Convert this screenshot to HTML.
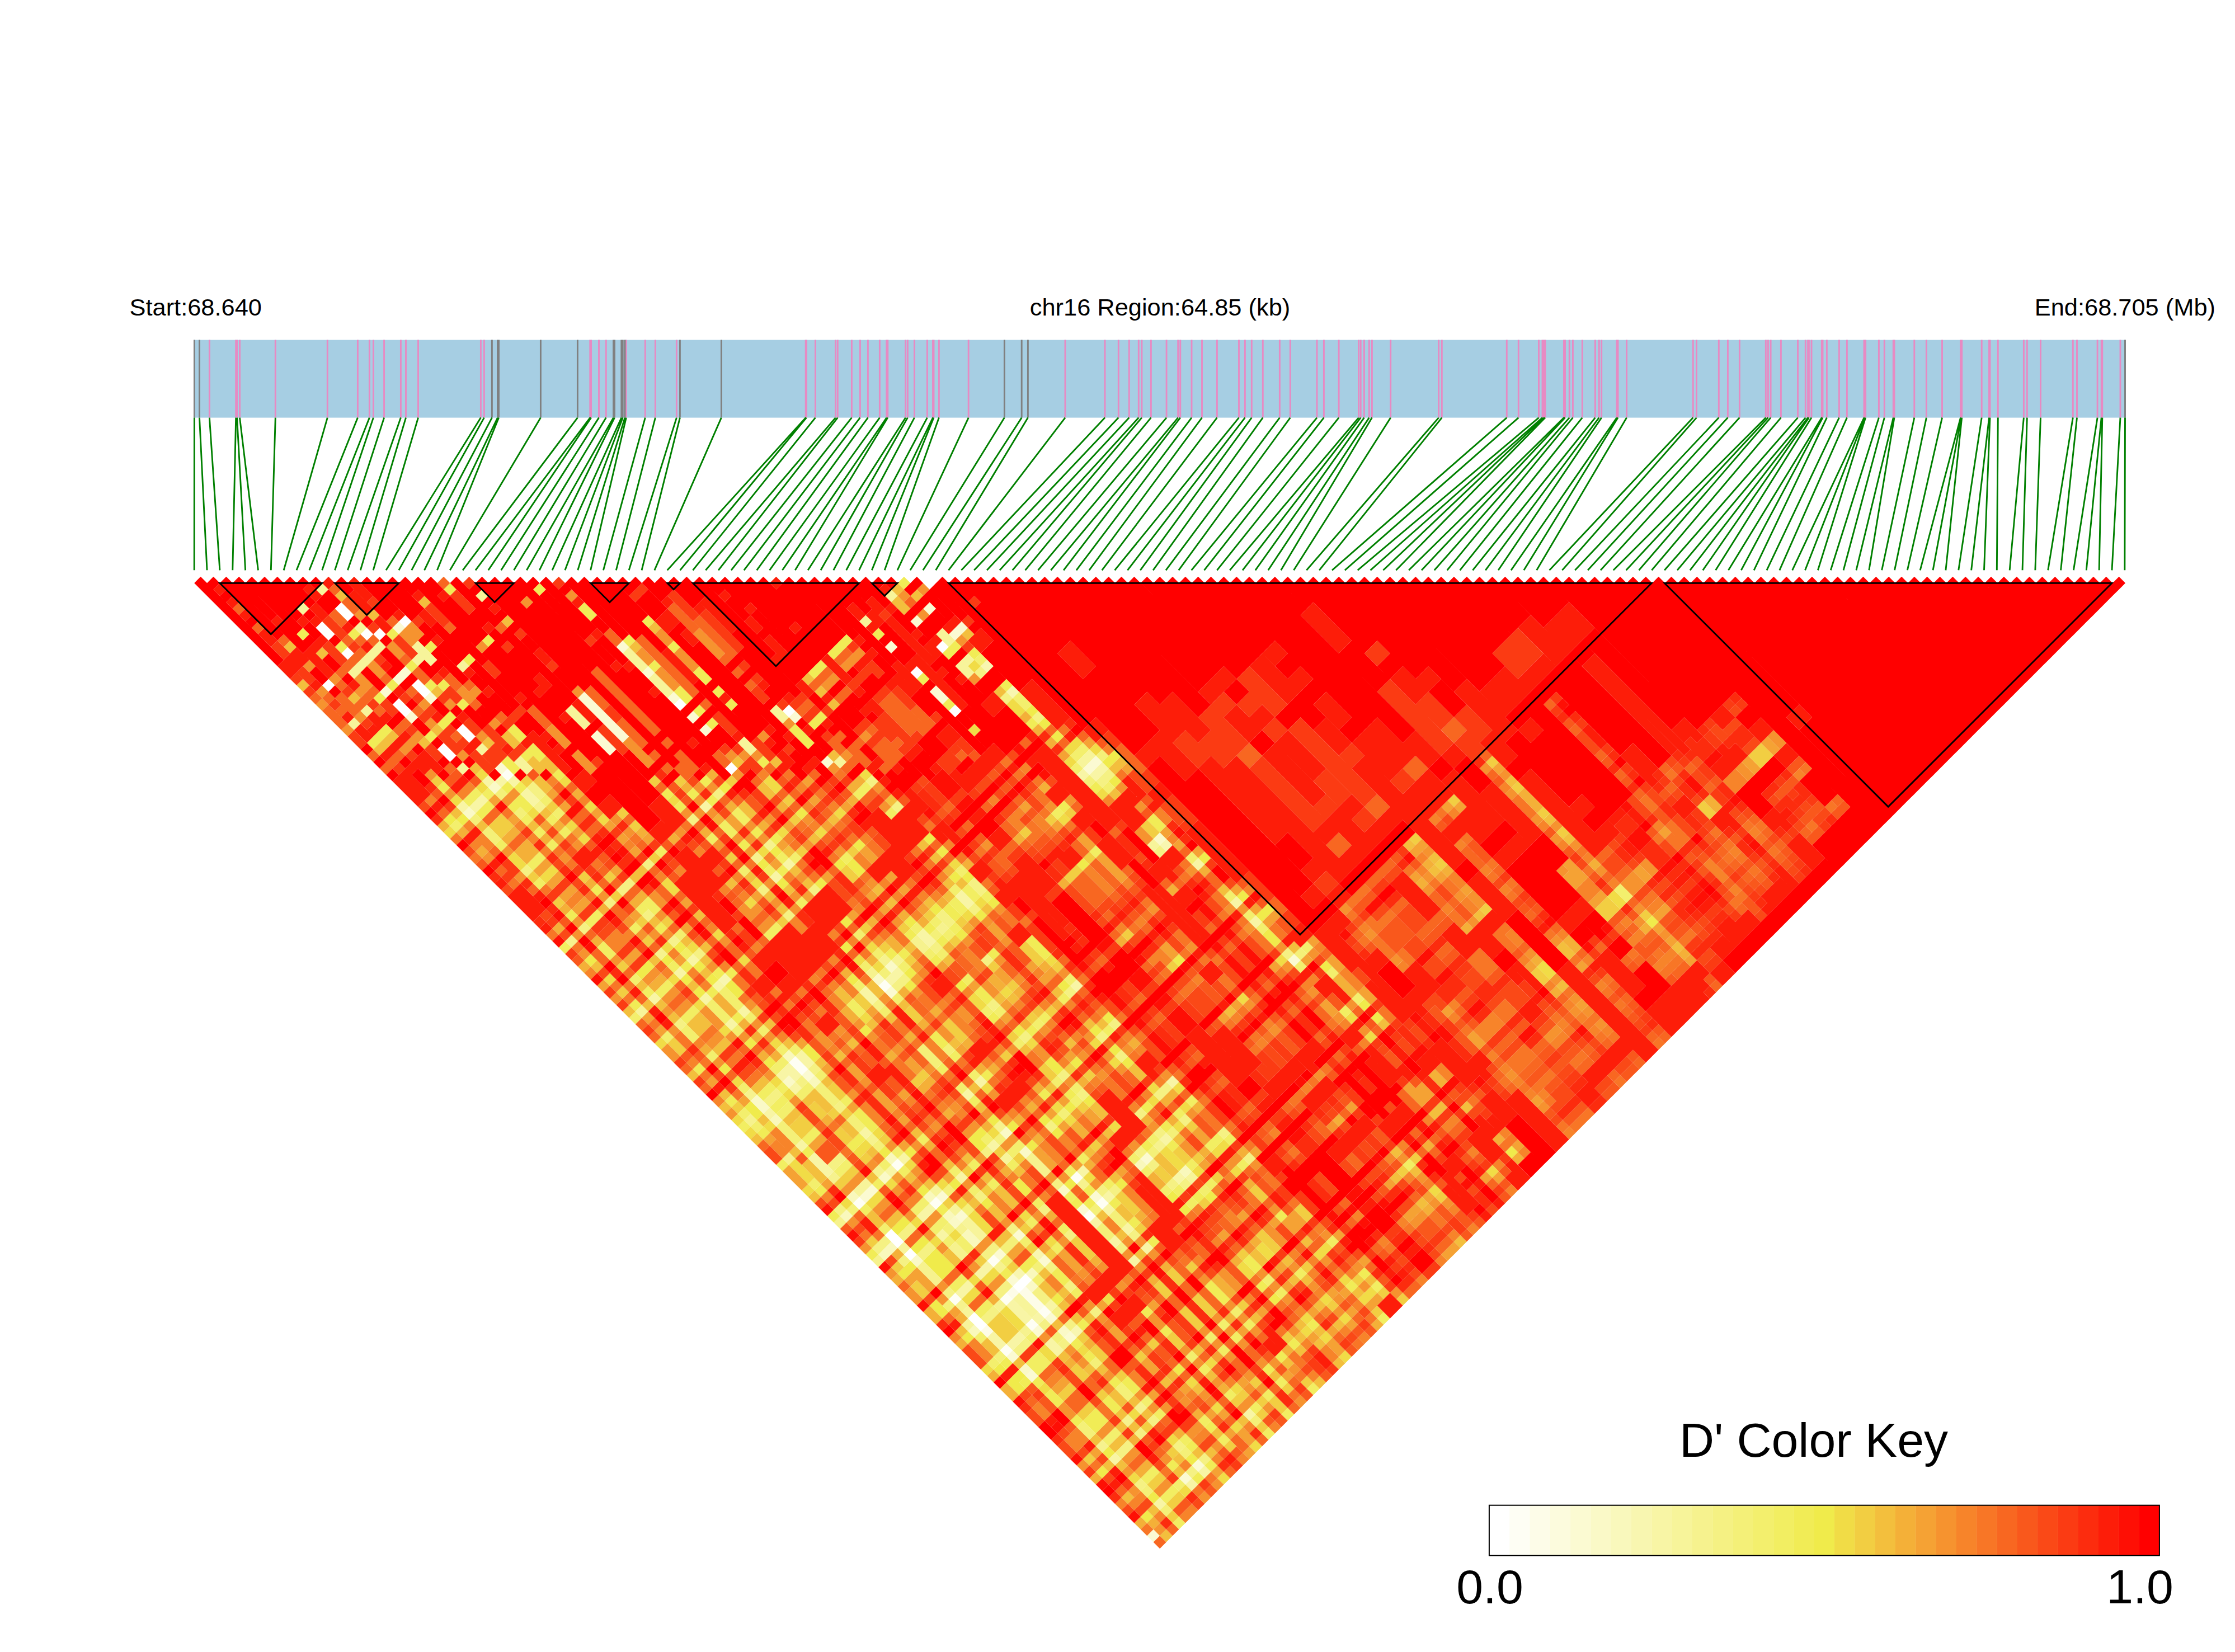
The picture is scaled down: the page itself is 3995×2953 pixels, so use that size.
<!DOCTYPE html><html><head><meta charset="utf-8"><title>LD Block</title>
<style>html,body{margin:0;padding:0;background:#fff}svg{display:block}text{font-family:"Liberation Sans",Arial,sans-serif;fill:#000}</style></head><body>
<svg width="3995" height="2953" viewBox="0 0 3995 2953">
<rect width="3995" height="2953" fill="#fff"/>
<text x="231.5" y="563.8" font-size="43.4">Start:68.640</text>
<text x="2073.5" y="563.8" font-size="43.4" text-anchor="middle">chr16 Region:64.85 (kb)</text>
<text x="3960" y="563.8" font-size="43.4" text-anchor="end">End:68.705 (Mb)</text>
<rect x="346" y="607.6" width="3453.9" height="139" fill="#a6cee3"/>
<path d="M374.4 607.6V746.6M421.7 607.6V746.6M423.6 607.6V746.6M428.5 607.6V746.6M492.3 607.6V746.6M585.3 607.6V746.6M639.4 607.6V746.6M660.4 607.6V746.6M667.4 607.6V746.6M686.6 607.6V746.6M716.4 607.6V746.6M725.5 607.6V746.6M747.5 607.6V746.6M859.4 607.6V746.6M865.4 607.6V746.6M1054.8 607.6V746.6M1056.6 607.6V746.6M1070.5 607.6V746.6M1083.3 607.6V746.6M1119.3 607.6V746.6M1153.3 607.6V746.6M1171.4 607.6V746.6M1209.4 607.6V746.6M1440.2 607.6V746.6M1441.5 607.6V746.6M1457.5 607.6V746.6M1493.5 607.6V746.6M1497.3 607.6V746.6M1522.4 607.6V746.6M1537.4 607.6V746.6M1551.4 607.6V746.6M1572.4 607.6V746.6M1584.8 607.6V746.6M1586.8 607.6V746.6M1618.7 607.6V746.6M1622.4 607.6V746.6M1634.5 607.6V746.6M1657.4 607.6V746.6M1667.5 607.6V746.6M1669 607.6V746.6M1678.4 607.6V746.6M1731.2 607.6V746.6M1904 607.6V746.6M1975 607.6V746.6M1999.3 607.6V746.6M2018.3 607.6V746.6M2035.3 607.6V746.6M2040.9 607.6V746.6M2057.4 607.6V746.6M2085.1 607.6V746.6M2105.7 607.6V746.6M2109.8 607.6V746.6M2130 607.6V746.6M2148.5 607.6V746.6M2175.4 607.6V746.6M2214.5 607.6V746.6M2225.4 607.6V746.6M2237.3 607.6V746.6M2257.3 607.6V746.6M2287.4 607.6V746.6M2306.3 607.6V746.6M2354 607.6V746.6M2366.4 607.6V746.6M2393.1 607.6V746.6M2428.5 607.6V746.6M2432.2 607.6V746.6M2438.4 607.6V746.6M2447.3 607.6V746.6M2452.4 607.6V746.6M2485.7 607.6V746.6M2571.6 607.6V746.6M2577.3 607.6V746.6M2693.3 607.6V746.6M2714.3 607.6V746.6M2750.5 607.6V746.6M2757 607.6V746.6M2759.5 607.6V746.6M2762 607.6V746.6M2795.5 607.6V746.6M2797.5 607.6V746.6M2805.3 607.6V746.6M2811.4 607.6V746.6M2828.3 607.6V746.6M2851.4 607.6V746.6M2858.2 607.6V746.6M2862.7 607.6V746.6M2890 607.6V746.6M2892 607.6V746.6M2907.6 607.6V746.6M3026.3 607.6V746.6M3032.5 607.6V746.6M3072.3 607.6V746.6M3088.4 607.6V746.6M3109.4 607.6V746.6M3156.3 607.6V746.6M3160.4 607.6V746.6M3165.1 607.6V746.6M3183.4 607.6V746.6M3213.5 607.6V746.6M3227.3 607.6V746.6M3231.6 607.6V746.6M3233.4 607.6V746.6M3238 607.6V746.6M3256.3 607.6V746.6M3258 607.6V746.6M3265.4 607.6V746.6M3287.4 607.6V746.6M3301.4 607.6V746.6M3332 607.6V746.6M3333.3 607.6V746.6M3334.6 607.6V746.6M3358.4 607.6V746.6M3368.3 607.6V746.6M3384.3 607.6V746.6M3386 607.6V746.6M3421.8 607.6V746.6M3443.4 607.6V746.6M3471.5 607.6V746.6M3504.5 607.6V746.6M3505.6 607.6V746.6M3506.7 607.6V746.6M3542.2 607.6V746.6M3555.5 607.6V746.6M3557 607.6V746.6M3571.3 607.6V746.6M3617.4 607.6V746.6M3623.3 607.6V746.6M3647.5 607.6V746.6M3705.3 607.6V746.6M3712.5 607.6V746.6M3749.1 607.6V746.6M3756.2 607.6V746.6M3757.8 607.6V746.6M3790 607.6V746.6" stroke="#e78ac3" stroke-width="2.9" fill="none"/>
<path d="M347.4 607.6V746.6M356.5 607.6V746.6M879.4 607.6V746.6M889.5 607.6V746.6M891.5 607.6V746.6M966.4 607.6V746.6M1032.4 607.6V746.6M1096.5 607.6V746.6M1098.5 607.6V746.6M1110.8 607.6V746.6M1113.2 607.6V746.6M1117 607.6V746.6M1215.4 607.6V746.6M1289.4 607.6V746.6M1795.4 607.6V746.6M1826.2 607.6V746.6M1837.4 607.6V746.6M3798.5 607.6V746.6" stroke="#808080" stroke-width="2.9" fill="none"/>
<path d="M347.4 746.6L347.2 1019.3M356.5 746.6L370.05 1019.3M374.4 746.6L392.9 1019.3M421.7 746.6L415.76 1019.3M423.6 746.6L438.61 1019.3M428.5 746.6L461.46 1019.3M492.3 746.6L484.31 1019.3M585.3 746.6L507.16 1019.3M639.4 746.6L530.02 1019.3M660.4 746.6L552.87 1019.3M667.4 746.6L575.72 1019.3M686.6 746.6L598.57 1019.3M716.4 746.6L621.42 1019.3M725.5 746.6L644.28 1019.3M747.5 746.6L667.13 1019.3M859.4 746.6L689.98 1019.3M865.4 746.6L712.83 1019.3M879.4 746.6L735.68 1019.3M889.5 746.6L758.54 1019.3M891.5 746.6L781.39 1019.3M966.4 746.6L804.24 1019.3M1032.4 746.6L827.09 1019.3M1054.8 746.6L849.94 1019.3M1056.6 746.6L872.8 1019.3M1070.5 746.6L895.65 1019.3M1083.3 746.6L918.5 1019.3M1096.5 746.6L941.35 1019.3M1098.5 746.6L964.2 1019.3M1110.8 746.6L987.06 1019.3M1113.2 746.6L1009.91 1019.3M1117 746.6L1032.76 1019.3M1119.3 746.6L1055.61 1019.3M1153.3 746.6L1078.46 1019.3M1171.4 746.6L1101.32 1019.3M1209.4 746.6L1124.17 1019.3M1215.4 746.6L1147.02 1019.3M1289.4 746.6L1169.87 1019.3M1440.2 746.6L1192.72 1019.3M1441.5 746.6L1215.58 1019.3M1457.5 746.6L1238.43 1019.3M1493.5 746.6L1261.28 1019.3M1497.3 746.6L1284.13 1019.3M1522.4 746.6L1306.98 1019.3M1537.4 746.6L1329.84 1019.3M1551.4 746.6L1352.69 1019.3M1572.4 746.6L1375.54 1019.3M1584.8 746.6L1398.39 1019.3M1586.8 746.6L1421.24 1019.3M1618.7 746.6L1444.1 1019.3M1622.4 746.6L1466.95 1019.3M1634.5 746.6L1489.8 1019.3M1657.4 746.6L1512.65 1019.3M1667.5 746.6L1535.5 1019.3M1669 746.6L1558.36 1019.3M1678.4 746.6L1581.21 1019.3M1731.2 746.6L1604.06 1019.3M1795.4 746.6L1626.91 1019.3M1826.2 746.6L1649.76 1019.3M1837.4 746.6L1672.62 1019.3M1904 746.6L1695.47 1019.3M1975 746.6L1718.32 1019.3M1999.3 746.6L1741.17 1019.3M2018.3 746.6L1764.02 1019.3M2035.3 746.6L1786.88 1019.3M2040.9 746.6L1809.73 1019.3M2057.4 746.6L1832.58 1019.3M2085.1 746.6L1855.43 1019.3M2105.7 746.6L1878.28 1019.3M2109.8 746.6L1901.14 1019.3M2130 746.6L1923.99 1019.3M2148.5 746.6L1946.84 1019.3M2175.4 746.6L1969.69 1019.3M2214.5 746.6L1992.54 1019.3M2225.4 746.6L2015.4 1019.3M2237.3 746.6L2038.25 1019.3M2257.3 746.6L2061.1 1019.3M2287.4 746.6L2083.95 1019.3M2306.3 746.6L2106.8 1019.3M2354 746.6L2129.66 1019.3M2366.4 746.6L2152.51 1019.3M2393.1 746.6L2175.36 1019.3M2428.5 746.6L2198.21 1019.3M2432.2 746.6L2221.06 1019.3M2438.4 746.6L2243.92 1019.3M2447.3 746.6L2266.77 1019.3M2452.4 746.6L2289.62 1019.3M2485.7 746.6L2312.47 1019.3M2571.6 746.6L2335.32 1019.3M2577.3 746.6L2358.18 1019.3M2693.3 746.6L2381.03 1019.3M2714.3 746.6L2403.88 1019.3M2750.5 746.6L2426.73 1019.3M2757 746.6L2449.58 1019.3M2759.5 746.6L2472.44 1019.3M2762 746.6L2495.29 1019.3M2795.5 746.6L2518.14 1019.3M2797.5 746.6L2540.99 1019.3M2805.3 746.6L2563.84 1019.3M2811.4 746.6L2586.7 1019.3M2828.3 746.6L2609.55 1019.3M2851.4 746.6L2632.4 1019.3M2858.2 746.6L2655.25 1019.3M2862.7 746.6L2678.1 1019.3M2890 746.6L2700.96 1019.3M2892 746.6L2723.81 1019.3M2907.6 746.6L2746.66 1019.3M3026.3 746.6L2769.51 1019.3M3032.5 746.6L2792.36 1019.3M3072.3 746.6L2815.22 1019.3M3088.4 746.6L2838.07 1019.3M3109.4 746.6L2860.92 1019.3M3156.3 746.6L2883.77 1019.3M3160.4 746.6L2906.62 1019.3M3165.1 746.6L2929.48 1019.3M3183.4 746.6L2952.33 1019.3M3213.5 746.6L2975.18 1019.3M3227.3 746.6L2998.03 1019.3M3231.6 746.6L3020.88 1019.3M3233.4 746.6L3043.74 1019.3M3238 746.6L3066.59 1019.3M3256.3 746.6L3089.44 1019.3M3258 746.6L3112.29 1019.3M3265.4 746.6L3135.14 1019.3M3287.4 746.6L3158 1019.3M3301.4 746.6L3180.85 1019.3M3332 746.6L3203.7 1019.3M3333.3 746.6L3226.55 1019.3M3334.6 746.6L3249.4 1019.3M3358.4 746.6L3272.26 1019.3M3368.3 746.6L3295.11 1019.3M3384.3 746.6L3317.96 1019.3M3386 746.6L3340.81 1019.3M3421.8 746.6L3363.66 1019.3M3443.4 746.6L3386.52 1019.3M3471.5 746.6L3409.37 1019.3M3504.5 746.6L3432.22 1019.3M3505.6 746.6L3455.07 1019.3M3506.7 746.6L3477.92 1019.3M3542.2 746.6L3500.78 1019.3M3555.5 746.6L3523.63 1019.3M3557 746.6L3546.48 1019.3M3571.3 746.6L3569.33 1019.3M3617.4 746.6L3592.18 1019.3M3623.3 746.6L3615.04 1019.3M3647.5 746.6L3637.89 1019.3M3705.3 746.6L3660.74 1019.3M3712.5 746.6L3683.59 1019.3M3749.1 746.6L3706.44 1019.3M3756.2 746.6L3729.3 1019.3M3757.8 746.6L3752.15 1019.3M3790 746.6L3775 1019.3M3798.5 746.6L3797.85 1019.3" stroke="#008000" stroke-width="2.9" fill="none"/>
<g transform="matrix(11.43 -11.43 11.43 11.43 335.774 1030.800)">
<path fill="#ffffff" d="M2 19v1h1v-1zM3 106v2h1v-2zM3 109v1h1v-1zM3 119v2h1v-2zM6 14v2h1v-2zM6 18v1h1v-1zM6 26v2h1v-2zM6 33v2h1v-2zM9 14v2h1v-2zM9 18v1h1v-1zM9 26v2h1v-2zM9 33v2h1v-2zM9 120v1h1v-1zM10 19v1h1v-1zM10 120v1h1v-1zM13 20v1h1v-1zM27 57v1h1v-1zM28 48v1h1v-1zM36 57v1h1v-1zM49 64v1h1v-1zM49 70v1h1v-1zM53 64v1h1v-1zM57 58v1h1v-1z"/>
<path fill="#fefef4" d="M3 101v1h1v-1zM3 116v1h1v-1zM3 124v1h1v-1zM7 120v1h1v-1zM7 124v1h1v-1zM9 40v1h1v-1zM9 85v2h1v-2zM9 101v1h1v-1zM9 107v1h1v-1zM9 116v1h1v-1zM9 124v1h1v-1zM20 120v1h1v-1zM22 86v1h1v-1zM22 116v1h1v-1zM22 120v1h1v-1z"/>
<path fill="#fdfce8" d="M3 121v1h1v-1zM8 120v1h1v-1zM9 121v3h1v-3z"/>
<path fill="#fbfad2" d="M0 150v1h1v-1zM3 125v1h1v-1zM3 128v1h1v-1zM4 101v1h1v-1zM5 101v1h1v-1zM6 24v1h1v-1zM6 28v1h1v-1zM7 125v1h1v-1zM7 148v1h1v-1zM8 24v1h1v-1zM9 24v1h1v-1zM9 28v1h1v-1zM9 39v1h1v-1zM9 87v1h1v-1zM9 119v1h1v-1zM9 125v1h1v-1zM9 128v1h1v-1zM9 148v1h1v-1zM10 107v1h1v-1zM10 110v1h1v-1zM10 116v1h1v-1zM12 20v1h1v-1zM13 116v1h1v-1zM13 120v1h1v-1zM19 44v3h1v-3zM20 119v1h1v-1zM21 40v7h1v-7zM22 87v1h1v-1zM22 119v1h1v-1zM28 39v1h1v-1zM28 43v1h1v-1zM28 47v1h1v-1zM28 50v1h1v-1zM28 52v1h1v-1zM29 120v1h1v-1zM35 64v1h1v-1zM36 58v1h1v-1zM49 60v1h1v-1zM49 67v2h1v-2zM53 60v1h1v-1zM55 60v1h1v-1zM55 64v1h1v-1zM55 85v1h1v-1zM56 64v1h1v-1zM56 85v1h1v-1zM56 116v1h1v-1z"/>
<path fill="#faf9c7" d="M3 40v1h1v-1zM3 85v2h1v-2zM3 110v1h1v-1zM3 127v1h1v-1zM7 40v1h1v-1zM7 86v1h1v-1zM7 101v1h1v-1zM9 110v1h1v-1zM9 127v1h1v-1zM10 121v1h1v-1zM20 107v1h1v-1zM20 110v1h1v-1zM20 116v1h1v-1zM22 85v1h1v-1zM24 85v1h1v-1zM55 96v1h1v-1z"/>
<path fill="#f9f8bc" d="M1 101v1h1v-1zM1 107v1h1v-1zM2 107v1h1v-1zM2 120v1h1v-1zM3 88v1h1v-1zM3 100v1h1v-1zM9 84v1h1v-1zM9 88v1h1v-1zM9 100v1h1v-1zM9 106v1h1v-1zM9 109v1h1v-1zM9 112v2h1v-2zM11 120v1h1v-1zM28 120v1h1v-1zM31 124v1h1v-1z"/>
<path fill="#f8f6b0" d="M10 73v1h1v-1zM10 119v1h1v-1zM10 128v1h1v-1zM13 119v1h1v-1zM55 69v1h1v-1zM55 73v1h1v-1zM55 97v1h1v-1z"/>
<path fill="#f8f5a5" d="M3 39v1h1v-1zM3 69v1h1v-1zM3 87v1h1v-1zM3 92v1h1v-1zM3 94v3h1v-3zM3 122v2h1v-2zM3 141v1h1v-1zM3 148v1h1v-1zM4 40v1h1v-1zM4 116v1h1v-1zM4 124v1h1v-1zM5 40v1h1v-1zM5 116v1h1v-1zM5 124v1h1v-1zM7 39v1h1v-1zM7 69v1h1v-1zM7 73v1h1v-1zM7 77v1h1v-1zM7 85v1h1v-1zM7 87v1h1v-1zM7 107v1h1v-1zM7 110v1h1v-1zM7 116v1h1v-1zM7 121v3h1v-3zM7 127v2h1v-2zM7 149v1h1v-1zM8 40v1h1v-1zM8 85v2h1v-2zM8 101v1h1v-1zM8 107v1h1v-1zM8 116v1h1v-1zM8 124v1h1v-1zM9 41v1h1v-1zM9 43v2h1v-2zM9 69v1h1v-1zM9 73v1h1v-1zM9 77v1h1v-1zM9 96v1h1v-1zM9 149v1h1v-1zM10 85v2h1v-2zM10 101v1h1v-1zM10 124v1h1v-1zM13 107v1h1v-1zM17 148v1h1v-1zM18 107v1h1v-1zM20 85v2h1v-2zM20 101v1h1v-1zM20 121v1h1v-1zM20 124v1h1v-1zM20 127v1h1v-1zM22 58v1h1v-1zM22 69v1h1v-1zM22 101v1h1v-1zM22 121v1h1v-1zM22 124v1h1v-1zM22 127v1h1v-1zM23 86v1h1v-1zM23 116v1h1v-1zM23 120v1h1v-1zM24 69v1h1v-1zM24 86v1h1v-1zM29 85v2h1v-2zM30 124v1h1v-1zM32 120v1h1v-1zM35 85v2h1v-2zM37 101v1h1v-1zM37 116v1h1v-1zM54 85v1h1v-1zM55 86v1h1v-1zM56 86v1h1v-1zM56 101v1h1v-1zM56 107v1h1v-1zM56 110v1h1v-1z"/>
<path fill="#f7f49a" d="M1 24v1h1v-1zM1 69v1h1v-1zM2 119v1h1v-1zM3 24v1h1v-1zM3 108v1h1v-1zM3 118v1h1v-1zM4 100v1h1v-1zM5 20v1h1v-1zM5 100v1h1v-1zM6 11v1h1v-1zM6 20v1h1v-1zM6 36v1h1v-1zM7 20v1h1v-1zM8 20v1h1v-1zM8 121v3h1v-3zM9 11v1h1v-1zM9 17v1h1v-1zM9 20v1h1v-1zM9 36v1h1v-1zM10 106v1h1v-1zM10 109v1h1v-1zM10 111v3h1v-3zM11 24v1h1v-1zM11 40v2h1v-2zM12 23v3h1v-3zM14 28v1h1v-1zM18 109v1h1v-1zM19 40v3h1v-3zM21 24v1h1v-1zM28 40v3h1v-3zM28 44v3h1v-3zM30 56v2h1v-2zM31 125v1h1v-1zM35 56v2h1v-2zM36 65v1h1v-1zM49 56v1h1v-1zM53 56v1h1v-1zM53 67v2h1v-2zM54 63v2h1v-2zM54 67v1h1v-1zM54 96v1h1v-1zM55 84v1h1v-1zM56 84v1h1v-1z"/>
<path fill="#f6f28e" d="M0 101v1h1v-1zM0 107v1h1v-1zM1 58v1h1v-1zM1 86v1h1v-1zM1 92v1h1v-1zM3 84v1h1v-1zM3 97v1h1v-1zM3 111v3h1v-3zM3 117v1h1v-1zM3 139v1h1v-1zM6 120v1h1v-1zM6 124v1h1v-1zM7 66v1h1v-1zM7 100v1h1v-1zM7 112v2h1v-2zM7 139v1h1v-1zM9 45v1h1v-1zM9 66v1h1v-1zM9 97v1h1v-1zM9 111v1h1v-1zM9 117v1h1v-1zM9 139v1h1v-1zM20 106v1h1v-1zM20 111v3h1v-3zM22 66v1h1v-1zM22 84v1h1v-1zM22 117v1h1v-1zM24 66v1h1v-1zM24 84v1h1v-1zM25 85v1h1v-1zM28 85v2h1v-2zM31 86v1h1v-1zM31 120v1h1v-1z"/>
<path fill="#f5f183" d="M1 100v1h1v-1zM1 106v1h1v-1zM2 106v1h1v-1zM2 109v1h1v-1zM3 49v1h1v-1zM3 58v1h1v-1zM3 73v1h1v-1zM3 115v1h1v-1zM3 145v1h1v-1zM4 86v1h1v-1zM4 96v1h1v-1zM4 107v1h1v-1zM4 110v1h1v-1zM4 120v1h1v-1zM4 125v1h1v-1zM4 141v1h1v-1zM5 86v1h1v-1zM5 96v1h1v-1zM5 107v1h1v-1zM5 110v1h1v-1zM5 120v1h1v-1zM5 125v1h1v-1zM5 141v1h1v-1zM7 58v1h1v-1zM7 119v1h1v-1zM7 141v1h1v-1zM8 87v1h1v-1zM8 119v1h1v-1zM8 125v1h1v-1zM8 128v1h1v-1zM8 148v1h1v-1zM9 58v1h1v-1zM9 62v1h1v-1zM9 92v1h1v-1zM9 115v1h1v-1zM9 141v1h1v-1zM9 145v1h1v-1zM10 43v2h1v-2zM10 58v1h1v-1zM10 69v1h1v-1zM10 87v1h1v-1zM10 115v1h1v-1zM10 122v2h1v-2zM10 125v1h1v-1zM10 127v1h1v-1zM10 148v1h1v-1zM13 58v1h1v-1zM13 110v1h1v-1zM13 115v1h1v-1zM13 121v1h1v-1zM13 124v1h1v-1zM13 128v1h1v-1zM17 107v1h1v-1zM17 116v1h1v-1zM17 120v1h1v-1zM20 58v1h1v-1zM20 69v1h1v-1zM20 73v1h1v-1zM20 87v1h1v-1zM20 115v1h1v-1zM20 125v1h1v-1zM22 125v1h1v-1zM23 87v1h1v-1zM23 119v1h1v-1zM24 58v1h1v-1zM24 73v1h1v-1zM24 87v1h1v-1zM24 110v1h1v-1zM24 120v1h1v-1zM29 87v1h1v-1zM29 96v1h1v-1zM29 101v1h1v-1zM29 107v1h1v-1zM29 110v1h1v-1zM29 119v1h1v-1zM29 121v1h1v-1zM29 124v1h1v-1zM30 125v1h1v-1zM32 85v2h1v-2zM32 92v1h1v-1zM32 116v1h1v-1zM32 119v1h1v-1zM35 87v1h1v-1zM35 107v1h1v-1zM35 110v1h1v-1zM35 116v1h1v-1zM35 120v1h1v-1zM36 101v1h1v-1zM36 116v1h1v-1zM37 69v1h1v-1zM37 73v1h1v-1zM37 85v2h1v-2zM37 107v1h1v-1zM37 124v1h1v-1zM37 128v1h1v-1zM54 69v1h1v-1zM54 73v1h1v-1zM54 97v1h1v-1zM55 77v1h1v-1zM55 87v1h1v-1zM56 87v1h1v-1zM56 115v1h1v-1z"/>
<path fill="#f4f078" d="M2 101v1h1v-1zM2 116v1h1v-1zM2 124v1h1v-1zM3 41v1h1v-1zM3 43v2h1v-2zM3 89v3h1v-3zM3 136v2h1v-2zM3 146v1h1v-1zM3 149v1h1v-1zM7 41v1h1v-1zM7 44v1h1v-1zM8 110v1h1v-1zM8 127v1h1v-1zM9 89v3h1v-3zM9 94v2h1v-2zM9 98v1h1v-1zM9 132v1h1v-1zM9 136v2h1v-2zM9 146v1h1v-1zM11 107v1h1v-1zM11 110v1h1v-1zM11 116v1h1v-1zM12 116v1h1v-1zM12 120v1h1v-1zM17 149v1h1v-1zM19 107v1h1v-1zM20 94v3h1v-3zM20 122v2h1v-2zM21 120v1h1v-1zM22 96v1h1v-1zM22 122v2h1v-2zM23 85v1h1v-1zM26 110v1h1v-1zM30 86v1h1v-1zM30 120v1h1v-1zM33 120v1h1v-1zM54 86v1h1v-1zM57 85v1h1v-1zM57 116v1h1v-1z"/>
<path fill="#f3ef6d" d="M0 69v1h1v-1zM1 40v1h1v-1zM1 73v1h1v-1zM1 85v1h1v-1zM1 87v1h1v-1zM1 96v1h1v-1zM1 124v1h1v-1zM2 121v1h1v-1zM3 66v1h1v-1zM3 74v2h1v-2zM3 78v1h1v-1zM3 83v1h1v-1zM3 105v1h1v-1zM4 88v1h1v-1zM4 97v1h1v-1zM4 139v1h1v-1zM5 88v1h1v-1zM5 97v1h1v-1zM5 139v1h1v-1zM6 125v1h1v-1zM6 148v1h1v-1zM7 74v3h1v-3zM7 78v1h1v-1zM7 84v1h1v-1zM7 88v1h1v-1zM7 106v1h1v-1zM7 109v1h1v-1zM7 111v1h1v-1zM8 84v1h1v-1zM8 88v1h1v-1zM8 100v1h1v-1zM8 106v1h1v-1zM8 109v1h1v-1zM8 112v2h1v-2zM9 74v3h1v-3zM9 78v1h1v-1zM9 80v1h1v-1zM9 83v1h1v-1zM10 45v1h1v-1zM10 47v1h1v-1zM10 66v1h1v-1zM10 84v1h1v-1zM10 88v1h1v-1zM10 100v1h1v-1zM10 117v1h1v-1zM10 139v1h1v-1zM11 121v1h1v-1zM13 106v1h1v-1zM13 109v1h1v-1zM13 117v1h1v-1zM17 139v1h1v-1zM18 106v1h1v-1zM19 109v1h1v-1zM20 66v1h1v-1zM20 84v1h1v-1zM20 88v1h1v-1zM20 100v1h1v-1zM20 109v1h1v-1zM20 139v1h1v-1zM22 83v1h1v-1zM22 88v1h1v-1zM22 100v1h1v-1zM22 139v1h1v-1zM24 80v1h1v-1zM24 83v1h1v-1zM24 139v1h1v-1zM25 69v1h1v-1zM25 86v1h1v-1zM28 87v1h1v-1zM28 96v1h1v-1zM28 101v1h1v-1zM28 107v1h1v-1zM28 110v1h1v-1zM28 119v1h1v-1zM28 121v1h1v-1zM28 124v1h1v-1zM29 84v1h1v-1zM29 88v1h1v-1zM29 97v1h1v-1zM29 109v1h1v-1zM29 139v1h1v-1zM31 85v1h1v-1zM31 87v1h1v-1zM31 101v1h1v-1zM31 119v1h1v-1zM31 127v1h1v-1zM35 84v1h1v-1zM37 83v1h1v-1zM37 100v1h1v-1zM54 84v1h1v-1zM55 68v1h1v-1zM55 74v2h1v-2zM55 83v1h1v-1zM55 88v1h1v-1zM56 83v1h1v-1zM56 100v1h1v-1zM56 106v1h1v-1zM56 109v1h1v-1zM56 111v1h1v-1zM56 117v1h1v-1zM58 116v1h1v-1zM58 120v1h1v-1zM58 124v1h1v-1zM87 136v2h1v-2z"/>
<path fill="#f2ee62" d="M0 58v1h1v-1zM0 86v1h1v-1zM0 92v1h1v-1zM3 45v1h1v-1zM3 51v1h1v-1zM3 61v2h1v-2zM3 68v1h1v-1zM3 102v1h1v-1zM3 151v1h1v-1zM4 39v1h1v-1zM4 49v1h1v-1zM4 58v1h1v-1zM4 69v1h1v-1zM4 73v1h1v-1zM4 85v1h1v-1zM4 87v1h1v-1zM4 92v1h1v-1zM4 115v1h1v-1zM4 119v1h1v-1zM4 127v2h1v-2zM4 145v1h1v-1zM4 148v1h1v-1zM5 39v1h1v-1zM5 49v1h1v-1zM5 58v1h1v-1zM5 69v1h1v-1zM5 73v1h1v-1zM5 85v1h1v-1zM5 87v1h1v-1zM5 92v1h1v-1zM5 115v1h1v-1zM5 119v1h1v-1zM5 127v2h1v-2zM5 145v1h1v-1zM5 148v1h1v-1zM6 40v1h1v-1zM6 86v1h1v-1zM6 101v1h1v-1zM7 45v1h1v-1zM7 47v1h1v-1zM7 49v1h1v-1zM7 62v1h1v-1zM7 68v1h1v-1zM9 47v1h1v-1zM9 49v1h1v-1zM9 61v1h1v-1zM9 68v1h1v-1zM9 102v1h1v-1zM10 61v2h1v-2zM10 92v1h1v-1zM10 141v1h1v-1zM10 145v1h1v-1zM13 101v1h1v-1zM13 125v1h1v-1zM13 145v1h1v-1zM13 148v1h1v-1zM15 58v1h1v-1zM15 107v1h1v-1zM15 110v1h1v-1zM15 116v1h1v-1zM15 120v1h1v-1zM17 73v1h1v-1zM17 115v1h1v-1zM17 119v1h1v-1zM17 141v1h1v-1zM17 145v1h1v-1zM17 151v1h1v-1zM18 73v1h1v-1zM18 85v2h1v-2zM18 110v1h1v-1zM18 148v1h1v-1zM20 61v1h1v-1zM20 97v1h1v-1zM20 102v1h1v-1zM20 117v1h1v-1zM20 141v1h1v-1zM20 148v1h1v-1zM20 151v1h1v-1zM22 61v2h1v-2zM22 68v1h1v-1zM22 73v1h1v-1zM22 97v1h1v-1zM22 115v1h1v-1zM22 141v1h1v-1zM22 148v1h1v-1zM24 61v2h1v-2zM24 68v1h1v-1zM24 115v1h1v-1zM24 119v1h1v-1zM24 141v1h1v-1zM24 151v1h1v-1zM29 73v1h1v-1zM29 92v1h1v-1zM29 125v1h1v-1zM29 127v1h1v-1zM29 141v1h1v-1zM32 87v1h1v-1zM32 101v1h1v-1zM32 124v1h1v-1zM32 127v1h1v-1zM32 141v1h1v-1zM34 85v2h1v-2zM35 69v1h1v-1zM35 101v1h1v-1zM35 119v1h1v-1zM35 124v1h1v-1zM35 151v1h1v-1zM36 69v1h1v-1zM36 73v1h1v-1zM36 85v2h1v-2zM36 107v1h1v-1zM36 124v1h1v-1zM36 128v1h1v-1zM37 87v1h1v-1zM37 119v1h1v-1zM37 125v1h1v-1zM37 141v1h1v-1zM37 148v1h1v-1zM49 86v1h1v-1zM49 92v1h1v-1zM49 141v1h1v-1zM56 124v1h1v-1z"/>
<path fill="#f1ec56" d="M0 100v1h1v-1zM0 106v1h1v-1zM1 27v1h1v-1zM1 68v1h1v-1zM1 78v1h1v-1zM1 83v1h1v-1zM1 88v1h1v-1zM1 97v1h1v-1zM2 27v1h1v-1zM2 125v1h1v-1zM2 128v1h1v-1zM3 27v1h1v-1zM3 36v1h1v-1zM3 56v1h1v-1zM3 93v1h1v-1zM3 129v1h1v-1zM3 131v2h1v-2zM3 135v1h1v-1zM4 13v1h1v-1zM4 41v1h1v-1zM4 136v2h1v-2zM5 24v1h1v-1zM5 41v1h1v-1zM5 136v2h1v-2zM6 17v1h1v-1zM6 31v1h1v-1zM7 24v1h1v-1zM7 43v1h1v-1zM7 56v1h1v-1zM7 96v1h1v-1zM7 136v2h1v-2zM7 146v1h1v-1zM8 17v1h1v-1zM8 31v1h1v-1zM8 41v1h1v-1zM8 43v2h1v-2zM8 69v1h1v-1zM8 73v1h1v-1zM8 77v1h1v-1zM8 96v1h1v-1zM8 149v1h1v-1zM9 31v1h1v-1zM9 42v1h1v-1zM9 64v1h1v-1zM9 108v1h1v-1zM9 118v1h1v-1zM9 129v1h1v-1zM9 131v1h1v-1zM9 135v1h1v-1zM10 24v1h1v-1zM10 27v1h1v-1zM10 39v2h1v-2zM10 72v1h1v-1zM10 94v3h1v-3zM10 136v2h1v-2zM10 146v1h1v-1zM10 149v1h1v-1zM11 20v1h1v-1zM11 28v1h1v-1zM11 31v1h1v-1zM11 73v1h1v-1zM11 119v1h1v-1zM11 128v1h1v-1zM12 40v1h1v-1zM12 119v1h1v-1zM13 24v1h1v-1zM13 37v2h1v-2zM13 40v2h1v-2zM13 44v1h1v-1zM13 122v2h1v-2zM13 146v1h1v-1zM15 28v1h1v-1zM17 132v1h1v-1zM17 135v1h1v-1zM18 28v1h1v-1zM19 21v1h1v-1zM20 54v1h1v-1zM20 56v1h1v-1zM20 118v1h1v-1zM21 119v1h1v-1zM22 56v1h1v-1zM22 64v1h1v-1zM22 94v2h1v-2zM22 118v1h1v-1zM22 146v1h1v-1zM23 58v1h1v-1zM23 69v1h1v-1zM23 101v1h1v-1zM23 121v1h1v-1zM23 124v1h1v-1zM23 127v1h1v-1zM24 56v1h1v-1zM24 64v1h1v-1zM24 135v3h1v-3zM24 146v1h1v-1zM25 66v1h1v-1zM25 84v1h1v-1zM26 28v1h1v-1zM26 85v1h1v-1zM26 107v1h1v-1zM26 146v1h1v-1zM28 33v2h1v-2zM28 84v1h1v-1zM28 88v1h1v-1zM28 97v1h1v-1zM28 109v1h1v-1zM28 139v1h1v-1zM29 39v1h1v-1zM29 43v1h1v-1zM29 47v2h1v-2zM29 50v1h1v-1zM29 52v1h1v-1zM29 94v2h1v-2zM29 136v2h1v-2zM29 146v1h1v-1zM30 59v1h1v-1zM30 85v1h1v-1zM30 87v1h1v-1zM30 101v1h1v-1zM30 119v1h1v-1zM30 127v1h1v-1zM32 39v1h1v-1zM32 43v1h1v-1zM32 47v2h1v-2zM32 50v1h1v-1zM32 52v1h1v-1zM32 121v1h1v-1zM33 85v2h1v-2zM33 92v1h1v-1zM33 116v1h1v-1zM33 119v1h1v-1zM35 59v3h1v-3zM35 135v1h1v-1zM35 146v1h1v-1zM37 60v1h1v-1zM37 94v3h1v-3zM37 146v1h1v-1zM38 60v1h1v-1zM41 56v1h1v-1zM42 56v1h1v-1zM44 56v1h1v-1zM45 56v1h1v-1zM46 56v1h1v-1zM49 58v1h1v-1zM49 65v1h1v-1zM49 69v1h1v-1zM50 86v1h1v-1zM53 65v1h1v-1zM54 65v1h1v-1zM54 77v1h1v-1zM54 87v1h1v-1zM55 56v1h1v-1zM55 67v1h1v-1zM55 72v1h1v-1zM56 94v2h1v-2z"/>
<path fill="#f0eb4b" d="M1 39v1h1v-1zM1 61v1h1v-1zM1 110v1h1v-1zM1 115v2h1v-2zM1 120v1h1v-1zM1 125v1h1v-1zM1 127v2h1v-2zM1 141v1h1v-1zM1 148v1h1v-1zM2 40v1h1v-1zM2 85v2h1v-2zM2 110v1h1v-1zM2 127v1h1v-1zM3 80v1h1v-1zM3 140v1h1v-1zM3 147v1h1v-1zM4 66v1h1v-1zM4 106v1h1v-1zM4 109v1h1v-1zM4 111v3h1v-3zM5 66v1h1v-1zM5 106v1h1v-1zM5 109v1h1v-1zM5 111v3h1v-3zM7 67v1h1v-1zM7 70v1h1v-1zM7 72v1h1v-1zM7 80v1h1v-1zM7 83v1h1v-1zM9 67v1h1v-1zM9 70v1h1v-1zM9 72v1h1v-1zM9 99v1h1v-1zM9 105v1h1v-1zM9 147v1h1v-1zM10 74v2h1v-2zM11 85v2h1v-2zM11 101v1h1v-1zM11 124v1h1v-1zM12 107v1h1v-1zM13 111v1h1v-1zM15 139v1h1v-1zM17 88v1h1v-1zM17 105v2h1v-2zM17 112v2h1v-2zM18 105v1h1v-1zM20 83v1h1v-1zM20 105v1h1v-1zM21 107v1h1v-1zM21 110v1h1v-1zM21 116v1h1v-1zM22 67v1h1v-1zM22 70v1h1v-1zM22 80v1h1v-1zM24 67v1h1v-1zM24 78v1h1v-1zM24 88v1h1v-1zM24 109v1h1v-1zM24 111v1h1v-1zM25 58v1h1v-1zM25 73v1h1v-1zM25 87v1h1v-1zM25 110v1h1v-1zM25 120v1h1v-1zM27 110v1h1v-1zM28 73v1h1v-1zM28 92v1h1v-1zM28 125v1h1v-1zM28 127v1h1v-1zM28 141v1h1v-1zM29 66v1h1v-1zM29 74v2h1v-2zM29 83v1h1v-1zM29 100v1h1v-1zM29 105v2h1v-2zM29 111v1h1v-1zM31 73v1h1v-1zM31 107v1h1v-1zM31 128v1h1v-1zM32 84v1h1v-1zM32 88v1h1v-1zM35 88v1h1v-1zM35 106v1h1v-1zM35 109v1h1v-1zM35 111v1h1v-1zM36 83v1h1v-1zM36 100v1h1v-1zM37 78v1h1v-1zM37 80v1h1v-1zM37 84v1h1v-1zM37 88v1h1v-1zM37 106v1h1v-1zM47 92v1h1v-1zM47 107v1h1v-1zM55 76v1h1v-1zM55 78v1h1v-1zM55 80v1h1v-1zM56 88v1h1v-1zM56 112v2h1v-2zM57 86v1h1v-1zM57 101v1h1v-1zM57 107v1h1v-1zM57 110v1h1v-1zM58 86v1h1v-1zM58 110v1h1v-1zM58 119v1h1v-1zM58 125v1h1v-1zM58 127v1h1v-1zM58 148v1h1v-1zM87 141v1h1v-1z"/>
<path fill="#f1dc46" d="M0 40v1h1v-1zM0 73v1h1v-1zM0 85v1h1v-1zM0 87v1h1v-1zM0 96v1h1v-1zM0 124v1h1v-1zM1 64v1h1v-1zM1 93v3h1v-3zM2 88v1h1v-1zM2 100v1h1v-1zM3 38v1h1v-1zM3 47v2h1v-2zM3 82v1h1v-1zM3 130v1h1v-1zM3 144v1h1v-1zM4 51v1h1v-1zM4 102v1h1v-1zM4 117v1h1v-1zM5 51v1h1v-1zM5 102v1h1v-1zM5 117v1h1v-1zM6 39v1h1v-1zM6 69v1h1v-1zM6 73v1h1v-1zM6 77v1h1v-1zM6 85v1h1v-1zM6 87v1h1v-1zM6 107v1h1v-1zM6 110v1h1v-1zM6 116v1h1v-1zM6 121v3h1v-3zM6 127v2h1v-2zM6 149v1h1v-1zM7 38v1h1v-1zM7 97v1h1v-1zM7 102v1h1v-1zM7 117v1h1v-1zM8 45v1h1v-1zM8 66v1h1v-1zM8 97v1h1v-1zM8 111v1h1v-1zM8 117v1h1v-1zM8 139v1h1v-1zM9 82v1h1v-1zM9 130v1h1v-1zM9 144v1h1v-1zM10 49v1h1v-1zM10 51v1h1v-1zM10 68v1h1v-1zM10 97v1h1v-1zM10 102v1h1v-1zM10 151v1h1v-1zM11 106v1h1v-1zM11 109v1h1v-1zM11 111v3h1v-3zM13 45v1h1v-1zM13 49v1h1v-1zM13 51v1h1v-1zM13 61v2h1v-2zM13 69v1h1v-1zM13 73v1h1v-1zM15 115v1h1v-1zM15 119v1h1v-1zM15 128v1h1v-1zM15 141v1h1v-1zM15 145v1h1v-1zM15 148v1h1v-1zM15 151v1h1v-1zM18 69v1h1v-1zM18 87v1h1v-1zM18 141v1h1v-1zM18 145v1h1v-1zM19 106v1h1v-1zM20 55v1h1v-1zM20 68v1h1v-1zM22 82v1h1v-1zM22 102v1h1v-1zM23 66v1h1v-1zM23 84v1h1v-1zM23 117v1h1v-1zM24 82v1h1v-1zM26 66v1h1v-1zM26 109v1h1v-1zM26 111v1h1v-1zM28 94v2h1v-2zM28 136v2h1v-2zM28 146v1h1v-1zM29 61v2h1v-2zM29 69v1h1v-1zM29 102v1h1v-1zM29 115v1h1v-1zM29 145v1h1v-1zM29 148v1h1v-1zM29 151v1h1v-1zM31 96v1h1v-1zM31 121v3h1v-3zM31 136v2h1v-2zM32 69v1h1v-1zM32 125v1h1v-1zM32 145v1h1v-1zM32 148v1h1v-1zM34 87v1h1v-1zM34 107v1h1v-1zM34 110v1h1v-1zM34 116v1h1v-1zM34 120v1h1v-1zM35 115v1h1v-1zM35 125v1h1v-1zM35 128v1h1v-1zM35 141v1h1v-1zM35 145v1h1v-1zM35 148v1h1v-1zM36 87v1h1v-1zM36 119v1h1v-1zM36 125v1h1v-1zM36 141v1h1v-1zM36 148v1h1v-1zM37 68v1h1v-1zM37 82v1h1v-1zM37 97v1h1v-1zM37 117v1h1v-1zM49 73v1h1v-1zM49 87v1h1v-1zM49 115v1h1v-1zM49 145v1h1v-1zM54 68v1h1v-1zM54 74v2h1v-2zM54 83v1h1v-1zM54 88v1h1v-1zM55 82v1h1v-1zM55 115v1h1v-1zM55 148v1h1v-1zM56 82v1h1v-1zM56 125v1h1v-1zM56 128v1h1v-1zM57 84v1h1v-1zM75 136v2h1v-2zM86 136v2h1v-2z"/>
<path fill="#f2ce42" d="M1 66v1h1v-1zM1 74v2h1v-2zM1 84v1h1v-1zM1 105v1h1v-1zM1 109v1h1v-1zM1 112v2h1v-2zM1 139v1h1v-1zM3 35v1h1v-1zM3 50v1h1v-1zM3 54v1h1v-1zM3 64v1h1v-1zM3 98v1h1v-1zM3 150v1h1v-1zM4 43v2h1v-2zM4 90v2h1v-2zM4 98v1h1v-1zM4 121v3h1v-3zM4 132v1h1v-1zM4 135v1h1v-1zM4 146v1h1v-1zM4 149v1h1v-1zM5 43v2h1v-2zM5 90v2h1v-2zM5 98v1h1v-1zM5 121v3h1v-3zM5 132v1h1v-1zM5 135v1h1v-1zM5 146v1h1v-1zM5 149v1h1v-1zM7 54v1h1v-1zM7 64v1h1v-1zM7 90v2h1v-2zM7 94v2h1v-2zM7 98v1h1v-1zM7 131v2h1v-2zM7 135v1h1v-1zM8 58v1h1v-1zM8 62v1h1v-1zM8 92v1h1v-1zM8 115v1h1v-1zM8 141v1h1v-1zM8 145v1h1v-1zM9 56v1h1v-1zM9 93v1h1v-1zM10 42v1h1v-1zM10 46v1h1v-1zM10 64v1h1v-1zM10 90v2h1v-2zM10 98v1h1v-1zM10 108v1h1v-1zM10 118v1h1v-1zM10 129v1h1v-1zM10 131v2h1v-2zM10 135v1h1v-1zM13 118v1h1v-1zM13 135v1h1v-1zM13 149v1h1v-1zM14 58v1h1v-1zM14 107v1h1v-1zM14 110v1h1v-1zM14 116v1h1v-1zM14 120v1h1v-1zM15 52v1h1v-1zM15 54v1h1v-1zM15 135v1h1v-1zM17 96v1h1v-1zM17 121v3h1v-3zM17 136v2h1v-2zM17 146v1h1v-1zM17 150v1h1v-1zM18 96v1h1v-1zM18 108v1h1v-1zM18 146v1h1v-1zM18 149v1h1v-1zM19 73v1h1v-1zM19 85v2h1v-2zM19 110v1h1v-1zM19 148v1h1v-1zM20 52v1h1v-1zM20 64v1h1v-1zM20 131v2h1v-2zM20 135v3h1v-3zM20 146v1h1v-1zM20 149v2h1v-2zM22 54v1h1v-1zM22 90v2h1v-2zM22 131v2h1v-2zM22 135v3h1v-3zM22 149v1h1v-1zM23 125v1h1v-1zM24 94v3h1v-3zM24 121v3h1v-3zM24 132v1h1v-1zM24 150v1h1v-1zM25 80v1h1v-1zM25 83v1h1v-1zM25 139v1h1v-1zM26 58v1h1v-1zM26 69v1h1v-1zM26 86v1h1v-1zM26 101v1h1v-1zM26 115v1h1v-1zM26 145v1h1v-1zM28 66v1h1v-1zM28 74v2h1v-2zM28 83v1h1v-1zM28 100v1h1v-1zM28 105v2h1v-2zM28 111v1h1v-1zM29 64v1h1v-1zM29 122v2h1v-2zM29 135v1h1v-1zM30 73v1h1v-1zM30 107v1h1v-1zM30 128v1h1v-1zM31 84v1h1v-1zM31 88v1h1v-1zM31 100v1h1v-1zM31 109v1h1v-1zM32 93v1h1v-1zM32 96v1h1v-1zM32 122v2h1v-2zM32 135v3h1v-3zM32 146v1h1v-1zM33 87v1h1v-1zM33 101v1h1v-1zM33 124v1h1v-1zM33 127v1h1v-1zM33 141v1h1v-1zM35 121v1h1v-1zM35 131v2h1v-2zM35 150v1h1v-1zM36 94v3h1v-3zM36 146v1h1v-1zM37 98v1h1v-1zM37 136v2h1v-2zM37 149v1h1v-1zM38 151v1h1v-1zM45 85v1h1v-1zM45 92v1h1v-1zM45 101v1h1v-1zM46 92v1h1v-1zM46 107v1h1v-1zM48 86v1h1v-1zM48 92v1h1v-1zM48 141v1h1v-1zM49 146v1h1v-1zM50 87v1h1v-1zM50 141v1h1v-1zM55 94v2h1v-2zM74 136v2h1v-2zM75 116v1h1v-1zM75 120v1h1v-1zM75 127v1h1v-1zM81 116v1h1v-1zM84 136v2h1v-2zM85 136v2h1v-2zM87 116v1h1v-1zM87 120v1h1v-1zM87 124v1h1v-1zM87 127v1h1v-1zM87 140v1h1v-1zM100 136v2h1v-2zM108 136v2h1v-2zM109 136v2h1v-2z"/>
<path fill="#f3bf3d" d="M0 17v1h1v-1zM0 68v1h1v-1zM0 78v1h1v-1zM0 83v1h1v-1zM0 88v1h1v-1zM0 97v1h1v-1zM1 28v1h1v-1zM1 62v1h1v-1zM1 82v1h1v-1zM1 119v1h1v-1zM1 145v1h1v-1zM1 151v1h1v-1zM2 13v1h1v-1zM2 28v1h1v-1zM2 39v1h1v-1zM2 69v1h1v-1zM2 87v1h1v-1zM2 92v1h1v-1zM2 94v3h1v-3zM2 122v2h1v-2zM2 141v1h1v-1zM2 148v1h1v-1zM3 22v1h1v-1zM3 28v1h1v-1zM3 42v1h1v-1zM3 67v1h1v-1zM3 70v1h1v-1zM3 72v1h1v-1zM3 103v2h1v-2zM3 126v1h1v-1zM3 138v1h1v-1zM3 142v1h1v-1zM4 16v1h1v-1zM4 74v2h1v-2zM4 78v1h1v-1zM4 84v1h1v-1zM4 89v1h1v-1zM4 105v1h1v-1zM4 140v1h1v-1zM5 31v1h1v-1zM5 74v2h1v-2zM5 78v1h1v-1zM5 84v1h1v-1zM5 89v1h1v-1zM5 105v1h1v-1zM5 140v1h1v-1zM6 66v1h1v-1zM6 100v1h1v-1zM6 112v2h1v-2zM6 139v1h1v-1zM7 31v1h1v-1zM7 37v1h1v-1zM7 46v1h1v-1zM7 71v1h1v-1zM7 89v1h1v-1zM7 129v1h1v-1zM7 138v1h1v-1zM7 140v1h1v-1zM7 147v1h1v-1zM8 89v3h1v-3zM8 94v2h1v-2zM8 98v1h1v-1zM8 132v1h1v-1zM8 136v2h1v-2zM8 146v1h1v-1zM9 46v1h1v-1zM9 63v1h1v-1zM9 71v1h1v-1zM9 103v1h1v-1zM9 126v1h1v-1zM9 133v1h1v-1zM9 138v1h1v-1zM9 140v1h1v-1zM10 13v1h1v-1zM10 28v1h1v-1zM10 36v1h1v-1zM10 67v1h1v-1zM10 70v1h1v-1zM10 78v1h1v-1zM10 80v1h1v-1zM10 83v1h1v-1zM10 89v1h1v-1zM10 105v1h1v-1zM10 147v1h1v-1zM11 17v1h1v-1zM11 43v2h1v-2zM11 58v1h1v-1zM11 69v1h1v-1zM11 87v1h1v-1zM11 115v1h1v-1zM11 122v2h1v-2zM11 125v1h1v-1zM11 127v1h1v-1zM11 148v1h1v-1zM12 37v2h1v-2zM12 41v2h1v-2zM12 58v1h1v-1zM12 110v1h1v-1zM12 115v1h1v-1zM12 121v1h1v-1zM12 124v1h1v-1zM12 128v1h1v-1zM13 42v2h1v-2zM13 66v1h1v-1zM13 88v1h1v-1zM13 100v1h1v-1zM13 105v1h1v-1zM13 112v2h1v-2zM13 139v1h1v-1zM13 147v1h1v-1zM15 88v1h1v-1zM15 106v1h1v-1zM15 109v1h1v-1zM15 111v3h1v-3zM15 142v1h1v-1zM16 20v1h1v-1zM16 148v1h1v-1zM17 142v1h1v-1zM18 66v1h1v-1zM18 83v2h1v-2zM18 88v1h1v-1zM18 111v1h1v-1zM18 139v1h1v-1zM20 67v1h1v-1zM20 70v1h1v-1zM20 72v1h1v-1zM20 89v1h1v-1zM20 103v1h1v-1zM21 28v1h1v-1zM21 85v2h1v-2zM21 101v1h1v-1zM21 121v1h1v-1zM21 124v1h1v-1zM21 127v1h1v-1zM22 71v1h1v-1zM22 89v1h1v-1zM22 147v1h1v-1zM23 96v1h1v-1zM23 122v2h1v-2zM24 70v1h1v-1zM24 72v1h1v-1zM24 147v1h1v-1zM25 61v2h1v-2zM25 68v1h1v-1zM25 115v1h1v-1zM25 119v1h1v-1zM25 141v1h1v-1zM25 151v1h1v-1zM26 147v1h1v-1zM27 85v1h1v-1zM27 107v1h1v-1zM27 146v1h1v-1zM28 57v1h1v-1zM28 61v2h1v-2zM28 69v1h1v-1zM28 102v1h1v-1zM28 115v1h1v-1zM28 145v1h1v-1zM28 148v1h1v-1zM28 151v1h1v-1zM29 40v1h1v-1zM29 78v1h1v-1zM29 80v1h1v-1zM29 89v1h1v-1zM29 112v2h1v-2zM29 147v1h1v-1zM30 96v1h1v-1zM30 121v3h1v-3zM30 136v2h1v-2zM31 60v1h1v-1zM31 69v1h1v-1zM31 97v1h1v-1zM31 141v1h1v-1zM31 145v1h1v-1zM31 148v1h1v-1zM32 40v1h1v-1zM32 83v1h1v-1zM32 100v1h1v-1zM32 105v1h1v-1zM32 139v1h1v-1zM32 142v1h1v-1zM33 121v1h1v-1zM34 84v1h1v-1zM35 83v1h1v-1zM35 100v1h1v-1zM35 105v1h1v-1zM35 112v2h1v-2zM35 139v1h1v-1zM35 147v1h1v-1zM36 64v1h1v-1zM36 78v1h1v-1zM36 80v1h1v-1zM36 84v1h1v-1zM36 88v1h1v-1zM36 106v1h1v-1zM37 72v1h1v-1zM37 147v1h1v-1zM40 56v1h1v-1zM40 58v1h1v-1zM40 60v1h1v-1zM47 115v1h1v-1zM47 141v1h1v-1zM47 145v1h1v-1zM47 151v1h1v-1zM49 139v1h1v-1zM49 142v1h1v-1zM53 57v2h1v-2zM54 56v1h1v-1zM54 72v1h1v-1zM55 58v1h1v-1zM55 89v1h1v-1zM55 139v1h1v-1zM56 65v1h1v-1zM56 105v1h1v-1zM56 139v1h1v-1zM57 87v1h1v-1zM57 115v1h1v-1zM58 87v1h1v-1zM58 128v1h1v-1zM58 141v1h1v-1zM74 116v1h1v-1zM74 120v1h1v-1zM74 127v1h1v-1zM75 119v1h1v-1zM75 139v1h1v-1zM78 136v2h1v-2zM87 119v1h1v-1zM87 125v1h1v-1zM87 128v1h1v-1zM87 145v1h1v-1z"/>
<path fill="#f4b038" d="M0 39v1h1v-1zM0 61v1h1v-1zM0 110v1h1v-1zM0 115v2h1v-2zM0 120v1h1v-1zM0 125v1h1v-1zM0 127v2h1v-2zM0 141v1h1v-1zM0 148v1h1v-1zM1 41v1h1v-1zM1 44v1h1v-1zM1 56v1h1v-1zM1 149v1h1v-1zM2 108v1h1v-1zM2 118v1h1v-1zM3 55v1h1v-1zM3 60v1h1v-1zM3 77v1h1v-1zM4 45v1h1v-1zM4 47v2h1v-2zM4 68v1h1v-1zM4 144v1h1v-1zM5 45v1h1v-1zM5 47v2h1v-2zM5 68v1h1v-1zM5 144v1h1v-1zM6 58v1h1v-1zM6 119v1h1v-1zM6 141v1h1v-1zM7 48v1h1v-1zM7 55v1h1v-1zM7 82v1h1v-1zM7 92v1h1v-1zM7 130v1h1v-1zM8 74v3h1v-3zM8 78v1h1v-1zM8 80v1h1v-1zM8 83v1h1v-1zM9 48v1h1v-1zM9 60v1h1v-1zM10 60v1h1v-1zM10 130v1h1v-1zM10 144v1h1v-1zM13 47v1h1v-1zM13 102v1h1v-1zM13 144v1h1v-1zM14 139v1h1v-1zM15 55v1h1v-1zM17 58v1h1v-1zM17 85v2h1v-2zM17 92v1h1v-1zM17 97v1h1v-1zM17 101v1h1v-1zM17 110v1h1v-1zM17 117v1h1v-1zM17 124v1h1v-1zM17 144v1h1v-1zM18 97v1h1v-1zM19 105v1h1v-1zM20 60v1h1v-1zM20 82v1h1v-1zM20 92v1h1v-1zM20 130v1h1v-1zM22 55v1h1v-1zM22 60v1h1v-1zM22 92v1h1v-1zM22 107v1h1v-1zM22 110v1h1v-1zM22 130v1h1v-1zM23 83v1h1v-1zM23 88v1h1v-1zM23 100v1h1v-1zM23 139v1h1v-1zM24 60v1h1v-1zM24 92v1h1v-1zM24 97v1h1v-1zM24 101v1h1v-1zM24 107v1h1v-1zM24 116v1h1v-1zM24 124v1h1v-1zM25 56v1h1v-1zM25 64v1h1v-1zM25 135v3h1v-3zM25 146v1h1v-1zM26 80v1h1v-1zM26 83v2h1v-2zM26 106v1h1v-1zM26 112v2h1v-2zM28 64v1h1v-1zM28 122v2h1v-2zM28 135v1h1v-1zM29 82v1h1v-1zM30 84v1h1v-1zM30 88v1h1v-1zM30 100v1h1v-1zM30 109v1h1v-1zM31 94v2h1v-2zM31 135v1h1v-1zM32 97v1h1v-1zM32 117v1h1v-1zM33 84v1h1v-1zM33 88v1h1v-1zM34 69v1h1v-1zM34 101v1h1v-1zM34 119v1h1v-1zM34 124v1h1v-1zM34 151v1h1v-1zM35 68v1h1v-1zM35 117v1h1v-1zM35 130v1h1v-1zM36 68v1h1v-1zM36 82v1h1v-1zM36 97v1h1v-1zM36 117v1h1v-1zM37 110v1h1v-1zM37 120v1h1v-1zM37 127v1h1v-1zM38 83v1h1v-1zM44 85v1h1v-1zM44 92v1h1v-1zM44 101v1h1v-1zM47 132v1h1v-1zM47 146v1h1v-1zM50 83v1h1v-1zM52 101v1h1v-1zM52 141v1h1v-1zM54 76v1h1v-1zM54 78v1h1v-1zM54 80v1h1v-1zM56 102v1h1v-1zM58 121v3h1v-3zM58 136v2h1v-2zM58 146v1h1v-1zM58 149v1h1v-1zM72 120v1h1v-1zM72 127v1h1v-1zM74 119v1h1v-1zM74 139v1h1v-1zM75 121v1h1v-1zM75 135v1h1v-1zM79 136v2h1v-2zM86 141v1h1v-1zM87 121v3h1v-3zM87 132v1h1v-1zM87 146v1h1v-1zM101 136v2h1v-2z"/>
<path fill="#f5a234" d="M0 64v1h1v-1zM0 93v3h1v-3zM1 70v1h1v-1zM1 72v1h1v-1zM1 80v1h1v-1zM1 89v1h1v-1zM1 111v1h1v-1zM2 84v1h1v-1zM2 97v1h1v-1zM2 111v3h1v-3zM2 117v1h1v-1zM2 139v1h1v-1zM4 50v1h1v-1zM4 52v1h1v-1zM4 54v1h1v-1zM4 56v1h1v-1zM4 64v1h1v-1zM4 93v1h1v-1zM4 131v1h1v-1zM5 50v1h1v-1zM5 52v1h1v-1zM5 54v1h1v-1zM5 56v1h1v-1zM5 64v1h1v-1zM5 93v1h1v-1zM5 131v1h1v-1zM6 41v1h1v-1zM6 44v1h1v-1zM8 47v1h1v-1zM8 49v1h1v-1zM8 61v1h1v-1zM8 68v1h1v-1zM8 102v1h1v-1zM10 50v1h1v-1zM10 56v1h1v-1zM10 93v1h1v-1zM10 150v1h1v-1zM11 45v1h1v-1zM11 47v1h1v-1zM11 66v1h1v-1zM11 84v1h1v-1zM11 88v1h1v-1zM11 100v1h1v-1zM11 117v1h1v-1zM11 139v1h1v-1zM12 106v1h1v-1zM12 109v1h1v-1zM12 117v1h1v-1zM13 50v1h1v-1zM13 52v1h1v-1zM13 54v1h1v-1zM13 56v1h1v-1zM13 64v1h1v-1zM13 90v2h1v-2zM13 94v3h1v-3zM13 98v1h1v-1zM13 131v2h1v-2zM13 136v2h1v-2zM14 115v1h1v-1zM14 119v1h1v-1zM14 128v1h1v-1zM14 141v1h1v-1zM14 145v1h1v-1zM14 148v1h1v-1zM14 151v1h1v-1zM15 56v1h1v-1zM15 96v1h1v-1zM15 121v3h1v-3zM15 146v1h1v-1zM15 149v2h1v-2zM18 94v2h1v-2zM18 132v1h1v-1zM19 69v1h1v-1zM19 87v1h1v-1zM19 141v1h1v-1zM19 145v1h1v-1zM21 106v1h1v-1zM21 111v3h1v-3zM23 61v2h1v-2zM23 68v1h1v-1zM23 73v1h1v-1zM23 97v1h1v-1zM23 115v1h1v-1zM23 141v1h1v-1zM23 148v1h1v-1zM25 67v1h1v-1zM25 78v1h1v-1zM25 88v1h1v-1zM25 109v1h1v-1zM25 111v1h1v-1zM26 73v1h1v-1zM26 87v1h1v-1zM26 119v1h1v-1zM26 141v1h1v-1zM27 66v1h1v-1zM27 109v1h1v-1zM27 111v1h1v-1zM28 78v1h1v-1zM28 80v1h1v-1zM28 89v1h1v-1zM28 112v2h1v-2zM28 147v1h1v-1zM29 93v1h1v-1zM29 98v1h1v-1zM29 132v1h1v-1zM29 149v2h1v-2zM30 69v1h1v-1zM30 97v1h1v-1zM30 141v1h1v-1zM30 145v1h1v-1zM30 148v1h1v-1zM31 66v1h1v-1zM31 74v2h1v-2zM31 78v1h1v-1zM31 80v1h1v-1zM31 83v1h1v-1zM31 106v1h1v-1zM31 139v1h1v-1zM32 64v1h1v-1zM32 94v2h1v-2zM32 132v1h1v-1zM32 149v1h1v-1zM33 69v1h1v-1zM33 125v1h1v-1zM33 145v1h1v-1zM33 148v1h1v-1zM34 135v1h1v-1zM34 146v1h1v-1zM35 90v2h1v-2zM35 96v1h1v-1zM35 98v1h1v-1zM35 122v2h1v-2zM35 136v2h1v-2zM35 149v1h1v-1zM36 98v1h1v-1zM36 136v2h1v-2zM36 149v1h1v-1zM38 128v1h1v-1zM38 141v1h1v-1zM38 145v1h1v-1zM45 145v1h1v-1zM45 151v1h1v-1zM46 115v1h1v-1zM46 141v1h1v-1zM46 145v1h1v-1zM46 151v1h1v-1zM47 83v1h1v-1zM47 105v2h1v-2zM48 87v1h1v-1zM48 115v1h1v-1zM48 145v1h1v-1zM49 90v2h1v-2zM49 93v4h1v-4zM49 132v1h1v-1zM54 82v1h1v-1zM54 115v1h1v-1zM54 148v1h1v-1zM55 122v2h1v-2zM55 135v3h1v-3zM55 149v1h1v-1zM56 96v1h1v-1zM56 98v1h1v-1zM56 136v2h1v-2zM57 83v1h1v-1zM57 100v1h1v-1zM57 106v1h1v-1zM57 109v1h1v-1zM57 111v1h1v-1zM57 117v1h1v-1zM58 88v1h1v-1zM58 111v1h1v-1zM59 116v1h1v-1zM59 119v2h1v-2zM59 124v2h1v-2zM59 148v1h1v-1zM64 132v1h1v-1zM64 136v2h1v-2zM64 146v1h1v-1zM72 119v1h1v-1zM74 117v1h1v-1zM74 121v1h1v-1zM74 135v1h1v-1zM75 117v1h1v-1zM75 124v1h1v-1zM75 142v1h1v-1zM78 139v1h1v-1zM80 116v1h1v-1zM81 117v1h1v-1zM84 131v2h1v-2zM84 135v1h1v-1zM85 130v3h1v-3zM85 135v1h1v-1zM87 117v1h1v-1zM87 142v1h1v-1zM87 144v1h1v-1zM87 147v1h1v-1zM88 141v1h1v-1zM89 141v1h1v-1zM90 136v2h1v-2zM95 135v1h1v-1zM107 136v2h1v-2zM110 136v2h1v-2z"/>
<path fill="#f6932f" d="M0 20v1h1v-1zM0 24v1h1v-1zM0 66v1h1v-1zM0 74v2h1v-2zM0 84v1h1v-1zM0 105v1h1v-1zM0 109v1h1v-1zM0 112v2h1v-2zM0 139v1h1v-1zM1 19v1h1v-1zM1 45v1h1v-1zM1 60v1h1v-1zM1 102v1h1v-1zM1 150v1h1v-1zM2 16v1h1v-1zM2 24v1h1v-1zM2 49v1h1v-1zM2 58v1h1v-1zM2 73v1h1v-1zM2 115v1h1v-1zM2 145v1h1v-1zM3 19v1h1v-1zM3 30v1h1v-1zM3 34v1h1v-1zM3 37v1h1v-1zM3 46v1h1v-1zM3 57v1h1v-1zM3 63v1h1v-1zM3 71v1h1v-1zM3 79v1h1v-1zM3 99v1h1v-1zM3 114v1h1v-1zM3 133v2h1v-2zM3 143v1h1v-1zM4 22v1h1v-1zM4 30v1h1v-1zM4 67v1h1v-1zM4 70v1h1v-1zM4 72v1h1v-1zM4 77v1h1v-1zM4 99v1h1v-1zM4 103v1h1v-1zM4 138v1h1v-1zM4 142v1h1v-1zM4 147v1h1v-1zM5 21v2h1v-2zM5 30v1h1v-1zM5 67v1h1v-1zM5 70v1h1v-1zM5 72v1h1v-1zM5 77v1h1v-1zM5 99v1h1v-1zM5 103v1h1v-1zM5 138v1h1v-1zM5 142v1h1v-1zM5 147v1h1v-1zM6 74v3h1v-3zM6 78v1h1v-1zM6 84v1h1v-1zM6 88v1h1v-1zM6 106v1h1v-1zM6 109v1h1v-1zM6 111v1h1v-1zM7 21v2h1v-2zM7 30v1h1v-1zM7 35v1h1v-1zM7 42v1h1v-1zM7 51v1h1v-1zM7 57v1h1v-1zM7 61v1h1v-1zM7 63v1h1v-1zM7 79v1h1v-1zM7 99v1h1v-1zM7 103v1h1v-1zM7 108v1h1v-1zM7 115v1h1v-1zM7 118v1h1v-1zM7 126v1h1v-1zM7 145v1h1v-1zM7 151v1h1v-1zM8 28v1h1v-1zM8 42v1h1v-1zM8 64v1h1v-1zM8 108v1h1v-1zM8 118v1h1v-1zM8 129v1h1v-1zM8 131v1h1v-1zM8 135v1h1v-1zM9 51v1h1v-1zM9 65v1h1v-1zM9 79v1h1v-1zM9 81v1h1v-1zM9 104v1h1v-1zM9 114v1h1v-1zM9 134v1h1v-1zM9 151v1h1v-1zM10 16v1h1v-1zM10 21v2h1v-2zM10 30v1h1v-1zM10 35v1h1v-1zM10 63v1h1v-1zM10 71v1h1v-1zM10 77v1h1v-1zM10 99v1h1v-1zM10 103v1h1v-1zM10 114v1h1v-1zM10 138v1h1v-1zM10 140v1h1v-1zM11 61v2h1v-2zM11 92v1h1v-1zM11 141v1h1v-1zM11 145v1h1v-1zM12 21v2h1v-2zM12 30v2h1v-2zM12 35v1h1v-1zM12 101v1h1v-1zM12 125v1h1v-1zM12 145v1h1v-1zM12 148v1h1v-1zM13 21v2h1v-2zM13 31v1h1v-1zM13 70v1h1v-1zM13 85v2h1v-2zM13 92v1h1v-1zM13 108v1h1v-1zM13 114v1h1v-1zM13 127v1h1v-1zM13 129v1h1v-1zM13 142v1h1v-1zM14 52v1h1v-1zM14 54v1h1v-1zM14 135v1h1v-1zM15 86v1h1v-1zM15 101v1h1v-1zM15 124v1h1v-1zM15 143v1h1v-1zM16 40v3h1v-3zM16 44v3h1v-3zM16 107v1h1v-1zM16 116v1h1v-1zM16 120v1h1v-1zM17 28v1h1v-1zM17 69v2h1v-2zM17 72v1h1v-1zM17 87v1h1v-1zM17 89v1h1v-1zM17 104v1h1v-1zM17 125v1h1v-1zM17 128v1h1v-1zM17 133v2h1v-2zM17 138v1h1v-1zM17 140v1h1v-1zM17 143v1h1v-1zM17 147v1h1v-1zM18 58v1h1v-1zM18 70v1h1v-1zM18 72v1h1v-1zM18 92v1h1v-1zM18 101v1h1v-1zM18 104v1h1v-1zM18 147v1h1v-1zM19 96v1h1v-1zM19 108v1h1v-1zM19 146v1h1v-1zM19 149v1h1v-1zM20 57v1h1v-1zM20 62v1h1v-1zM20 71v1h1v-1zM20 104v1h1v-1zM20 108v1h1v-1zM20 114v1h1v-1zM20 126v1h1v-1zM20 128v1h1v-1zM20 138v1h1v-1zM20 140v1h1v-1zM20 142v1h1v-1zM20 145v1h1v-1zM20 147v1h1v-1zM21 39v1h1v-1zM21 47v4h1v-4zM21 58v1h1v-1zM21 69v1h1v-1zM21 73v1h1v-1zM21 87v1h1v-1zM21 115v1h1v-1zM21 125v1h1v-1zM22 57v1h1v-1zM22 59v1h1v-1zM22 63v1h1v-1zM22 65v1h1v-1zM22 72v1h1v-1zM22 103v1h1v-1zM22 126v1h1v-1zM22 128v1h1v-1zM22 138v1h1v-1zM22 140v1h1v-1zM22 142v1h1v-1zM22 145v1h1v-1zM22 151v1h1v-1zM23 56v1h1v-1zM23 64v1h1v-1zM23 94v2h1v-2zM23 118v1h1v-1zM23 146v1h1v-1zM24 28v1h1v-1zM24 57v1h1v-1zM24 63v1h1v-1zM24 65v1h1v-1zM24 71v1h1v-1zM24 81v1h1v-1zM24 89v1h1v-1zM24 125v1h1v-1zM24 134v1h1v-1zM24 138v1h1v-1zM24 140v1h1v-1zM24 142v1h1v-1zM24 148v1h1v-1zM25 82v1h1v-1zM26 64v1h1v-1zM26 94v2h1v-2zM26 135v3h1v-3zM27 58v1h1v-1zM27 69v1h1v-1zM27 86v1h1v-1zM27 101v1h1v-1zM27 115v1h1v-1zM27 145v1h1v-1zM28 31v1h1v-1zM28 56v1h1v-1zM28 82v1h1v-1zM29 41v2h1v-2zM29 44v3h1v-3zM29 57v1h1v-1zM29 67v1h1v-1zM29 72v1h1v-1zM29 77v1h1v-1zM29 103v2h1v-2zM29 108v1h1v-1zM29 118v1h1v-1zM29 138v1h1v-1zM29 140v1h1v-1zM29 142v1h1v-1zM30 58v1h1v-1zM30 94v2h1v-2zM30 135v1h1v-1zM31 102v1h1v-1zM32 41v2h1v-2zM32 44v3h1v-3zM32 57v1h1v-1zM32 89v1h1v-1zM32 107v1h1v-1zM32 110v1h1v-1zM32 118v1h1v-1zM32 140v1h1v-1zM32 143v1h1v-1zM32 147v1h1v-1zM33 93v1h1v-1zM33 96v1h1v-1zM33 122v2h1v-2zM33 135v3h1v-3zM33 146v1h1v-1zM34 88v1h1v-1zM34 106v1h1v-1zM34 109v1h1v-1zM34 111v1h1v-1zM35 44v4h1v-4zM35 58v1h1v-1zM35 65v1h1v-1zM35 89v1h1v-1zM35 92v1h1v-1zM35 127v1h1v-1zM35 134v1h1v-1zM35 142v1h1v-1zM36 72v1h1v-1zM36 110v1h1v-1zM36 120v1h1v-1zM36 127v1h1v-1zM36 147v1h1v-1zM37 65v1h1v-1zM37 70v1h1v-1zM37 89v1h1v-1zM37 99v1h1v-1zM37 115v1h1v-1zM37 129v1h1v-1zM37 140v1h1v-1zM37 145v1h1v-1zM38 150v1h1v-1zM40 65v1h1v-1zM41 58v1h1v-1zM41 83v1h1v-1zM42 58v1h1v-1zM44 58v1h1v-1zM45 58v1h1v-1zM45 146v1h1v-1zM46 58v1h1v-1zM46 132v1h1v-1zM46 146v1h1v-1zM48 146v1h1v-1zM49 85v1h1v-1zM49 101v1h1v-1zM49 107v1h1v-1zM49 116v1h1v-1zM49 120v1h1v-1zM49 127v1h1v-1zM49 140v1h1v-1zM49 143v1h1v-1zM49 147v1h1v-1zM51 86v1h1v-1zM53 69v1h1v-1zM54 57v1h1v-1zM54 60v1h1v-1zM54 94v2h1v-2zM55 65v1h1v-1zM55 101v1h1v-1zM55 107v1h1v-1zM55 110v1h1v-1zM55 116v1h1v-1zM55 120v1h1v-1zM55 124v1h1v-1zM56 58v1h1v-1zM56 89v1h1v-1zM56 92v1h1v-1zM56 108v1h1v-1zM56 114v1h1v-1zM56 127v1h1v-1zM57 124v1h1v-1zM58 117v1h1v-1zM64 116v1h1v-1zM64 120v1h1v-1zM64 124v1h1v-1zM64 142v1h1v-1zM64 147v1h1v-1zM70 142v1h1v-1zM71 142v1h1v-1zM72 121v1h1v-1zM73 120v1h1v-1zM73 127v1h1v-1zM74 124v1h1v-1zM74 142v1h1v-1zM75 118v1h1v-1zM75 125v2h1v-2zM75 134v1h1v-1zM75 138v1h1v-1zM75 141v1h1v-1zM75 143v1h1v-1zM75 145v1h1v-1zM78 135v1h1v-1zM84 130v1h1v-1zM86 116v1h1v-1zM86 120v1h1v-1zM86 124v1h1v-1zM86 127v1h1v-1zM86 140v1h1v-1zM87 118v1h1v-1zM87 126v1h1v-1zM87 129v1h1v-1zM87 133v1h1v-1zM87 139v1h1v-1zM87 143v1h1v-1zM88 136v2h1v-2zM89 136v2h1v-2zM91 136v2h1v-2zM106 136v2h1v-2zM111 136v2h1v-2z"/>
<path fill="#f7842a" d="M0 62v1h1v-1zM0 82v1h1v-1zM0 119v1h1v-1zM0 145v1h1v-1zM1 36v1h1v-1zM1 43v1h1v-1zM1 77v1h1v-1zM1 90v2h1v-2zM1 98v1h1v-1zM1 121v3h1v-3zM1 131v2h1v-2zM1 136v2h1v-2zM1 146v1h1v-1zM2 41v1h1v-1zM2 43v2h1v-2zM2 89v3h1v-3zM2 136v2h1v-2zM2 146v1h1v-1zM2 149v1h1v-1zM3 76v1h1v-1zM4 38v1h1v-1zM4 55v1h1v-1zM4 61v2h1v-2zM4 130v1h1v-1zM4 151v1h1v-1zM5 38v1h1v-1zM5 55v1h1v-1zM5 61v2h1v-2zM5 130v1h1v-1zM5 151v1h1v-1zM6 45v1h1v-1zM6 47v1h1v-1zM6 49v1h1v-1zM6 62v1h1v-1zM6 68v1h1v-1zM7 105v1h1v-1zM8 67v1h1v-1zM8 70v1h1v-1zM8 72v1h1v-1zM8 99v1h1v-1zM8 105v1h1v-1zM8 147v1h1v-1zM10 48v1h1v-1zM10 82v1h1v-1zM11 72v1h1v-1zM11 94v3h1v-3zM11 136v2h1v-2zM11 146v1h1v-1zM11 149v1h1v-1zM12 44v1h1v-1zM12 122v2h1v-2zM12 146v1h1v-1zM13 48v1h1v-1zM13 55v1h1v-1zM13 60v1h1v-1zM13 68v1h1v-1zM13 87v1h1v-1zM13 97v1h1v-1zM13 130v1h1v-1zM13 141v1h1v-1zM13 151v1h1v-1zM14 88v1h1v-1zM14 106v1h1v-1zM14 109v1h1v-1zM14 111v3h1v-3zM14 142v1h1v-1zM15 61v1h1v-1zM15 73v1h1v-1zM15 87v1h1v-1zM15 97v1h1v-1zM15 117v1h1v-1zM15 125v1h1v-1zM15 144v1h1v-1zM16 149v1h1v-1zM17 66v1h1v-1zM17 80v1h1v-1zM17 83v2h1v-2zM17 100v1h1v-1zM17 109v1h1v-1zM17 111v1h1v-1zM18 61v1h1v-1zM18 68v1h1v-1zM18 82v1h1v-1zM18 102v1h1v-1zM18 115v1h1v-1zM18 128v1h1v-1zM18 144v1h1v-1zM18 151v1h1v-1zM19 66v1h1v-1zM19 83v2h1v-2zM19 88v1h1v-1zM19 111v1h1v-1zM19 139v1h1v-1zM20 74v2h1v-2zM20 80v1h1v-1zM21 94v3h1v-3zM21 122v2h1v-2zM22 78v1h1v-1zM22 106v1h1v-1zM22 109v1h1v-1zM22 111v3h1v-3zM23 67v1h1v-1zM23 70v1h1v-1zM23 80v1h1v-1zM24 100v1h1v-1zM24 106v1h1v-1zM24 112v2h1v-2zM25 92v1h1v-1zM25 94v3h1v-3zM25 101v1h1v-1zM25 107v1h1v-1zM25 116v1h1v-1zM25 121v4h1v-4zM25 132v1h1v-1zM25 150v1h1v-1zM26 67v1h1v-1zM26 78v1h1v-1zM26 88v1h1v-1zM26 100v1h1v-1zM26 139v1h1v-1zM27 147v1h1v-1zM28 77v1h1v-1zM28 93v1h1v-1zM28 98v1h1v-1zM28 132v1h1v-1zM28 149v2h1v-2zM29 60v1h1v-1zM29 68v1h1v-1zM29 128v1h1v-1zM29 144v1h1v-1zM30 66v1h1v-1zM30 74v2h1v-2zM30 78v1h1v-1zM30 80v1h1v-1zM30 83v1h1v-1zM30 106v1h1v-1zM30 139v1h1v-1zM31 64v1h1v-1zM31 90v3h1v-3zM31 98v1h1v-1zM31 110v1h1v-1zM31 131v2h1v-2zM31 146v1h1v-1zM31 149v1h1v-1zM32 68v1h1v-1zM32 73v1h1v-1zM32 82v1h1v-1zM32 102v1h1v-1zM32 115v1h1v-1zM32 128v1h1v-1zM32 144v1h1v-1zM32 151v1h1v-1zM33 83v1h1v-1zM33 100v1h1v-1zM33 105v1h1v-1zM33 139v1h1v-1zM33 142v1h1v-1zM34 115v1h1v-1zM34 125v1h1v-1zM34 128v1h1v-1zM34 141v1h1v-1zM34 145v1h1v-1zM34 148v1h1v-1zM35 82v1h1v-1zM35 97v1h1v-1zM35 102v1h1v-1zM35 144v1h1v-1zM36 115v1h1v-1zM36 145v1h1v-1zM37 105v1h1v-1zM37 109v1h1v-1zM37 111v1h1v-1zM37 139v1h1v-1zM38 80v1h1v-1zM41 128v1h1v-1zM41 141v1h1v-1zM41 145v1h1v-1zM41 151v1h1v-1zM44 145v1h1v-1zM44 151v1h1v-1zM45 80v1h1v-1zM45 83v2h1v-2zM45 100v1h1v-1zM45 105v1h1v-1zM46 83v1h1v-1zM46 105v2h1v-2zM47 85v2h1v-2zM47 93v4h1v-4zM47 101v1h1v-1zM47 110v1h1v-1zM47 116v1h1v-1zM47 120v1h1v-1zM47 127v1h1v-1zM47 150v1h1v-1zM48 139v1h1v-1zM48 142v1h1v-1zM49 97v1h1v-1zM49 119v1h1v-1zM49 144v1h1v-1zM49 148v1h1v-1zM49 151v1h1v-1zM50 80v1h1v-1zM50 139v1h1v-1zM54 89v1h1v-1zM54 139v1h1v-1zM55 119v1h1v-1zM55 125v1h1v-1zM55 128v1h1v-1zM55 141v1h1v-1zM55 145v1h1v-1zM55 151v1h1v-1zM56 97v1h1v-1zM56 119v1h1v-1zM56 141v1h1v-1zM56 148v1h1v-1zM57 94v2h1v-2zM58 85v1h1v-1zM58 107v1h1v-1zM59 117v1h1v-1zM59 121v3h1v-3zM59 136v2h1v-2zM59 146v1h1v-1zM59 149v1h1v-1zM64 119v1h1v-1zM64 125v1h1v-1zM64 133v1h1v-1zM64 139v1h1v-1zM64 141v1h1v-1zM64 143v1h1v-1zM64 145v1h1v-1zM64 151v1h1v-1zM65 132v1h1v-1zM65 136v2h1v-2zM65 146v1h1v-1zM66 136v2h1v-2zM67 136v2h1v-2zM70 143v1h1v-1zM71 143v1h1v-1zM72 124v1h1v-1zM72 142v1h1v-1zM73 119v1h1v-1zM74 118v1h1v-1zM74 125v2h1v-2zM74 134v1h1v-1zM74 138v1h1v-1zM74 141v1h1v-1zM74 143v1h1v-1zM74 145v1h1v-1zM75 122v2h1v-2zM75 131v2h1v-2zM75 146v1h1v-1zM78 116v1h1v-1zM78 120v1h1v-1zM78 124v1h1v-1zM78 127v1h1v-1zM78 142v1h1v-1zM79 135v1h1v-1zM79 139v1h1v-1zM80 117v1h1v-1zM84 133v2h1v-2zM84 141v1h1v-1zM84 145v1h1v-1zM85 133v2h1v-2zM85 139v1h1v-1zM85 141v1h1v-1zM85 145v1h1v-1zM86 119v1h1v-1zM86 125v1h1v-1zM86 128v1h1v-1zM86 145v1h1v-1zM87 131v1h1v-1zM87 135v1h1v-1zM88 140v1h1v-1zM89 140v1h1v-1zM95 134v1h1v-1zM96 141v3h1v-3zM96 145v1h1v-1zM99 142v1h1v-1zM102 142v1h1v-1zM104 136v2h1v-2zM105 136v2h1v-2zM110 141v1h1v-1z"/>
<path fill="#f87626" d="M0 41v1h1v-1zM0 44v1h1v-1zM0 56v1h1v-1zM0 149v1h1v-1zM1 49v1h1v-1zM1 59v1h1v-1zM1 65v1h1v-1zM1 67v1h1v-1zM1 71v1h1v-1zM1 79v1h1v-1zM1 104v1h1v-1zM1 140v1h1v-1zM2 66v1h1v-1zM2 74v2h1v-2zM2 78v1h1v-1zM2 83v1h1v-1zM2 105v1h1v-1zM3 52v1h1v-1zM4 76v1h1v-1zM4 80v1h1v-1zM4 83v1h1v-1zM5 76v1h1v-1zM5 80v1h1v-1zM5 83v1h1v-1zM6 43v1h1v-1zM6 56v1h1v-1zM6 96v1h1v-1zM6 136v2h1v-2zM6 146v1h1v-1zM7 50v1h1v-1zM7 52v1h1v-1zM7 93v1h1v-1zM7 150v1h1v-1zM8 82v1h1v-1zM8 130v1h1v-1zM8 144v1h1v-1zM9 50v1h1v-1zM9 54v1h1v-1zM9 150v1h1v-1zM10 76v1h1v-1zM11 74v2h1v-2zM12 111v1h1v-1zM13 74v2h1v-2zM13 78v1h1v-1zM13 80v1h1v-1zM13 83v2h1v-2zM14 55v1h1v-1zM14 86v1h1v-1zM14 101v1h1v-1zM14 124v1h1v-1zM15 80v1h1v-1zM15 83v1h1v-1zM15 100v1h1v-1zM15 105v1h1v-1zM16 139v1h1v-1zM17 90v2h1v-2zM17 93v3h1v-3zM17 98v1h1v-1zM18 80v1h1v-1zM18 100v1h1v-1zM18 112v2h1v-2zM19 58v1h1v-1zM19 92v1h1v-1zM19 97v1h1v-1zM19 101v1h1v-1zM20 90v2h1v-2zM20 93v1h1v-1zM20 98v1h1v-1zM21 66v1h1v-1zM21 84v1h1v-1zM21 88v1h1v-1zM21 100v1h1v-1zM21 109v1h1v-1zM21 139v1h1v-1zM22 93v1h1v-1zM22 98v1h1v-1zM22 150v1h1v-1zM23 82v1h1v-1zM23 92v1h1v-1zM23 102v1h1v-1zM23 107v1h1v-1zM23 110v1h1v-1zM24 90v2h1v-2zM24 93v1h1v-1zM24 131v1h1v-1zM24 149v1h1v-1zM25 70v1h1v-1zM25 72v1h1v-1zM25 125v1h1v-1zM25 147v2h1v-2zM26 68v1h1v-1zM26 77v1h1v-1zM26 82v1h1v-1zM26 92v1h1v-1zM26 116v1h1v-1zM26 120v1h1v-1zM26 144v1h1v-1zM27 80v1h1v-1zM27 83v2h1v-2zM27 106v1h1v-1zM27 112v2h1v-2zM28 67v1h1v-1zM28 72v1h1v-1zM28 103v2h1v-2zM28 108v1h1v-1zM28 118v1h1v-1zM28 128v1h1v-1zM28 138v1h1v-1zM28 140v1h1v-1zM28 142v1h1v-1zM29 76v1h1v-1zM30 92v1h1v-1zM30 102v1h1v-1zM30 110v1h1v-1zM31 62v1h1v-1zM31 70v1h1v-1zM31 72v1h1v-1zM31 89v1h1v-1zM31 118v1h1v-1zM31 151v1h1v-1zM32 66v1h1v-1zM32 74v2h1v-2zM32 80v1h1v-1zM32 106v1h1v-1zM32 109v1h1v-1zM32 111v3h1v-3zM33 97v1h1v-1zM33 107v1h1v-1zM33 110v1h1v-1zM33 117v1h1v-1zM34 121v1h1v-1zM34 131v2h1v-2zM34 150v1h1v-1zM35 66v1h1v-1zM35 78v1h1v-1zM35 80v1h1v-1zM36 105v1h1v-1zM36 109v1h1v-1zM36 111v1h1v-1zM36 139v1h1v-1zM37 90v2h1v-2zM37 121v3h1v-3zM37 131v2h1v-2zM37 135v1h1v-1zM38 77v1h1v-1zM38 82v1h1v-1zM38 86v1h1v-1zM38 92v1h1v-1zM38 101v1h1v-1zM38 107v1h1v-1zM38 110v1h1v-1zM38 116v1h1v-1zM38 120v1h1v-1zM38 124v1h1v-1zM38 127v1h1v-1zM40 83v1h1v-1zM41 131v1h1v-1zM41 146v1h1v-1zM44 146v1h1v-1zM45 86v1h1v-1zM45 107v1h1v-1zM45 110v1h1v-1zM45 127v1h1v-1zM46 85v2h1v-2zM46 101v1h1v-1zM46 110v1h1v-1zM46 116v1h1v-1zM46 120v1h1v-1zM46 127v1h1v-1zM47 87v1h1v-1zM47 119v1h1v-1zM47 147v2h1v-2zM48 85v1h1v-1zM48 101v1h1v-1zM48 107v1h1v-1zM48 116v1h1v-1zM48 120v1h1v-1zM48 127v1h1v-1zM49 78v1h1v-1zM49 80v1h1v-1zM49 83v2h1v-2zM49 88v1h1v-1zM49 100v1h1v-1zM49 105v2h1v-2zM49 109v1h1v-1zM49 112v2h1v-2zM50 82v1h1v-1zM50 110v1h1v-1zM50 116v1h1v-1zM50 120v1h1v-1zM50 127v1h1v-1zM54 101v1h1v-1zM54 107v1h1v-1zM54 110v1h1v-1zM54 116v1h1v-1zM54 120v1h1v-1zM54 124v1h1v-1zM55 100v1h1v-1zM55 105v2h1v-2zM55 109v1h1v-1zM55 111v3h1v-3zM56 80v1h1v-1zM57 88v1h1v-1zM57 112v2h1v-2zM58 147v1h1v-1zM59 127v2h1v-2zM59 141v1h1v-1zM59 147v1h1v-1zM63 120v1h1v-1zM63 142v1h1v-1zM64 117v1h1v-1zM64 121v3h1v-3zM64 135v1h1v-1zM64 144v1h1v-1zM64 150v1h1v-1zM65 116v1h1v-1zM65 119v2h1v-2zM65 124v2h1v-2zM65 141v2h1v-2zM65 145v1h1v-1zM65 147v1h1v-1zM65 151v1h1v-1zM66 116v1h1v-1zM66 120v1h1v-1zM66 141v2h1v-2zM66 145v1h1v-1zM66 151v1h1v-1zM67 116v1h1v-1zM67 120v1h1v-1zM67 141v2h1v-2zM67 145v1h1v-1zM67 151v1h1v-1zM68 136v2h1v-2zM69 136v2h1v-2zM70 130v3h1v-3zM70 146v1h1v-1zM71 130v3h1v-3zM71 146v1h1v-1zM72 118v1h1v-1zM72 125v2h1v-2zM72 141v1h1v-1zM72 143v1h1v-1zM72 151v1h1v-1zM73 121v1h1v-1zM74 122v2h1v-2zM74 130v3h1v-3zM74 144v1h1v-1zM74 146v1h1v-1zM75 130v1h1v-1zM75 140v1h1v-1zM75 144v1h1v-1zM75 147v1h1v-1zM78 125v1h1v-1zM78 128v1h1v-1zM78 134v1h1v-1zM78 138v1h1v-1zM78 143v1h1v-1zM78 145v1h1v-1zM78 151v1h1v-1zM79 116v1h1v-1zM79 120v1h1v-1zM79 124v1h1v-1zM79 127v1h1v-1zM79 142v1h1v-1zM83 142v1h1v-1zM84 139v1h1v-1zM84 146v1h1v-1zM85 144v1h1v-1zM85 146v1h1v-1zM86 121v3h1v-3zM86 132v1h1v-1zM86 146v1h1v-1zM87 130v1h1v-1zM88 139v1h1v-1zM88 145v1h1v-1zM89 139v1h1v-1zM89 145v1h1v-1zM94 135v1h1v-1zM95 136v2h1v-2zM95 146v1h1v-1zM96 131v2h1v-2zM96 135v3h1v-3zM96 146v1h1v-1zM98 142v1h1v-1zM99 139v1h1v-1zM99 141v1h1v-1zM99 143v1h1v-1zM99 145v1h1v-1zM100 131v1h1v-1zM102 141v1h1v-1zM102 143v1h1v-1zM102 145v1h1v-1zM103 142v1h1v-1zM107 146v1h1v-1zM110 146v1h1v-1zM111 141v1h1v-1z"/>
<path fill="#f86721" d="M0 19v1h1v-1zM0 21v3h1v-3zM0 28v1h1v-1zM0 30v1h1v-1zM0 70v1h1v-1zM0 72v1h1v-1zM0 77v1h1v-1zM0 80v1h1v-1zM0 89v1h1v-1zM0 111v1h1v-1zM0 151v1h1v-1zM1 6v1h1v-1zM1 9v1h1v-1zM1 20v1h1v-1zM1 22v1h1v-1zM1 30v1h1v-1zM1 38v1h1v-1zM1 47v1h1v-1zM1 117v1h1v-1zM1 130v1h1v-1zM1 144v1h1v-1zM2 12v1h1v-1zM2 21v3h1v-3zM2 30v1h1v-1zM2 45v1h1v-1zM2 51v1h1v-1zM2 61v2h1v-2zM2 68v1h1v-1zM2 102v1h1v-1zM2 151v1h1v-1zM3 20v1h1v-1zM3 23v1h1v-1zM3 59v1h1v-1zM3 65v1h1v-1zM3 81v1h1v-1zM4 19v1h1v-1zM4 23v1h1v-1zM4 25v1h1v-1zM4 28v1h1v-1zM4 42v1h1v-1zM4 46v1h1v-1zM4 71v1h1v-1zM4 104v1h1v-1zM4 108v1h1v-1zM4 114v1h1v-1zM4 118v1h1v-1zM4 129v1h1v-1zM4 133v2h1v-2zM4 143v1h1v-1zM5 19v1h1v-1zM5 23v1h1v-1zM5 28v1h1v-1zM5 35v1h1v-1zM5 42v1h1v-1zM5 46v1h1v-1zM5 71v1h1v-1zM5 104v1h1v-1zM5 108v1h1v-1zM5 114v1h1v-1zM5 118v1h1v-1zM5 129v1h1v-1zM5 133v2h1v-2zM5 143v1h1v-1zM6 19v1h1v-1zM6 67v1h1v-1zM6 70v1h1v-1zM6 72v1h1v-1zM6 80v1h1v-1zM6 83v1h1v-1zM6 92v1h1v-1zM7 17v1h1v-1zM7 19v1h1v-1zM7 23v1h1v-1zM7 28v1h1v-1zM7 59v2h1v-2zM7 65v1h1v-1zM7 81v1h1v-1zM7 133v2h1v-2zM7 144v1h1v-1zM8 14v2h1v-2zM8 18v1h1v-1zM8 26v1h1v-1zM8 33v1h1v-1zM8 56v1h1v-1zM8 93v1h1v-1zM9 19v1h1v-1zM9 55v1h1v-1zM9 57v1h1v-1zM9 59v1h1v-1zM10 12v1h1v-1zM10 14v2h1v-2zM10 23v1h1v-1zM10 25v2h1v-2zM10 59v1h1v-1zM10 65v1h1v-1zM10 104v1h1v-1zM10 126v1h1v-1zM10 133v2h1v-2zM10 142v1h1v-1zM11 49v1h1v-1zM11 51v1h1v-1zM11 68v1h1v-1zM11 97v1h1v-1zM11 102v1h1v-1zM11 151v1h1v-1zM12 19v1h1v-1zM12 28v2h1v-2zM12 32v1h1v-1zM12 45v1h1v-1zM12 49v1h1v-1zM12 51v1h1v-1zM12 61v2h1v-2zM12 69v1h1v-1zM12 73v1h1v-1zM13 30v1h1v-1zM13 35v1h1v-1zM13 46v1h1v-1zM13 59v1h1v-1zM13 63v1h1v-1zM13 67v1h1v-1zM13 71v2h1v-2zM13 89v1h1v-1zM13 99v1h1v-1zM13 103v2h1v-2zM13 134v1h1v-1zM13 143v1h1v-1zM14 56v1h1v-1zM14 96v1h1v-1zM14 121v3h1v-3zM14 146v1h1v-1zM14 149v2h1v-2zM15 53v1h1v-1zM15 70v1h1v-1zM15 89v1h1v-1zM15 134v1h1v-1zM15 138v1h1v-1zM15 140v1h1v-1zM15 147v1h1v-1zM16 24v1h1v-1zM16 37v3h1v-3zM16 73v1h1v-1zM16 115v1h1v-1zM16 119v1h1v-1zM16 141v1h1v-1zM16 145v1h1v-1zM16 151v1h1v-1zM17 68v1h1v-1zM17 71v1h1v-1zM17 82v1h1v-1zM17 102v1h1v-1zM17 114v1h1v-1zM17 118v1h1v-1zM18 67v1h1v-1zM18 71v1h1v-1zM18 89v1h1v-1zM18 140v1h1v-1zM18 142v1h1v-1zM19 20v1h1v-1zM19 94v2h1v-2zM19 132v1h1v-1zM20 28v1h1v-1zM20 53v1h1v-1zM20 59v1h1v-1zM20 65v1h1v-1zM20 133v2h1v-2zM20 143v2h1v-2zM21 61v1h1v-1zM21 97v1h1v-1zM21 102v1h1v-1zM21 117v1h1v-1zM21 141v1h1v-1zM21 148v1h1v-1zM21 151v1h1v-1zM22 40v3h1v-3zM22 45v4h1v-4zM22 50v1h1v-1zM22 52v1h1v-1zM22 81v1h1v-1zM22 114v1h1v-1zM22 133v2h1v-2zM22 143v2h1v-2zM23 53v2h1v-2zM23 90v2h1v-2zM23 131v2h1v-2zM23 135v3h1v-3zM23 149v1h1v-1zM24 39v10h1v-10zM24 50v1h1v-1zM24 52v3h1v-3zM24 59v1h1v-1zM24 79v1h1v-1zM24 102v1h1v-1zM24 108v1h1v-1zM24 114v1h1v-1zM24 117v2h1v-2zM24 130v1h1v-1zM24 133v1h1v-1zM24 143v1h1v-1zM25 60v1h1v-1zM25 97v1h1v-1zM26 96v1h1v-1zM26 131v2h1v-2zM27 55v2h1v-2zM27 73v1h1v-1zM27 87v1h1v-1zM27 119v1h1v-1zM27 141v1h1v-1zM28 37v2h1v-2zM28 60v1h1v-1zM28 68v1h1v-1zM28 144v1h1v-1zM29 63v1h1v-1zM29 65v1h1v-1zM29 70v1h1v-1zM29 99v1h1v-1zM29 134v1h1v-1zM29 143v1h1v-1zM30 40v9h1v-9zM30 50v1h1v-1zM30 60v1h1v-1zM30 64v1h1v-1zM30 90v2h1v-2zM30 98v1h1v-1zM30 131v2h1v-2zM30 146v1h1v-1zM30 149v1h1v-1zM31 68v1h1v-1zM31 82v1h1v-1zM31 130v1h1v-1zM31 144v1h1v-1zM32 70v1h1v-1zM32 104v1h1v-1zM32 134v1h1v-1zM33 64v1h1v-1zM33 94v2h1v-2zM33 132v1h1v-1zM33 149v1h1v-1zM34 83v1h1v-1zM34 92v1h1v-1zM34 100v1h1v-1zM34 105v1h1v-1zM34 112v2h1v-2zM34 127v1h1v-1zM34 139v1h1v-1zM34 147v1h1v-1zM35 40v4h1v-4zM35 48v1h1v-1zM35 50v1h1v-1zM35 52v1h1v-1zM35 70v1h1v-1zM35 99v1h1v-1zM35 104v1h1v-1zM35 108v1h1v-1zM35 118v1h1v-1zM35 133v1h1v-1zM35 140v1h1v-1zM35 143v1h1v-1zM36 43v6h1v-6zM36 66v1h1v-1zM36 70v1h1v-1zM36 89v1h1v-1zM36 99v1h1v-1zM36 129v1h1v-1zM36 140v1h1v-1zM37 58v1h1v-1zM37 63v2h1v-2zM37 66v1h1v-1zM37 71v1h1v-1zM37 79v1h1v-1zM37 81v1h1v-1zM37 102v1h1v-1zM37 118v1h1v-1zM37 130v1h1v-1zM37 144v1h1v-1zM38 58v1h1v-1zM38 63v1h1v-1zM38 65v3h1v-3zM38 98v1h1v-1zM38 146v1h1v-1zM39 65v1h1v-1zM39 69v1h1v-1zM39 151v1h1v-1zM40 57v1h1v-1zM40 67v3h1v-3zM40 128v1h1v-1zM40 141v1h1v-1zM40 145v1h1v-1zM40 151v1h1v-1zM41 57v1h1v-1zM41 60v1h1v-1zM41 65v1h1v-1zM41 67v3h1v-3zM41 77v1h1v-1zM41 80v1h1v-1zM41 85v2h1v-2zM41 101v1h1v-1zM41 107v1h1v-1zM41 110v1h1v-1zM41 116v1h1v-1zM41 120v1h1v-1zM41 124v1h1v-1zM41 127v1h1v-1zM41 139v1h1v-1zM42 57v1h1v-1zM42 60v1h1v-1zM42 68v1h1v-1zM42 85v1h1v-1zM43 85v1h1v-1zM44 57v1h1v-1zM44 64v5h1v-5zM44 80v1h1v-1zM44 83v2h1v-2zM44 86v1h1v-1zM44 100v1h1v-1zM44 105v1h1v-1zM44 107v1h1v-1zM44 110v1h1v-1zM44 127v1h1v-1zM45 57v1h1v-1zM45 64v6h1v-6zM45 93v4h1v-4zM45 98v1h1v-1zM45 131v2h1v-2zM45 136v2h1v-2zM45 150v1h1v-1zM46 67v3h1v-3zM46 74v1h1v-1zM46 93v4h1v-4zM46 150v1h1v-1zM47 82v1h1v-1zM47 97v1h1v-1zM47 102v1h1v-1zM47 144v1h1v-1zM48 90v2h1v-2zM48 93v4h1v-4zM48 132v1h1v-1zM50 96v1h1v-1zM51 87v1h1v-1zM51 141v1h1v-1zM52 78v1h1v-1zM52 92v1h1v-1zM52 100v1h1v-1zM52 107v1h1v-1zM52 110v1h1v-1zM52 116v1h1v-1zM52 120v1h1v-1zM52 124v1h1v-1zM52 127v1h1v-1zM52 139v1h1v-1zM52 142v1h1v-1zM53 101v1h1v-1zM53 141v1h1v-1zM54 58v1h1v-1zM54 122v2h1v-2zM54 135v3h1v-3zM54 149v1h1v-1zM55 79v1h1v-1zM55 81v1h1v-1zM55 142v1h1v-1zM56 99v1h1v-1zM56 103v2h1v-2zM56 142v1h1v-1zM57 82v1h1v-1zM57 125v1h1v-1zM57 128v1h1v-1zM59 86v4h1v-4zM59 110v2h1v-2zM59 118v1h1v-1zM63 119v1h1v-1zM63 141v1h1v-1zM63 143v1h1v-1zM64 140v1h1v-1zM65 133v1h1v-1zM65 139v1h1v-1zM65 143v1h1v-1zM66 139v1h1v-1zM66 143v1h1v-1zM67 139v1h1v-1zM67 143v1h1v-1zM68 96v2h1v-2zM68 110v2h1v-2zM68 116v1h1v-1zM68 120v1h1v-1zM68 124v1h1v-1zM68 127v1h1v-1zM68 142v1h1v-1zM69 96v2h1v-2zM69 110v2h1v-2zM69 116v1h1v-1zM69 120v1h1v-1zM69 124v1h1v-1zM69 127v1h1v-1zM69 142v1h1v-1zM70 116v1h1v-1zM70 124v1h1v-1zM70 147v1h1v-1zM71 116v1h1v-1zM71 124v1h1v-1zM71 147v1h1v-1zM72 122v2h1v-2zM72 146v1h1v-1zM72 150v1h1v-1zM73 124v1h1v-1zM73 142v1h1v-1zM74 110v2h1v-2zM74 140v1h1v-1zM74 147v1h1v-1zM75 110v2h1v-2zM75 133v1h1v-1zM75 151v1h1v-1zM78 121v3h1v-3zM78 131v1h1v-1zM78 146v1h1v-1zM78 150v1h1v-1zM79 125v1h1v-1zM79 128v1h1v-1zM79 134v1h1v-1zM79 138v1h1v-1zM79 143v1h1v-1zM79 145v1h1v-1zM79 151v1h1v-1zM80 110v2h1v-2zM81 110v2h1v-2zM81 139v1h1v-1zM82 142v1h1v-1zM83 143v1h1v-1zM84 144v1h1v-1zM85 140v1h1v-1zM85 142v1h1v-1zM85 147v1h1v-1zM86 110v2h1v-2zM86 117v1h1v-1zM86 142v1h1v-1zM86 144v1h1v-1zM86 147v1h1v-1zM87 110v2h1v-2zM87 115v1h1v-1zM87 134v1h1v-1zM87 138v1h1v-1zM87 151v1h1v-1zM88 132v1h1v-1zM88 135v1h1v-1zM89 132v1h1v-1zM89 135v1h1v-1zM95 147v1h1v-1zM96 116v1h1v-1zM96 120v1h1v-1zM96 124v1h1v-1zM96 127v1h1v-1zM96 130v1h1v-1zM96 144v1h1v-1zM97 142v1h1v-1zM98 141v1h1v-1zM98 143v1h1v-1zM98 145v1h1v-1zM99 132v1h1v-1zM99 146v1h1v-1zM100 130v1h1v-1zM102 132v1h1v-1zM102 135v1h1v-1zM102 146v1h1v-1zM103 141v1h1v-1zM103 143v1h1v-1zM103 145v1h1v-1zM106 146v1h1v-1zM111 146v1h1v-1z"/>
<path fill="#f9581c" d="M0 45v1h1v-1zM0 60v1h1v-1zM0 102v1h1v-1zM1 76v1h1v-1zM2 36v1h1v-1zM2 56v1h1v-1zM2 77v1h1v-1zM2 93v1h1v-1zM2 129v1h1v-1zM2 131v2h1v-2zM2 135v1h1v-1zM4 36v1h1v-1zM4 94v2h1v-2zM4 150v1h1v-1zM5 36v1h1v-1zM5 94v2h1v-2zM5 150v1h1v-1zM6 38v1h1v-1zM6 97v1h1v-1zM6 102v1h1v-1zM6 117v1h1v-1zM7 104v1h1v-1zM7 142v1h1v-1zM8 46v1h1v-1zM8 51v1h1v-1zM8 63v1h1v-1zM8 71v1h1v-1zM8 103v1h1v-1zM8 126v1h1v-1zM8 133v1h1v-1zM8 138v1h1v-1zM8 140v1h1v-1zM8 151v1h1v-1zM9 142v1h1v-1zM10 52v1h1v-1zM10 54v1h1v-1zM11 42v1h1v-1zM11 46v1h1v-1zM11 64v1h1v-1zM11 77v1h1v-1zM11 90v2h1v-2zM11 98v1h1v-1zM11 108v1h1v-1zM11 118v1h1v-1zM11 129v1h1v-1zM11 131v2h1v-2zM11 135v1h1v-1zM12 85v2h1v-2zM12 92v1h1v-1zM12 118v1h1v-1zM12 127v1h1v-1zM12 135v1h1v-1zM12 149v1h1v-1zM13 93v1h1v-1zM13 150v1h1v-1zM14 61v1h1v-1zM14 73v1h1v-1zM14 87v1h1v-1zM14 125v1h1v-1zM14 143v1h1v-1zM15 90v2h1v-2zM15 94v2h1v-2zM15 98v1h1v-1zM15 132v1h1v-1zM15 136v2h1v-2zM16 58v1h1v-1zM16 85v2h1v-2zM16 92v1h1v-1zM16 101v1h1v-1zM16 110v1h1v-1zM16 124v1h1v-1zM16 132v1h1v-1zM16 135v1h1v-1zM17 67v1h1v-1zM17 99v1h1v-1zM18 64v1h1v-1zM18 90v2h1v-2zM18 93v1h1v-1zM18 98v1h1v-1zM18 131v1h1v-1zM18 135v3h1v-3zM18 150v1h1v-1zM19 61v1h1v-1zM19 70v1h1v-1zM19 72v1h1v-1zM19 104v1h1v-1zM19 115v1h1v-1zM19 128v1h1v-1zM19 147v1h1v-1zM19 151v1h1v-1zM20 63v1h1v-1zM20 99v1h1v-1zM21 54v1h1v-1zM21 56v1h1v-1zM21 92v1h1v-1zM21 118v1h1v-1zM22 99v1h1v-1zM23 71v1h1v-1zM23 89v1h1v-1zM23 128v1h1v-1zM23 145v1h1v-1zM23 147v1h1v-1zM23 151v1h1v-1zM25 100v1h1v-1zM25 106v1h1v-1zM25 112v2h1v-2zM26 61v2h1v-2zM26 108v1h1v-1zM26 128v1h1v-1zM26 148v1h1v-1zM26 151v1h1v-1zM27 64v1h1v-1zM27 77v1h1v-1zM27 92v1h1v-1zM27 94v2h1v-2zM27 116v1h1v-1zM27 120v1h1v-1zM27 135v3h1v-3zM28 76v1h1v-1zM29 90v2h1v-2zM29 131v1h1v-1zM30 62v1h1v-1zM30 70v1h1v-1zM30 72v1h1v-1zM30 89v1h1v-1zM30 118v1h1v-1zM30 151v1h1v-1zM31 105v1h1v-1zM31 111v1h1v-1zM32 90v2h1v-2zM32 98v1h1v-1zM32 131v1h1v-1zM32 150v1h1v-1zM33 73v1h1v-1zM33 89v1h1v-1zM33 115v1h1v-1zM33 118v1h1v-1zM33 128v1h1v-1zM33 140v1h1v-1zM33 143v1h1v-1zM33 147v1h1v-1zM33 151v1h1v-1zM34 68v1h1v-1zM34 117v1h1v-1zM34 130v1h1v-1zM35 93v3h1v-3zM36 90v2h1v-2zM36 121v3h1v-3zM36 131v2h1v-2zM36 135v1h1v-1zM37 104v1h1v-1zM37 142v1h1v-1zM38 73v1h1v-1zM38 87v1h1v-1zM38 115v1h1v-1zM38 119v1h1v-1zM38 125v1h1v-1zM38 148v1h1v-1zM40 77v1h1v-1zM40 85v2h1v-2zM40 101v1h1v-1zM40 107v1h1v-1zM40 110v1h1v-1zM40 116v1h1v-1zM40 120v1h1v-1zM40 124v1h1v-1zM40 127v1h1v-1zM40 131v1h1v-1zM40 146v1h1v-1zM41 82v1h1v-1zM41 130v1h1v-1zM45 87v1h1v-1zM45 115v1h1v-1zM45 128v1h1v-1zM45 141v1h1v-1zM45 147v2h1v-2zM46 87v1h1v-1zM46 119v1h1v-1zM46 147v2h1v-2zM47 75v1h1v-1zM47 78v1h1v-1zM47 80v1h1v-1zM47 84v1h1v-1zM47 88v1h1v-1zM47 100v1h1v-1zM47 109v1h1v-1zM47 111v3h1v-3zM47 139v1h1v-1zM48 119v1h1v-1zM48 140v1h1v-1zM48 143v1h1v-1zM48 147v2h1v-2zM48 151v1h1v-1zM49 98v1h1v-1zM49 121v3h1v-3zM49 131v1h1v-1zM49 136v2h1v-2zM49 149v2h1v-2zM50 115v1h1v-1zM50 119v1h1v-1zM50 128v1h1v-1zM50 140v1h1v-1zM50 145v1h1v-1zM50 151v1h1v-1zM54 119v1h1v-1zM54 125v1h1v-1zM54 128v1h1v-1zM54 141v1h1v-1zM54 145v1h1v-1zM54 151v1h1v-1zM55 121v1h1v-1zM55 146v1h1v-1zM55 150v1h1v-1zM56 93v1h1v-1zM56 122v2h1v-2zM56 131v2h1v-2zM56 135v1h1v-1zM56 149v1h1v-1zM57 92v1h1v-1zM57 127v1h1v-1zM58 84v1h1v-1zM58 106v1h1v-1zM58 109v1h1v-1zM58 112v2h1v-2zM58 139v1h1v-1zM60 141v1h1v-1zM63 121v1h1v-1zM63 131v2h1v-2zM63 135v3h1v-3zM64 118v1h1v-1zM64 134v1h1v-1zM64 138v1h1v-1zM64 148v1h1v-1zM65 117v1h1v-1zM65 121v3h1v-3zM65 135v1h1v-1zM65 144v1h1v-1zM65 150v1h1v-1zM66 117v1h1v-1zM66 121v3h1v-3zM66 132v1h1v-1zM66 144v1h1v-1zM66 146v1h1v-1zM66 150v1h1v-1zM67 117v1h1v-1zM67 121v3h1v-3zM67 132v1h1v-1zM67 144v1h1v-1zM67 146v1h1v-1zM67 150v1h1v-1zM68 125v1h1v-1zM68 128v1h1v-1zM68 139v1h1v-1zM68 143v1h1v-1zM68 145v1h1v-1zM69 125v1h1v-1zM69 128v1h1v-1zM69 139v1h1v-1zM69 143v1h1v-1zM69 145v1h1v-1zM70 125v1h1v-1zM70 133v1h1v-1zM70 141v1h1v-1zM70 145v1h1v-1zM70 151v1h1v-1zM71 125v1h1v-1zM71 133v1h1v-1zM71 141v1h1v-1zM71 145v1h1v-1zM71 151v1h1v-1zM72 116v1h1v-1zM72 140v1h1v-1zM72 147v1h1v-1zM73 118v1h1v-1zM73 125v2h1v-2zM73 141v1h1v-1zM73 143v1h1v-1zM73 151v1h1v-1zM74 133v1h1v-1zM74 151v1h1v-1zM75 150v1h1v-1zM78 117v1h1v-1zM78 130v1h1v-1zM78 144v1h1v-1zM78 147v1h1v-1zM79 121v3h1v-3zM79 131v1h1v-1zM79 146v1h1v-1zM79 150v1h1v-1zM82 143v1h1v-1zM84 138v1h1v-1zM84 140v1h1v-1zM84 142v2h1v-2zM84 147v1h1v-1zM85 138v1h1v-1zM85 143v1h1v-1zM86 118v1h1v-1zM86 126v1h1v-1zM86 129v1h1v-1zM86 133v1h1v-1zM86 139v1h1v-1zM86 143v1h1v-1zM87 150v1h1v-1zM88 142v1h1v-1zM88 144v1h1v-1zM89 142v1h1v-1zM89 144v1h1v-1zM90 141v1h1v-1zM90 145v1h1v-1zM94 134v1h1v-1zM95 139v1h1v-1zM95 141v1h1v-1zM95 145v1h1v-1zM96 119v1h1v-1zM96 125v1h1v-1zM96 128v1h1v-1zM96 133v2h1v-2zM96 140v1h1v-1zM96 147v2h1v-2zM97 141v1h1v-1zM97 143v1h1v-1zM97 145v1h1v-1zM98 132v1h1v-1zM98 139v1h1v-1zM98 146v1h1v-1zM99 140v1h1v-1zM99 144v1h1v-1zM99 147v1h1v-1zM100 141v1h1v-1zM100 145v1h1v-1zM101 131v1h1v-1zM102 140v1h1v-1zM102 144v1h1v-1zM102 147v1h1v-1zM103 132v1h1v-1zM103 135v1h1v-1zM103 146v1h1v-1zM106 147v1h1v-1zM107 141v1h1v-1zM107 145v1h1v-1zM107 147v1h1v-1zM108 141v1h1v-1zM108 145v1h1v-1zM109 141v1h1v-1zM109 145v1h1v-1zM110 140v1h1v-1zM110 147v1h1v-1zM111 140v1h1v-1zM111 147v1h1v-1z"/>
<path fill="#fa4917" d="M0 36v1h1v-1zM0 43v1h1v-1zM0 49v1h1v-1zM0 90v2h1v-2zM0 98v1h1v-1zM0 121v3h1v-3zM0 131v2h1v-2zM0 136v2h1v-2zM0 146v1h1v-1zM1 54v1h1v-1zM1 57v1h1v-1zM1 63v1h1v-1zM1 99v1h1v-1zM1 103v1h1v-1zM1 108v1h1v-1zM1 114v1h1v-1zM1 129v1h1v-1zM1 135v1h1v-1zM1 138v1h1v-1zM1 142v1h1v-1zM1 147v1h1v-1zM2 80v1h1v-1zM2 140v1h1v-1zM2 147v1h1v-1zM4 60v1h1v-1zM4 82v1h1v-1zM5 60v1h1v-1zM5 82v1h1v-1zM6 51v1h1v-1zM6 54v1h1v-1zM6 61v1h1v-1zM6 64v1h1v-1zM6 90v2h1v-2zM6 94v2h1v-2zM6 98v1h1v-1zM6 115v1h1v-1zM6 131v2h1v-2zM6 135v1h1v-1zM6 145v1h1v-1zM6 151v1h1v-1zM8 48v1h1v-1zM8 60v1h1v-1zM10 55v1h1v-1zM11 67v1h1v-1zM11 70v1h1v-1zM11 78v1h1v-1zM11 80v1h1v-1zM11 83v1h1v-1zM11 89v1h1v-1zM11 105v1h1v-1zM11 147v1h1v-1zM12 66v1h1v-1zM12 88v1h1v-1zM12 100v1h1v-1zM12 105v1h1v-1zM12 112v2h1v-2zM12 139v1h1v-1zM12 147v1h1v-1zM13 82v1h1v-1zM14 80v1h1v-1zM14 83v1h1v-1zM14 97v1h1v-1zM14 100v1h1v-1zM14 105v1h1v-1zM14 117v1h1v-1zM14 144v1h1v-1zM15 60v1h1v-1zM15 82v1h1v-1zM15 102v1h1v-1zM16 88v1h1v-1zM16 105v2h1v-2zM16 112v2h1v-2zM18 60v1h1v-1zM18 130v1h1v-1zM19 68v1h1v-1zM19 80v1h1v-1zM19 82v1h1v-1zM19 100v1h1v-1zM19 102v1h1v-1zM19 112v2h1v-2zM19 144v1h1v-1zM21 83v1h1v-1zM21 105v1h1v-1zM23 55v1h1v-1zM23 60v1h1v-1zM23 78v1h1v-1zM23 106v1h1v-1zM23 109v1h1v-1zM23 111v3h1v-3zM23 130v1h1v-1zM25 57v1h1v-1zM25 63v1h1v-1zM25 65v1h1v-1zM25 71v1h1v-1zM25 81v1h1v-1zM25 89v3h1v-3zM25 93v1h1v-1zM25 131v1h1v-1zM25 134v1h1v-1zM25 138v1h1v-1zM25 140v1h1v-1zM25 142v1h1v-1zM25 149v1h1v-1zM26 74v3h1v-3zM26 97v1h1v-1zM26 105v1h1v-1zM26 130v1h1v-1zM27 67v1h1v-1zM27 78v1h1v-1zM27 88v1h1v-1zM27 100v1h1v-1zM27 139v1h1v-1zM28 63v1h1v-1zM28 65v1h1v-1zM28 70v1h1v-1zM28 90v2h1v-2zM28 99v1h1v-1zM28 131v1h1v-1zM28 134v1h1v-1zM28 143v1h1v-1zM29 130v1h1v-1zM30 68v1h1v-1zM30 82v1h1v-1zM30 105v1h1v-1zM30 111v1h1v-1zM30 130v1h1v-1zM30 144v1h1v-1zM31 67v1h1v-1zM31 71v1h1v-1zM31 93v1h1v-1zM31 99v1h1v-1zM31 103v1h1v-1zM31 108v1h1v-1zM31 126v1h1v-1zM31 129v1h1v-1zM31 134v1h1v-1zM31 140v1h1v-1zM31 142v1h1v-1zM31 147v1h1v-1zM31 150v1h1v-1zM32 130v1h1v-1zM33 66v1h1v-1zM33 68v1h1v-1zM33 74v2h1v-2zM33 80v1h1v-1zM33 82v1h1v-1zM33 102v1h1v-1zM33 106v1h1v-1zM33 109v1h1v-1zM33 111v3h1v-3zM33 144v1h1v-1zM34 90v2h1v-2zM34 96v1h1v-1zM34 98v1h1v-1zM34 122v2h1v-2zM34 136v2h1v-2zM34 149v1h1v-1zM36 102v1h1v-1zM36 130v1h1v-1zM36 144v1h1v-1zM38 76v1h1v-1zM38 100v1h1v-1zM38 105v2h1v-2zM38 109v1h1v-1zM38 111v3h1v-3zM38 139v1h1v-1zM38 144v1h1v-1zM39 83v1h1v-1zM40 80v1h1v-1zM40 139v1h1v-1zM41 73v1h1v-1zM41 87v1h1v-1zM41 115v1h1v-1zM41 119v1h1v-1zM41 125v1h1v-1zM41 132v1h1v-1zM41 135v3h1v-3zM41 148v1h1v-1zM41 150v1h1v-1zM44 87v1h1v-1zM44 93v4h1v-4zM44 98v1h1v-1zM44 115v1h1v-1zM44 128v1h1v-1zM44 131v2h1v-2zM44 136v2h1v-2zM44 141v1h1v-1zM44 148v1h1v-1zM44 150v1h1v-1zM45 78v1h1v-1zM45 82v1h1v-1zM45 88v1h1v-1zM45 97v1h1v-1zM45 102v1h1v-1zM45 106v1h1v-1zM45 109v1h1v-1zM45 111v3h1v-3zM45 130v1h1v-1zM45 139v1h1v-1zM45 144v1h1v-1zM46 78v1h1v-1zM46 80v1h1v-1zM46 82v1h1v-1zM46 84v1h1v-1zM46 88v1h1v-1zM46 97v1h1v-1zM46 100v1h1v-1zM46 102v1h1v-1zM46 109v1h1v-1zM46 111v3h1v-3zM46 139v1h1v-1zM46 144v1h1v-1zM47 98v1h1v-1zM47 104v1h1v-1zM47 121v3h1v-3zM47 131v1h1v-1zM47 133v1h1v-1zM47 136v2h1v-2zM47 140v1h1v-1zM47 142v1h1v-1zM47 149v1h1v-1zM48 78v1h1v-1zM48 80v1h1v-1zM48 83v2h1v-2zM48 88v1h1v-1zM48 97v1h1v-1zM48 100v1h1v-1zM48 105v2h1v-2zM48 109v1h1v-1zM48 112v2h1v-2zM48 144v1h1v-1zM49 82v1h1v-1zM49 102v1h1v-1zM49 117v1h1v-1zM49 130v1h1v-1zM50 78v1h1v-1zM50 97v1h1v-1zM50 109v1h1v-1zM50 111v3h1v-3zM51 83v1h1v-1zM52 96v1h1v-1zM52 115v1h1v-1zM52 119v1h1v-1zM52 125v1h1v-1zM52 128v1h1v-1zM52 135v1h1v-1zM52 146v1h1v-1zM52 148v1h1v-1zM52 151v1h1v-1zM54 100v1h1v-1zM54 105v2h1v-2zM54 109v1h1v-1zM54 111v3h1v-3zM55 102v1h1v-1zM55 117v1h1v-1zM55 144v1h1v-1zM56 130v1h1v-1zM57 105v1h1v-1zM57 139v1h1v-1zM58 89v3h1v-3zM58 94v3h1v-3zM58 118v1h1v-1zM58 131v2h1v-2zM58 140v1h1v-1zM58 142v1h1v-1zM59 140v1h1v-1zM59 142v1h1v-1zM60 122v2h1v-2zM60 131v2h1v-2zM62 120v1h1v-1zM62 142v1h1v-1zM63 130v1h1v-1zM63 140v1h1v-1zM64 130v2h1v-2zM64 149v1h1v-1zM65 140v1h1v-1zM65 148v1h1v-1zM66 119v1h1v-1zM66 124v2h1v-2zM66 127v2h1v-2zM66 140v1h1v-1zM66 147v2h1v-2zM67 119v1h1v-1zM67 124v2h1v-2zM67 127v2h1v-2zM67 140v1h1v-1zM67 147v2h1v-2zM68 121v3h1v-3zM68 131v2h1v-2zM68 135v1h1v-1zM68 146v1h1v-1zM69 121v3h1v-3zM69 131v2h1v-2zM69 135v1h1v-1zM69 146v1h1v-1zM70 117v1h1v-1zM70 135v3h1v-3zM70 144v1h1v-1zM70 150v1h1v-1zM71 117v1h1v-1zM71 135v3h1v-3zM71 144v1h1v-1zM71 150v1h1v-1zM72 139v1h1v-1zM72 145v1h1v-1zM73 122v2h1v-2zM73 146v1h1v-1zM73 150v1h1v-1zM74 150v1h1v-1zM78 126v1h1v-1zM78 129v1h1v-1zM78 141v1h1v-1zM78 148v1h1v-1zM79 117v1h1v-1zM79 130v1h1v-1zM79 144v1h1v-1zM79 147v1h1v-1zM86 131v1h1v-1zM86 135v1h1v-1zM88 133v2h1v-2zM88 138v1h1v-1zM88 143v1h1v-1zM88 148v1h1v-1zM89 133v2h1v-2zM89 138v1h1v-1zM89 143v1h1v-1zM89 148v1h1v-1zM90 132v1h1v-1zM90 135v1h1v-1zM90 139v1h1v-1zM90 146v1h1v-1zM91 139v1h1v-1zM91 141v1h1v-1zM91 145v1h1v-1zM94 136v2h1v-2zM94 146v1h1v-1zM95 130v3h1v-3zM95 144v1h1v-1zM96 121v3h1v-3zM96 139v1h1v-1zM96 149v1h1v-1zM97 131v2h1v-2zM97 135v3h1v-3zM97 146v1h1v-1zM98 140v1h1v-1zM98 144v1h1v-1zM98 147v1h1v-1zM99 133v1h1v-1zM99 138v1h1v-1zM100 132v1h1v-1zM100 135v1h1v-1zM100 146v1h1v-1zM101 130v1h1v-1zM102 133v2h1v-2zM102 139v1h1v-1zM102 148v1h1v-1zM103 140v1h1v-1zM103 144v1h1v-1zM103 147v1h1v-1zM104 145v1h1v-1zM106 141v1h1v-1zM106 145v1h1v-1zM107 131v2h1v-2zM108 132v1h1v-1zM108 135v1h1v-1zM108 144v1h1v-1zM108 146v1h1v-1zM109 132v1h1v-1zM109 135v1h1v-1zM109 146v1h1v-1zM110 131v1h1v-1z"/>
<path fill="#fb3b13" d="M0 16v1h1v-1zM0 18v1h1v-1zM0 25v2h1v-2zM0 59v1h1v-1zM0 65v1h1v-1zM0 67v1h1v-1zM0 71v1h1v-1zM0 76v1h1v-1zM0 79v1h1v-1zM0 104v1h1v-1zM0 140v1h1v-1zM1 12v2h1v-2zM1 16v2h1v-2zM1 21v1h1v-1zM1 31v1h1v-1zM1 48v1h1v-1zM1 55v1h1v-1zM2 25v1h1v-1zM2 38v1h1v-1zM2 47v2h1v-2zM2 82v1h1v-1zM2 130v1h1v-1zM2 144v1h1v-1zM3 21v1h1v-1zM3 31v1h1v-1zM3 53v1h1v-1zM4 24v1h1v-1zM4 53v1h1v-1zM4 57v1h1v-1zM4 59v1h1v-1zM4 63v1h1v-1zM4 65v1h1v-1zM4 79v1h1v-1zM4 126v1h1v-1zM5 16v3h1v-3zM5 25v2h1v-2zM5 29v1h1v-1zM5 32v2h1v-2zM5 53v1h1v-1zM5 57v1h1v-1zM5 59v1h1v-1zM5 63v1h1v-1zM5 65v1h1v-1zM5 79v1h1v-1zM5 126v1h1v-1zM6 46v1h1v-1zM6 71v1h1v-1zM6 89v1h1v-1zM6 105v1h1v-1zM6 129v1h1v-1zM6 138v1h1v-1zM6 140v1h1v-1zM6 147v1h1v-1zM7 14v3h1v-3zM7 18v1h1v-1zM7 26v1h1v-1zM7 29v1h1v-1zM7 32v3h1v-3zM7 53v1h1v-1zM7 114v1h1v-1zM7 143v1h1v-1zM8 21v1h1v-1zM8 27v1h1v-1zM8 29v1h1v-1zM8 32v1h1v-1zM8 34v1h1v-1zM8 36v3h1v-3zM8 50v1h1v-1zM8 54v1h1v-1zM8 150v1h1v-1zM9 37v2h1v-2zM9 143v1h1v-1zM10 18v1h1v-1zM10 29v1h1v-1zM10 33v2h1v-2zM10 37v2h1v-2zM10 57v1h1v-1zM10 79v1h1v-1zM10 81v1h1v-1zM10 143v1h1v-1zM11 21v3h1v-3zM11 27v1h1v-1zM11 29v2h1v-2zM11 35v3h1v-3zM11 39v1h1v-1zM11 60v1h1v-1zM11 130v1h1v-1zM11 144v1h1v-1zM12 16v1h1v-1zM12 39v1h1v-1zM12 47v1h1v-1zM12 87v1h1v-1zM12 102v1h1v-1zM12 141v1h1v-1zM12 144v1h1v-1zM12 151v1h1v-1zM13 36v1h1v-1zM13 53v1h1v-1zM13 57v1h1v-1zM13 65v1h1v-1zM13 133v1h1v-1zM13 138v1h1v-1zM13 140v1h1v-1zM14 21v1h1v-1zM14 36v1h1v-1zM14 90v2h1v-2zM14 94v2h1v-2zM14 98v1h1v-1zM14 132v1h1v-1zM14 136v2h1v-2zM15 36v1h1v-1zM15 57v1h1v-1zM15 59v1h1v-1zM15 71v2h1v-2zM15 99v1h1v-1zM15 104v1h1v-1zM15 108v1h1v-1zM15 114v1h1v-1zM15 118v1h1v-1zM15 129v1h1v-1zM16 21v3h1v-3zM16 30v2h1v-2zM16 69v1h1v-1zM16 87v1h1v-1zM16 125v1h1v-1zM16 128v1h1v-1zM17 46v1h1v-1zM17 59v1h1v-1zM17 81v1h1v-1zM17 103v1h1v-1zM17 108v1h1v-1zM17 129v1h1v-1zM18 99v1h1v-1zM18 103v1h1v-1zM18 133v1h1v-1zM18 138v1h1v-1zM18 143v1h1v-1zM19 22v3h1v-3zM19 30v1h1v-1zM19 64v1h1v-1zM19 90v2h1v-2zM19 93v1h1v-1zM19 98v1h1v-1zM19 131v1h1v-1zM19 135v3h1v-3zM19 150v1h1v-1zM20 44v4h1v-4zM20 81v1h1v-1zM20 129v1h1v-1zM21 22v1h1v-1zM21 30v1h1v-1zM21 35v1h1v-1zM21 55v1h1v-1zM21 62v1h1v-1zM21 68v1h1v-1zM21 128v1h1v-1zM21 145v1h1v-1zM22 43v2h1v-2zM22 79v1h1v-1zM22 108v1h1v-1zM22 129v1h1v-1zM23 93v1h1v-1zM23 98v1h1v-1zM23 150v1h1v-1zM24 103v1h1v-1zM25 102v1h1v-1zM25 117v1h1v-1zM25 130v1h1v-1zM26 36v1h1v-1zM26 93v1h1v-1zM26 98v1h1v-1zM26 121v1h1v-1zM26 149v2h1v-2zM27 61v2h1v-2zM27 68v1h1v-1zM27 82v1h1v-1zM27 128v1h1v-1zM27 144v1h1v-1zM27 148v1h1v-1zM27 151v1h1v-1zM28 29v1h1v-1zM28 55v1h1v-1zM28 58v1h1v-1zM28 130v1h1v-1zM29 56v1h1v-1zM29 58v2h1v-2zM29 71v1h1v-1zM29 79v1h1v-1zM29 81v1h1v-1zM29 114v1h1v-1zM29 126v1h1v-1zM29 133v1h1v-1zM30 52v3h1v-3zM30 93v1h1v-1zM30 150v1h1v-1zM31 57v3h1v-3zM32 65v1h1v-1zM32 67v1h1v-1zM32 71v2h1v-2zM32 99v1h1v-1zM32 103v1h1v-1zM32 126v1h1v-1zM32 133v1h1v-1zM32 138v1h1v-1zM33 36v1h1v-1zM33 60v1h1v-1zM33 90v2h1v-2zM33 98v1h1v-1zM33 131v1h1v-1zM33 150v1h1v-1zM34 36v1h1v-1zM34 66v1h1v-1zM34 78v1h1v-1zM34 80v1h1v-1zM34 89v1h1v-1zM34 134v1h1v-1zM34 142v1h1v-1zM35 53v2h1v-2zM35 67v1h1v-1zM35 71v1h1v-1zM35 103v1h1v-1zM35 114v1h1v-1zM35 129v1h1v-1zM35 138v1h1v-1zM36 39v4h1v-4zM36 50v1h1v-1zM36 52v1h1v-1zM36 56v1h1v-1zM36 71v1h1v-1zM36 79v1h1v-1zM36 81v1h1v-1zM36 104v1h1v-1zM36 118v1h1v-1zM36 142v1h1v-1zM37 43v6h1v-6zM37 57v1h1v-1zM37 59v1h1v-1zM37 62v1h1v-1zM37 103v1h1v-1zM37 108v1h1v-1zM37 114v1h1v-1zM37 126v1h1v-1zM37 133v2h1v-2zM37 138v1h1v-1zM37 143v1h1v-1zM38 57v1h1v-1zM38 59v1h1v-1zM38 90v2h1v-2zM38 93v4h1v-4zM38 121v3h1v-3zM38 132v1h1v-1zM38 135v3h1v-3zM38 149v1h1v-1zM39 60v1h1v-1zM39 77v1h1v-1zM39 86v1h1v-1zM39 92v1h1v-1zM39 101v1h1v-1zM39 107v1h1v-1zM39 110v1h1v-1zM39 116v1h1v-1zM39 120v1h1v-1zM39 124v1h1v-1zM39 127v2h1v-2zM39 141v1h1v-1zM39 145v1h1v-1zM40 64v1h1v-1zM40 66v1h1v-1zM40 73v1h1v-1zM40 82v1h1v-1zM40 87v1h1v-1zM40 115v1h1v-1zM40 119v1h1v-1zM40 125v1h1v-1zM40 130v1h1v-1zM40 148v1h1v-1zM41 64v1h1v-1zM41 66v1h1v-1zM41 74v3h1v-3zM41 78v1h1v-1zM41 84v1h1v-1zM41 100v1h1v-1zM41 105v2h1v-2zM41 109v1h1v-1zM41 111v3h1v-3zM41 147v1h1v-1zM42 65v3h1v-3zM42 69v1h1v-1zM42 77v1h1v-1zM42 86v1h1v-1zM42 92v1h1v-1zM42 101v1h1v-1zM42 107v1h1v-1zM42 110v1h1v-1zM42 124v1h1v-1zM42 127v1h1v-1zM42 145v1h1v-1zM42 151v1h1v-1zM43 60v1h1v-1zM43 65v5h1v-5zM43 77v1h1v-1zM43 86v1h1v-1zM43 92v1h1v-1zM43 101v1h1v-1zM43 107v1h1v-1zM43 110v1h1v-1zM43 124v1h1v-1zM43 127v1h1v-1zM43 145v1h1v-1zM43 151v1h1v-1zM44 60v1h1v-1zM44 63v1h1v-1zM44 69v1h1v-1zM44 73v2h1v-2zM44 78v1h1v-1zM44 88v1h1v-1zM44 106v1h1v-1zM44 109v1h1v-1zM44 111v3h1v-3zM44 139v1h1v-1zM44 147v1h1v-1zM45 60v1h1v-1zM45 63v1h1v-1zM45 73v2h1v-2zM45 90v2h1v-2zM45 122v2h1v-2zM45 149v1h1v-1zM46 57v1h1v-1zM46 60v2h1v-2zM46 64v3h1v-3zM46 73v1h1v-1zM46 98v1h1v-1zM46 121v3h1v-3zM46 131v1h1v-1zM46 136v2h1v-2zM46 149v1h1v-1zM47 69v1h1v-1zM47 73v2h1v-2zM47 117v1h1v-1zM47 130v1h1v-1zM48 98v1h1v-1zM48 121v3h1v-3zM48 131v1h1v-1zM48 136v2h1v-2zM48 149v2h1v-2zM49 89v1h1v-1zM49 99v1h1v-1zM49 104v1h1v-1zM49 114v1h1v-1zM49 133v1h1v-1zM49 138v1h1v-1zM50 90v2h1v-2zM50 98v1h1v-1zM50 121v3h1v-3zM50 131v2h1v-2zM50 135v1h1v-1zM50 150v1h1v-1zM51 57v1h1v-1zM51 110v1h1v-1zM51 116v1h1v-1zM51 120v1h1v-1zM51 127v1h1v-1zM52 105v2h1v-2zM52 109v1h1v-1zM52 111v3h1v-3zM52 140v1h1v-1zM52 143v1h1v-1zM53 92v1h1v-1zM53 107v1h1v-1zM53 110v1h1v-1zM53 116v1h1v-1zM53 120v1h1v-1zM53 124v1h1v-1zM53 127v1h1v-1zM54 121v1h1v-1zM54 146v1h1v-1zM54 150v1h1v-1zM55 66v1h1v-1zM55 104v1h1v-1zM55 114v1h1v-1zM55 134v1h1v-1zM55 138v1h1v-1zM55 140v1h1v-1zM55 143v1h1v-1zM55 147v1h1v-1zM56 129v1h1v-1zM56 138v1h1v-1zM56 140v1h1v-1zM56 143v1h1v-1zM57 64v1h1v-1zM57 102v1h1v-1zM57 119v1h1v-1zM57 141v1h1v-1zM57 148v1h1v-1zM58 97v1h1v-1zM58 130v1h1v-1zM59 63v1h1v-1zM59 84v2h1v-2zM59 90v2h1v-2zM59 94v4h1v-4zM59 106v4h1v-4zM59 112v2h1v-2zM59 126v1h1v-1zM59 129v1h1v-1zM59 139v1h1v-1zM59 143v1h1v-1zM60 130v1h1v-1zM62 119v1h1v-1zM62 141v1h1v-1zM62 143v1h1v-1zM63 118v1h1v-1zM63 133v2h1v-2zM64 90v4h1v-4zM64 112v2h1v-2zM65 90v4h1v-4zM65 112v2h1v-2zM65 118v1h1v-1zM65 134v1h1v-1zM65 138v1h1v-1zM66 92v4h1v-4zM66 133v1h1v-1zM66 138v1h1v-1zM67 92v4h1v-4zM67 133v1h1v-1zM67 138v1h1v-1zM68 90v6h1v-6zM68 98v10h1v-10zM68 117v1h1v-1zM68 130v1h1v-1zM68 144v1h1v-1zM68 147v1h1v-1zM69 90v6h1v-6zM69 98v10h1v-10zM69 117v1h1v-1zM69 130v1h1v-1zM69 144v1h1v-1zM69 147v1h1v-1zM70 90v2h1v-2zM70 106v2h1v-2zM70 140v1h1v-1zM71 90v2h1v-2zM71 106v2h1v-2zM71 140v1h1v-1zM72 92v2h1v-2zM72 96v2h1v-2zM72 104v4h1v-4zM72 110v2h1v-2zM72 136v2h1v-2zM73 92v2h1v-2zM73 96v2h1v-2zM73 104v4h1v-4zM73 110v2h1v-2zM73 116v1h1v-1zM73 140v1h1v-1zM73 147v1h1v-1zM74 90v6h1v-6zM74 98v12h1v-12zM75 90v6h1v-6zM75 98v12h1v-12zM76 104v2h1v-2zM77 104v2h1v-2zM78 110v2h1v-2zM78 132v1h1v-1zM78 149v1h1v-1zM79 110v2h1v-2zM79 126v1h1v-1zM79 129v1h1v-1zM79 141v1h1v-1zM79 148v1h1v-1zM80 139v1h1v-1zM81 138v1h1v-1zM83 139v1h1v-1zM84 102v10h1v-10zM85 102v10h1v-10zM86 98v2h1v-2zM86 106v4h1v-4zM86 112v3h1v-3zM86 130v1h1v-1zM87 98v2h1v-2zM87 106v4h1v-4zM87 112v3h1v-3zM88 110v4h1v-4zM88 146v1h1v-1zM88 149v1h1v-1zM89 110v4h1v-4zM89 146v1h1v-1zM89 149v1h1v-1zM90 144v1h1v-1zM91 132v1h1v-1zM91 135v1h1v-1zM91 146v1h1v-1zM92 141v1h1v-1zM92 145v1h1v-1zM93 141v1h1v-1zM93 145v1h1v-1zM94 147v1h1v-1zM95 140v1h1v-1zM95 142v1h1v-1zM96 108v4h1v-4zM96 117v1h1v-1zM97 108v4h1v-4zM97 116v1h1v-1zM97 120v1h1v-1zM97 124v1h1v-1zM97 127v1h1v-1zM97 130v1h1v-1zM97 140v1h1v-1zM97 144v1h1v-1zM97 147v1h1v-1zM98 108v4h1v-4zM98 133v1h1v-1zM98 138v1h1v-1zM99 108v4h1v-4zM99 131v1h1v-1zM99 136v2h1v-2zM100 144v1h1v-1zM101 141v1h1v-1zM101 145v1h1v-1zM102 131v1h1v-1zM102 136v2h1v-2zM102 149v1h1v-1zM103 133v2h1v-2zM103 148v1h1v-1zM105 145v1h1v-1zM106 131v2h1v-2zM107 130v1h1v-1zM107 144v1h1v-1zM108 140v1h1v-1zM108 142v1h1v-1zM108 147v1h1v-1zM109 144v1h1v-1zM110 130v1h1v-1zM111 131v1h1v-1z"/>
<path fill="#fc2c0e" d="M0 38v1h1v-1zM0 47v1h1v-1zM0 54v1h1v-1zM0 117v1h1v-1zM0 130v1h1v-1zM0 135v1h1v-1zM0 144v1h1v-1zM2 35v1h1v-1zM2 50v1h1v-1zM2 54v1h1v-1zM2 64v1h1v-1zM2 76v1h1v-1zM2 98v1h1v-1zM2 150v1h1v-1zM6 48v1h1v-1zM6 50v1h1v-1zM6 52v1h1v-1zM6 55v1h1v-1zM6 82v1h1v-1zM6 93v1h1v-1zM6 130v1h1v-1zM6 150v1h1v-1zM8 55v1h1v-1zM8 65v1h1v-1zM8 79v1h1v-1zM8 81v1h1v-1zM8 104v1h1v-1zM8 114v1h1v-1zM8 134v1h1v-1zM11 50v1h1v-1zM11 56v1h1v-1zM11 76v1h1v-1zM11 93v1h1v-1zM11 150v1h1v-1zM12 50v1h1v-1zM12 52v1h1v-1zM12 54v1h1v-1zM12 56v1h1v-1zM12 64v1h1v-1zM12 74v2h1v-2zM12 78v1h1v-1zM12 80v1h1v-1zM12 83v2h1v-2zM12 90v2h1v-2zM12 94v3h1v-3zM12 98v1h1v-1zM12 131v2h1v-2zM12 136v2h1v-2zM14 53v1h1v-1zM14 60v1h1v-1zM14 70v1h1v-1zM14 82v1h1v-1zM14 89v1h1v-1zM14 102v1h1v-1zM14 134v1h1v-1zM14 138v1h1v-1zM14 140v1h1v-1zM14 147v1h1v-1zM16 66v1h1v-1zM16 80v1h1v-1zM16 83v2h1v-2zM16 96v1h1v-1zM16 100v1h1v-1zM16 109v1h1v-1zM16 111v1h1v-1zM16 121v3h1v-3zM16 136v2h1v-2zM16 146v1h1v-1zM16 150v1h1v-1zM19 60v1h1v-1zM19 67v1h1v-1zM19 71v1h1v-1zM19 89v1h1v-1zM19 130v1h1v-1zM19 140v1h1v-1zM19 142v1h1v-1zM21 52v1h1v-1zM21 64v1h1v-1zM21 74v2h1v-2zM21 80v1h1v-1zM21 131v2h1v-2zM21 135v3h1v-3zM21 146v1h1v-1zM21 149v2h1v-2zM23 57v1h1v-1zM23 59v1h1v-1zM23 63v1h1v-1zM23 65v1h1v-1zM23 72v1h1v-1zM23 103v1h1v-1zM23 126v1h1v-1zM23 138v1h1v-1zM23 140v1h1v-1zM23 142v1h1v-1zM23 144v1h1v-1zM26 60v1h1v-1zM26 65v1h1v-1zM26 70v1h1v-1zM26 72v1h1v-1zM26 81v1h1v-1zM26 89v1h1v-1zM26 102v1h1v-1zM26 114v1h1v-1zM26 117v1h1v-1zM26 134v1h1v-1zM26 140v1h1v-1zM26 142v1h1v-1zM27 74v3h1v-3zM27 96v1h1v-1zM27 105v1h1v-1zM27 131v2h1v-2zM30 67v1h1v-1zM30 71v1h1v-1zM30 99v1h1v-1zM30 103v1h1v-1zM30 108v1h1v-1zM30 126v1h1v-1zM30 129v1h1v-1zM30 134v1h1v-1zM30 140v1h1v-1zM30 142v1h1v-1zM30 147v1h1v-1zM31 63v1h1v-1zM31 104v1h1v-1zM33 70v1h1v-1zM33 104v1h1v-1zM33 130v1h1v-1zM33 134v1h1v-1zM34 82v1h1v-1zM34 93v3h1v-3zM34 97v1h1v-1zM34 102v1h1v-1zM34 144v1h1v-1zM38 97v1h1v-1zM38 99v1h1v-1zM38 102v1h1v-1zM38 117v1h1v-1zM38 140v1h1v-1zM38 147v1h1v-1zM39 150v1h1v-1zM40 74v3h1v-3zM40 78v1h1v-1zM40 84v1h1v-1zM40 100v1h1v-1zM40 105v2h1v-2zM40 109v1h1v-1zM40 111v3h1v-3zM40 132v1h1v-1zM40 135v3h1v-3zM40 150v1h1v-1zM41 96v1h1v-1zM41 98v1h1v-1zM41 121v3h1v-3zM41 144v1h1v-1zM41 149v1h1v-1zM42 131v2h1v-2zM42 146v1h1v-1zM43 131v2h1v-2zM43 146v1h1v-1zM44 82v1h1v-1zM44 90v2h1v-2zM44 97v1h1v-1zM44 102v1h1v-1zM44 122v2h1v-2zM44 130v1h1v-1zM44 144v1h1v-1zM44 149v1h1v-1zM45 99v1h1v-1zM45 104v1h1v-1zM45 142v1h1v-1zM46 104v1h1v-1zM46 117v1h1v-1zM46 130v1h1v-1zM46 133v1h1v-1zM46 140v1h1v-1zM46 142v1h1v-1zM47 89v1h1v-1zM47 99v1h1v-1zM48 82v1h1v-1zM48 102v1h1v-1zM48 117v1h1v-1zM48 130v1h1v-1zM50 117v1h1v-1zM50 130v1h1v-1zM50 142v1h1v-1zM50 144v1h1v-1zM52 93v3h1v-3zM52 97v1h1v-1zM52 121v3h1v-3zM52 131v2h1v-2zM52 149v2h1v-2zM54 79v1h1v-1zM54 81v1h1v-1zM54 102v1h1v-1zM54 117v1h1v-1zM54 142v1h1v-1zM54 144v1h1v-1zM57 80v1h1v-1zM57 96v1h1v-1zM57 98v1h1v-1zM57 136v2h1v-2zM59 130v3h1v-3zM60 133v1h1v-1zM60 140v1h1v-1zM61 141v1h1v-1zM62 121v1h1v-1zM62 131v2h1v-2zM62 135v3h1v-3zM65 130v2h1v-2zM65 149v1h1v-1zM66 130v2h1v-2zM66 135v1h1v-1zM66 149v1h1v-1zM67 130v2h1v-2zM67 135v1h1v-1zM67 149v1h1v-1zM68 119v1h1v-1zM68 126v1h1v-1zM68 129v1h1v-1zM68 133v2h1v-2zM68 138v1h1v-1zM68 141v1h1v-1zM68 148v1h1v-1zM68 151v1h1v-1zM69 119v1h1v-1zM69 126v1h1v-1zM69 129v1h1v-1zM69 133v2h1v-2zM69 138v1h1v-1zM69 141v1h1v-1zM69 148v1h1v-1zM69 151v1h1v-1zM70 134v1h1v-1zM71 134v1h1v-1zM72 117v1h1v-1zM72 144v1h1v-1zM73 139v1h1v-1zM73 145v1h1v-1zM78 140v1h1v-1zM79 132v1h1v-1zM79 149v1h1v-1zM82 139v1h1v-1zM86 115v1h1v-1zM86 134v1h1v-1zM86 138v1h1v-1zM86 151v1h1v-1zM88 147v1h1v-1zM89 147v1h1v-1zM90 133v2h1v-2zM90 138v1h1v-1zM90 140v1h1v-1zM90 142v2h1v-2zM90 147v1h1v-1zM91 140v1h1v-1zM91 142v1h1v-1zM91 144v1h1v-1zM91 147v1h1v-1zM92 131v2h1v-2zM92 135v3h1v-3zM92 139v1h1v-1zM92 146v1h1v-1zM93 131v2h1v-2zM93 135v3h1v-3zM93 139v1h1v-1zM93 146v1h1v-1zM94 139v1h1v-1zM94 141v1h1v-1zM94 145v1h1v-1zM95 133v1h1v-1zM95 138v1h1v-1zM95 143v1h1v-1zM96 118v1h1v-1zM96 126v1h1v-1zM96 129v1h1v-1zM96 138v1h1v-1zM97 119v1h1v-1zM97 125v1h1v-1zM97 128v1h1v-1zM97 133v2h1v-2zM97 139v1h1v-1zM97 148v1h1v-1zM98 131v1h1v-1zM98 136v2h1v-2zM99 130v1h1v-1zM100 133v2h1v-2zM100 140v1h1v-1zM100 142v2h1v-2zM100 147v1h1v-1zM101 132v1h1v-1zM101 135v1h1v-1zM101 146v1h1v-1zM102 130v1h1v-1zM103 131v1h1v-1zM103 136v2h1v-2zM103 139v1h1v-1zM103 149v1h1v-1zM104 130v3h1v-3zM104 144v1h1v-1zM105 131v2h1v-2zM106 130v1h1v-1zM106 140v1h1v-1zM106 142v1h1v-1zM106 144v1h1v-1zM107 133v1h1v-1zM107 140v1h1v-1zM107 142v2h1v-2zM108 133v2h1v-2zM108 143v1h1v-1zM109 133v2h1v-2zM109 140v1h1v-1zM109 142v2h1v-2zM109 147v1h1v-1zM111 130v1h1v-1z"/>
<path fill="#fd1d09" d="M0 14v2h1v-2zM0 32v4h1v-4zM0 48v1h1v-1zM0 50v4h1v-4zM0 55v1h1v-1zM1 3v1h1v-1zM1 5v1h1v-1zM1 7v1h1v-1zM1 10v2h1v-2zM1 14v2h1v-2zM1 18v1h1v-1zM1 23v1h1v-1zM1 25v2h1v-2zM1 29v1h1v-1zM1 32v4h1v-4zM1 37v1h1v-1zM1 42v1h1v-1zM1 46v1h1v-1zM1 50v4h1v-4zM1 81v1h1v-1zM1 118v1h1v-1zM1 126v1h1v-1zM1 133v1h1v-1zM1 143v1h1v-1zM2 14v2h1v-2zM2 26v1h1v-1zM2 29v1h1v-1zM2 32v1h1v-1zM2 42v1h1v-1zM2 52v1h1v-1zM2 67v1h1v-1zM2 70v1h1v-1zM2 72v1h1v-1zM2 103v2h1v-2zM2 126v1h1v-1zM2 138v1h1v-1zM2 142v1h1v-1zM3 10v1h1v-1zM3 15v4h1v-4zM3 25v2h1v-2zM3 29v1h1v-1zM3 32v2h1v-2zM4 15v1h1v-1zM4 21v1h1v-1zM4 26v1h1v-1zM4 29v1h1v-1zM4 32v3h1v-3zM4 37v1h1v-1zM4 81v1h1v-1zM5 12v1h1v-1zM5 15v1h1v-1zM5 37v1h1v-1zM5 81v1h1v-1zM6 13v1h1v-1zM6 60v1h1v-1zM6 144v1h1v-1zM7 12v2h1v-2zM7 25v1h1v-1zM8 10v2h1v-2zM8 16v1h1v-1zM8 19v1h1v-1zM8 22v1h1v-1zM8 30v1h1v-1zM8 35v1h1v-1zM8 52v2h1v-2zM8 142v1h1v-1zM9 35v1h1v-1zM9 52v2h1v-2zM10 11v1h1v-1zM10 32v1h1v-1zM10 53v1h1v-1zM11 14v3h1v-3zM11 18v2h1v-2zM11 38v1h1v-1zM11 52v1h1v-1zM11 54v1h1v-1zM11 63v1h1v-1zM11 71v1h1v-1zM11 99v1h1v-1zM11 103v1h1v-1zM11 114v1h1v-1zM11 138v1h1v-1zM11 140v1h1v-1zM12 13v3h1v-3zM12 27v1h1v-1zM12 70v1h1v-1zM12 76v2h1v-2zM12 93v1h1v-1zM12 108v1h1v-1zM12 114v1h1v-1zM12 129v1h1v-1zM12 142v1h1v-1zM12 150v1h1v-1zM13 19v1h1v-1zM13 39v1h1v-1zM13 76v2h1v-2zM13 79v1h1v-1zM13 81v1h1v-1zM13 126v1h1v-1zM14 24v1h1v-1zM14 29v1h1v-1zM14 32v1h1v-1zM14 39v6h1v-6zM14 46v2h1v-2zM14 50v2h1v-2zM14 62v8h1v-8zM14 72v1h1v-1zM14 74v2h1v-2zM14 78v2h1v-2zM14 84v2h1v-2zM14 92v2h1v-2zM14 99v1h1v-1zM14 104v1h1v-1zM14 126v2h1v-2zM14 130v2h1v-2zM15 21v2h1v-2zM15 40v1h1v-1zM15 42v1h1v-1zM15 46v2h1v-2zM15 50v2h1v-2zM15 62v8h1v-8zM15 74v2h1v-2zM15 78v2h1v-2zM15 81v1h1v-1zM15 84v2h1v-2zM15 92v2h1v-2zM15 103v1h1v-1zM15 126v2h1v-2zM15 130v2h1v-2zM15 133v1h1v-1zM16 19v1h1v-1zM16 35v1h1v-1zM16 56v2h1v-2zM16 60v6h1v-6zM16 74v6h1v-6zM16 90v2h1v-2zM16 93v3h1v-3zM16 98v1h1v-1zM16 126v2h1v-2zM16 130v2h1v-2zM16 142v1h1v-1zM17 56v2h1v-2zM17 60v6h1v-6zM17 74v6h1v-6zM17 126v2h1v-2zM17 130v2h1v-2zM18 21v1h1v-1zM18 36v1h1v-1zM18 40v1h1v-1zM18 54v4h1v-4zM18 59v1h1v-1zM18 62v2h1v-2zM18 65v1h1v-1zM18 74v6h1v-6zM18 81v1h1v-1zM18 114v1h1v-1zM18 116v12h1v-12zM18 129v1h1v-1zM18 134v1h1v-1zM19 27v1h1v-1zM19 35v2h1v-2zM19 54v4h1v-4zM19 62v2h1v-2zM19 74v6h1v-6zM19 99v1h1v-1zM19 116v12h1v-12zM20 40v3h1v-3zM20 76v4h1v-4zM21 26v1h1v-1zM21 33v2h1v-2zM21 67v1h1v-1zM21 70v1h1v-1zM21 72v1h1v-1zM21 76v4h1v-4zM21 89v3h1v-3zM21 93v1h1v-1zM21 98v1h1v-1zM21 103v1h1v-1zM22 74v4h1v-4zM22 104v2h1v-2zM23 74v4h1v-4zM23 99v1h1v-1zM23 104v2h1v-2zM24 74v4h1v-4zM24 98v2h1v-2zM24 104v2h1v-2zM24 126v4h1v-4zM24 144v2h1v-2zM25 55v1h1v-1zM25 59v1h1v-1zM25 74v4h1v-4zM25 79v1h1v-1zM25 98v2h1v-2zM25 104v2h1v-2zM25 108v1h1v-1zM25 114v1h1v-1zM25 118v1h1v-1zM25 126v4h1v-4zM25 133v1h1v-1zM25 143v3h1v-3zM26 40v1h1v-1zM26 52v1h1v-1zM26 63v1h1v-1zM26 90v2h1v-2zM26 99v1h1v-1zM26 104v1h1v-1zM26 122v6h1v-6zM27 36v1h1v-1zM27 41v1h1v-1zM27 45v1h1v-1zM27 90v2h1v-2zM27 93v1h1v-1zM27 98v1h1v-1zM27 108v1h1v-1zM27 121v7h1v-7zM27 149v2h1v-2zM28 32v1h1v-1zM28 71v1h1v-1zM28 79v1h1v-1zM28 81v1h1v-1zM28 114v1h1v-1zM28 116v2h1v-2zM28 126v1h1v-1zM28 133v1h1v-1zM29 116v2h1v-2zM29 129v1h1v-1zM30 55v1h1v-1zM30 63v1h1v-1zM30 76v2h1v-2zM30 104v1h1v-1zM30 112v6h1v-6zM31 43v5h1v-5zM31 61v1h1v-1zM31 65v1h1v-1zM31 76v2h1v-2zM31 79v1h1v-1zM31 81v1h1v-1zM31 112v6h1v-6zM31 133v1h1v-1zM31 138v1h1v-1zM31 143v1h1v-1zM32 51v1h1v-1zM32 58v1h1v-1zM32 60v2h1v-2zM32 76v4h1v-4zM32 81v1h1v-1zM32 108v1h1v-1zM32 114v1h1v-1zM32 129v1h1v-1zM33 40v2h1v-2zM33 57v1h1v-1zM33 63v1h1v-1zM33 67v1h1v-1zM33 72v1h1v-1zM33 76v4h1v-4zM33 99v1h1v-1zM34 40v2h1v-2zM34 43v2h1v-2zM34 59v1h1v-1zM34 63v1h1v-1zM34 72v6h1v-6zM35 39v1h1v-1zM35 72v6h1v-6zM35 79v1h1v-1zM35 81v1h1v-1zM35 126v1h1v-1zM36 53v1h1v-1zM36 60v1h1v-1zM36 74v4h1v-4zM36 92v2h1v-2zM36 103v1h1v-1zM36 108v1h1v-1zM36 112v3h1v-3zM36 126v1h1v-1zM36 133v2h1v-2zM36 138v1h1v-1zM36 143v1h1v-1zM36 150v2h1v-2zM37 42v1h1v-1zM37 56v1h1v-1zM37 74v4h1v-4zM37 92v2h1v-2zM37 112v2h1v-2zM37 150v2h1v-2zM38 42v5h1v-5zM38 61v1h1v-1zM38 68v1h1v-1zM38 70v1h1v-1zM38 72v1h1v-1zM38 74v2h1v-2zM38 78v2h1v-2zM38 84v2h1v-2zM38 88v2h1v-2zM38 104v1h1v-1zM38 130v2h1v-2zM38 142v1h1v-1zM39 52v1h1v-1zM39 56v2h1v-2zM39 68v1h1v-1zM39 73v3h1v-3zM39 78v3h1v-3zM39 84v2h1v-2zM39 87v3h1v-3zM39 115v1h1v-1zM39 119v1h1v-1zM39 125v1h1v-1zM39 130v2h1v-2zM39 148v1h1v-1zM40 43v1h1v-1zM40 47v2h1v-2zM40 50v3h1v-3zM40 59v1h1v-1zM40 70v1h1v-1zM40 88v9h1v-9zM40 98v1h1v-1zM40 121v3h1v-3zM40 147v1h1v-1zM40 149v1h1v-1zM41 46v1h1v-1zM41 88v8h1v-8zM41 97v1h1v-1zM41 102v1h1v-1zM41 117v1h1v-1zM42 63v1h1v-1zM42 70v1h1v-1zM42 80v1h1v-1zM42 83v2h1v-2zM42 87v5h1v-5zM42 114v8h1v-8zM42 125v1h1v-1zM42 128v1h1v-1zM42 141v1h1v-1zM42 148v1h1v-1zM43 51v1h1v-1zM43 56v4h1v-4zM43 61v1h1v-1zM43 63v2h1v-2zM43 70v1h1v-1zM43 73v1h1v-1zM43 80v1h1v-1zM43 83v2h1v-2zM43 87v5h1v-5zM43 114v8h1v-8zM43 125v1h1v-1zM43 128v1h1v-1zM43 141v1h1v-1zM43 148v1h1v-1zM44 75v3h1v-3zM44 116v6h1v-6zM44 124v2h1v-2zM44 134v2h1v-2zM45 46v1h1v-1zM45 59v1h1v-1zM45 76v2h1v-2zM45 89v1h1v-1zM45 116v6h1v-6zM45 124v2h1v-2zM45 134v2h1v-2zM45 140v1h1v-1zM46 59v1h1v-1zM46 63v1h1v-1zM46 71v2h1v-2zM46 76v2h1v-2zM46 89v3h1v-3zM46 99v1h1v-1zM46 124v2h1v-2zM46 128v2h1v-2zM46 134v2h1v-2zM47 57v1h1v-1zM47 59v1h1v-1zM47 63v3h1v-3zM47 71v2h1v-2zM47 76v2h1v-2zM47 90v2h1v-2zM47 103v1h1v-1zM47 114v1h1v-1zM47 124v2h1v-2zM47 128v2h1v-2zM47 134v2h1v-2zM47 143v1h1v-1zM48 62v4h1v-4zM48 76v2h1v-2zM48 89v1h1v-1zM48 99v1h1v-1zM48 104v1h1v-1zM48 110v2h1v-2zM48 124v2h1v-2zM48 128v2h1v-2zM48 134v2h1v-2zM49 54v2h1v-2zM49 57v1h1v-1zM49 63v1h1v-1zM49 76v2h1v-2zM49 79v1h1v-1zM49 81v1h1v-1zM49 103v1h1v-1zM49 108v1h1v-1zM49 110v2h1v-2zM49 118v1h1v-1zM49 124v3h1v-3zM49 128v2h1v-2zM49 134v2h1v-2zM50 56v2h1v-2zM50 63v8h1v-8zM50 84v2h1v-2zM50 88v2h1v-2zM50 92v4h1v-4zM50 99v9h1v-9zM50 124v2h1v-2zM50 136v2h1v-2zM50 146v4h1v-4zM51 55v2h1v-2zM51 58v7h1v-7zM51 66v1h1v-1zM51 80v1h1v-1zM51 84v2h1v-2zM51 88v2h1v-2zM51 92v4h1v-4zM51 100v8h1v-8zM51 115v1h1v-1zM51 119v1h1v-1zM51 124v2h1v-2zM51 128v1h1v-1zM51 136v2h1v-2zM51 139v1h1v-1zM51 145v5h1v-5zM51 151v1h1v-1zM52 57v1h1v-1zM52 61v1h1v-1zM52 63v2h1v-2zM52 68v1h1v-1zM52 72v2h1v-2zM52 80v12h1v-12zM52 98v2h1v-2zM52 102v2h1v-2zM52 117v1h1v-1zM52 130v1h1v-1zM52 136v2h1v-2zM52 144v2h1v-2zM53 55v1h1v-1zM53 63v1h1v-1zM53 72v2h1v-2zM53 78v1h1v-1zM53 80v12h1v-12zM53 98v3h1v-3zM53 102v2h1v-2zM53 115v1h1v-1zM53 119v1h1v-1zM53 125v1h1v-1zM53 128v1h1v-1zM53 136v2h1v-2zM53 139v1h1v-1zM53 142v1h1v-1zM53 144v2h1v-2zM53 148v1h1v-1zM53 151v1h1v-1zM54 90v4h1v-4zM54 98v2h1v-2zM54 104v1h1v-1zM54 126v2h1v-2zM54 130v4h1v-4zM54 140v1h1v-1zM54 147v1h1v-1zM55 63v1h1v-1zM55 90v4h1v-4zM55 98v2h1v-2zM55 103v1h1v-1zM55 108v1h1v-1zM55 118v1h1v-1zM55 126v2h1v-2zM55 129v5h1v-5zM56 63v1h1v-1zM56 66v2h1v-2zM56 74v6h1v-6zM56 81v1h1v-1zM56 90v2h1v-2zM56 118v1h1v-1zM56 120v2h1v-2zM56 126v1h1v-1zM56 133v2h1v-2zM56 144v4h1v-4zM56 150v2h1v-2zM57 66v2h1v-2zM57 74v6h1v-6zM57 89v3h1v-3zM57 93v1h1v-1zM57 108v1h1v-1zM57 114v1h1v-1zM57 120v4h1v-4zM57 131v2h1v-2zM57 135v1h1v-1zM57 144v4h1v-4zM57 149v3h1v-3zM58 82v2h1v-2zM58 92v2h1v-2zM58 98v8h1v-8zM58 114v2h1v-2zM58 126v1h1v-1zM58 129v1h1v-1zM58 134v2h1v-2zM58 143v3h1v-3zM59 82v2h1v-2zM59 92v2h1v-2zM59 98v8h1v-8zM59 114v2h1v-2zM59 134v2h1v-2zM59 144v2h1v-2zM60 88v2h1v-2zM60 116v6h1v-6zM60 124v6h1v-6zM60 134v6h1v-6zM60 142v4h1v-4zM61 88v2h1v-2zM61 116v14h1v-14zM61 131v2h1v-2zM61 134v6h1v-6zM61 142v4h1v-4zM62 74v4h1v-4zM62 88v6h1v-6zM62 112v2h1v-2zM62 116v2h1v-2zM62 122v2h1v-2zM62 128v3h1v-3zM62 138v3h1v-3zM62 144v8h1v-8zM63 74v4h1v-4zM63 88v6h1v-6zM63 112v2h1v-2zM63 116v2h1v-2zM63 122v2h1v-2zM63 128v2h1v-2zM63 138v2h1v-2zM63 144v8h1v-8zM64 84v6h1v-6zM64 94v12h1v-12zM64 110v2h1v-2zM64 114v2h1v-2zM64 126v4h1v-4zM65 84v6h1v-6zM65 94v12h1v-12zM65 110v2h1v-2zM65 114v2h1v-2zM65 126v4h1v-4zM66 86v6h1v-6zM66 96v18h1v-18zM67 86v6h1v-6zM67 96v18h1v-18zM68 108v2h1v-2zM68 112v2h1v-2zM68 149v2h1v-2zM69 108v2h1v-2zM69 112v2h1v-2zM69 149v2h1v-2zM70 88v2h1v-2zM70 92v4h1v-4zM70 98v8h1v-8zM70 108v6h1v-6zM70 118v6h1v-6zM70 126v4h1v-4zM70 138v2h1v-2zM70 148v2h1v-2zM71 88v2h1v-2zM71 92v4h1v-4zM71 98v8h1v-8zM71 108v6h1v-6zM71 118v6h1v-6zM71 126v4h1v-4zM71 138v2h1v-2zM71 148v2h1v-2zM72 88v2h1v-2zM72 94v2h1v-2zM72 98v6h1v-6zM72 108v2h1v-2zM72 112v2h1v-2zM72 128v4h1v-4zM72 134v2h1v-2zM72 138v1h1v-1zM72 148v2h1v-2zM73 88v2h1v-2zM73 94v2h1v-2zM73 98v6h1v-6zM73 108v2h1v-2zM73 112v2h1v-2zM73 128v4h1v-4zM73 134v4h1v-4zM73 148v2h1v-2zM74 112v2h1v-2zM74 128v2h1v-2zM74 148v2h1v-2zM75 112v2h1v-2zM75 128v2h1v-2zM75 148v2h1v-2zM76 90v6h1v-6zM76 100v4h1v-4zM76 106v16h1v-16zM76 124v6h1v-6zM76 138v14h1v-14zM77 90v6h1v-6zM77 100v4h1v-4zM77 106v16h1v-16zM77 124v6h1v-6zM77 138v14h1v-14zM78 90v2h1v-2zM78 94v2h1v-2zM78 98v4h1v-4zM78 104v6h1v-6zM78 112v4h1v-4zM78 118v2h1v-2zM78 133v1h1v-1zM79 90v2h1v-2zM79 94v2h1v-2zM79 98v4h1v-4zM79 104v6h1v-6zM79 112v4h1v-4zM79 118v2h1v-2zM79 140v1h1v-1zM80 104v6h1v-6zM80 112v4h1v-4zM80 118v4h1v-4zM80 124v2h1v-2zM80 134v2h1v-2zM80 140v6h1v-6zM80 148v4h1v-4zM81 104v6h1v-6zM81 112v4h1v-4zM81 118v4h1v-4zM81 124v2h1v-2zM81 134v2h1v-2zM81 140v6h1v-6zM81 148v4h1v-4zM82 108v4h1v-4zM82 114v8h1v-8zM82 124v2h1v-2zM82 134v2h1v-2zM82 148v4h1v-4zM83 108v4h1v-4zM83 114v8h1v-8zM83 124v2h1v-2zM83 134v2h1v-2zM83 148v4h1v-4zM84 90v6h1v-6zM84 112v2h1v-2zM84 118v8h1v-8zM84 148v4h1v-4zM85 90v6h1v-6zM85 112v2h1v-2zM85 118v8h1v-8zM85 148v4h1v-4zM86 102v4h1v-4zM86 148v3h1v-3zM87 102v4h1v-4zM87 148v2h1v-2zM88 104v2h1v-2zM88 114v4h1v-4zM88 120v12h1v-12zM88 150v2h1v-2zM89 104v2h1v-2zM89 114v4h1v-4zM89 120v12h1v-12zM89 150v2h1v-2zM90 108v8h1v-8zM90 126v2h1v-2zM90 130v2h1v-2zM90 148v2h1v-2zM91 108v8h1v-8zM91 126v2h1v-2zM91 130v2h1v-2zM91 133v2h1v-2zM91 138v1h1v-1zM91 143v1h1v-1zM91 148v2h1v-2zM92 110v4h1v-4zM92 116v2h1v-2zM92 130v1h1v-1zM92 140v1h1v-1zM92 142v1h1v-1zM92 144v1h1v-1zM92 147v3h1v-3zM93 110v4h1v-4zM93 116v2h1v-2zM93 130v1h1v-1zM93 140v1h1v-1zM93 142v1h1v-1zM93 144v1h1v-1zM93 147v3h1v-3zM94 110v4h1v-4zM94 131v2h1v-2zM94 148v2h1v-2zM95 110v4h1v-4zM95 148v2h1v-2zM96 112v2h1v-2zM97 112v2h1v-2zM97 121v3h1v-3zM97 149v1h1v-1zM98 112v2h1v-2zM98 126v5h1v-5zM98 134v2h1v-2zM98 148v2h1v-2zM99 112v2h1v-2zM99 126v4h1v-4zM99 134v2h1v-2zM99 148v2h1v-2zM100 108v6h1v-6zM100 138v2h1v-2zM100 148v2h1v-2zM101 108v6h1v-6zM101 138v3h1v-3zM101 142v1h1v-1zM101 144v1h1v-1zM101 147v3h1v-3zM102 110v4h1v-4zM102 116v14h1v-14zM102 138v1h1v-1zM103 110v4h1v-4zM103 116v15h1v-15zM104 110v4h1v-4zM104 128v2h1v-2zM104 134v2h1v-2zM104 142v2h1v-2zM104 146v4h1v-4zM105 110v4h1v-4zM105 128v3h1v-3zM105 134v2h1v-2zM105 142v3h1v-3zM105 146v4h1v-4zM106 133v3h1v-3zM106 143v1h1v-1zM107 134v2h1v-2zM108 130v2h1v-2zM109 130v2h1v-2zM110 134v2h1v-2zM110 138v2h1v-2zM111 134v2h1v-2zM111 138v2h1v-2zM114 136v2h1v-2zM115 136v2h1v-2z"/>
<path fill="#fe0f05" d="M0 57v1h1v-1zM0 63v1h1v-1zM0 99v1h1v-1zM0 103v1h1v-1zM0 108v1h1v-1zM0 114v1h1v-1zM0 129v1h1v-1zM0 138v1h1v-1zM0 142v1h1v-1zM0 147v1h1v-1zM1 134v1h1v-1zM2 55v1h1v-1zM2 60v1h1v-1zM6 42v1h1v-1zM6 57v1h1v-1zM6 63v1h1v-1zM6 79v1h1v-1zM6 99v1h1v-1zM6 103v1h1v-1zM6 108v1h1v-1zM6 118v1h1v-1zM6 126v1h1v-1zM11 48v1h1v-1zM11 82v1h1v-1zM12 48v1h1v-1zM12 55v1h1v-1zM12 60v1h1v-1zM12 68v1h1v-1zM12 97v1h1v-1zM12 130v1h1v-1zM16 97v1h1v-1zM16 117v1h1v-1zM16 144v1h1v-1zM21 60v1h1v-1zM21 82v1h1v-1zM21 130v1h1v-1zM25 103v1h1v-1zM27 97v1h1v-1zM27 130v1h1v-1zM28 129v1h1v-1zM34 70v1h1v-1zM34 99v1h1v-1zM34 104v1h1v-1zM34 108v1h1v-1zM34 118v1h1v-1zM34 133v1h1v-1zM34 140v1h1v-1zM34 143v1h1v-1zM39 76v1h1v-1zM39 82v1h1v-1zM39 100v1h1v-1zM39 105v2h1v-2zM39 109v1h1v-1zM39 111v3h1v-3zM39 139v1h1v-1zM40 144v1h1v-1zM41 140v1h1v-1zM41 142v1h1v-1zM42 74v3h1v-3zM42 78v1h1v-1zM42 100v1h1v-1zM42 105v2h1v-2zM42 109v1h1v-1zM42 111v3h1v-3zM42 130v1h1v-1zM42 139v1h1v-1zM43 74v3h1v-3zM43 78v1h1v-1zM43 100v1h1v-1zM43 105v2h1v-2zM43 109v1h1v-1zM43 111v3h1v-3zM43 130v1h1v-1zM43 139v1h1v-1zM44 99v1h1v-1zM44 104v1h1v-1zM44 142v1h1v-1zM47 79v1h1v-1zM47 81v1h1v-1zM47 108v1h1v-1zM47 118v1h1v-1zM47 126v1h1v-1zM47 138v1h1v-1zM51 78v1h1v-1zM51 82v1h1v-1zM51 109v1h1v-1zM51 111v3h1v-3zM52 147v1h1v-1zM53 105v2h1v-2zM53 109v1h1v-1zM53 111v3h1v-3zM57 97v1h1v-1zM58 108v1h1v-1zM58 133v1h1v-1zM58 138v1h1v-1zM59 133v1h1v-1zM59 138v1h1v-1zM61 130v1h1v-1zM61 140v1h1v-1zM62 118v1h1v-1zM62 133v2h1v-2zM66 118v1h1v-1zM66 126v1h1v-1zM66 129v1h1v-1zM66 134v1h1v-1zM67 118v1h1v-1zM67 126v1h1v-1zM67 129v1h1v-1zM67 134v1h1v-1zM68 140v1h1v-1zM69 140v1h1v-1zM73 117v1h1v-1zM73 144v1h1v-1zM79 133v1h1v-1zM80 138v1h1v-1zM83 138v1h1v-1zM92 133v2h1v-2zM92 138v1h1v-1zM92 143v1h1v-1zM93 133v2h1v-2zM93 138v1h1v-1zM93 143v1h1v-1zM94 130v1h1v-1zM94 140v1h1v-1zM94 142v1h1v-1zM94 144v1h1v-1zM97 117v1h1v-1zM101 133v2h1v-2zM101 143v1h1v-1zM103 138v1h1v-1zM104 133v1h1v-1zM105 133v1h1v-1z"/>
<path fill="#ff0000" d="M0 1v13h1v-13zM0 27v1h1v-1zM0 29v1h1v-1zM0 31v1h1v-1zM0 37v1h1v-1zM0 42v1h1v-1zM0 46v1h1v-1zM0 81v1h1v-1zM0 118v1h1v-1zM0 126v1h1v-1zM0 133v2h1v-2zM0 143v1h1v-1zM1 2v1h1v-1zM1 4v1h1v-1zM1 8v1h1v-1zM2 3v9h1v-9zM2 17v2h1v-2zM2 20v1h1v-1zM2 31v1h1v-1zM2 33v2h1v-2zM2 37v1h1v-1zM2 46v1h1v-1zM2 53v1h1v-1zM2 57v1h1v-1zM2 59v1h1v-1zM2 63v1h1v-1zM2 65v1h1v-1zM2 71v1h1v-1zM2 79v1h1v-1zM2 81v1h1v-1zM2 99v1h1v-1zM2 114v1h1v-1zM2 133v2h1v-2zM2 143v1h1v-1zM3 4v6h1v-6zM3 11v4h1v-4zM4 5v8h1v-8zM4 14v1h1v-1zM4 17v2h1v-2zM4 20v1h1v-1zM4 27v1h1v-1zM4 31v1h1v-1zM4 35v1h1v-1zM5 6v6h1v-6zM5 13v2h1v-2zM5 27v1h1v-1zM5 34v1h1v-1zM6 7v4h1v-4zM6 12v1h1v-1zM6 16v1h1v-1zM6 21v3h1v-3zM6 25v1h1v-1zM6 29v2h1v-2zM6 32v1h1v-1zM6 35v1h1v-1zM6 37v1h1v-1zM6 53v1h1v-1zM6 59v1h1v-1zM6 65v1h1v-1zM6 81v1h1v-1zM6 104v1h1v-1zM6 114v1h1v-1zM6 133v2h1v-2zM6 142v2h1v-2zM7 8v4h1v-4zM7 27v1h1v-1zM7 36v1h1v-1zM8 9v1h1v-1zM8 12v2h1v-2zM8 23v1h1v-1zM8 25v1h1v-1zM8 39v1h1v-1zM8 57v1h1v-1zM8 59v1h1v-1zM8 143v1h1v-1zM9 10v1h1v-1zM9 12v2h1v-2zM9 16v1h1v-1zM9 21v3h1v-3zM9 25v1h1v-1zM9 29v2h1v-2zM9 32v1h1v-1zM10 17v1h1v-1zM10 20v1h1v-1zM10 31v1h1v-1zM10 41v1h1v-1zM11 12v2h1v-2zM11 25v2h1v-2zM11 32v3h1v-3zM11 53v1h1v-1zM11 55v1h1v-1zM11 57v1h1v-1zM11 59v1h1v-1zM11 65v1h1v-1zM11 79v1h1v-1zM11 81v1h1v-1zM11 104v1h1v-1zM11 126v1h1v-1zM11 133v2h1v-2zM11 142v2h1v-2zM12 17v2h1v-2zM12 26v1h1v-1zM12 33v2h1v-2zM12 36v1h1v-1zM12 43v1h1v-1zM12 46v1h1v-1zM12 53v1h1v-1zM12 57v1h1v-1zM12 59v1h1v-1zM12 63v1h1v-1zM12 65v1h1v-1zM12 67v1h1v-1zM12 71v2h1v-2zM12 79v1h1v-1zM12 81v2h1v-2zM12 89v1h1v-1zM12 99v1h1v-1zM12 103v2h1v-2zM12 126v1h1v-1zM12 133v2h1v-2zM12 138v1h1v-1zM12 140v1h1v-1zM12 143v1h1v-1zM13 14v5h1v-5zM13 23v1h1v-1zM13 25v5h1v-5zM13 32v3h1v-3zM14 15v6h1v-6zM14 22v2h1v-2zM14 25v3h1v-3zM14 30v2h1v-2zM14 33v3h1v-3zM14 37v2h1v-2zM14 45v1h1v-1zM14 48v2h1v-2zM14 57v1h1v-1zM14 59v1h1v-1zM14 71v1h1v-1zM14 76v2h1v-2zM14 81v1h1v-1zM14 103v1h1v-1zM14 108v1h1v-1zM14 114v1h1v-1zM14 118v1h1v-1zM14 129v1h1v-1zM14 133v1h1v-1zM15 16v5h1v-5zM15 23v5h1v-5zM15 29v7h1v-7zM15 37v3h1v-3zM15 41v1h1v-1zM15 43v3h1v-3zM15 48v2h1v-2zM15 76v2h1v-2zM16 17v2h1v-2zM16 25v5h1v-5zM16 32v3h1v-3zM16 36v1h1v-1zM16 43v1h1v-1zM16 47v9h1v-9zM16 59v1h1v-1zM16 67v2h1v-2zM16 70v3h1v-3zM16 81v2h1v-2zM16 89v1h1v-1zM16 99v1h1v-1zM16 102v3h1v-3zM16 108v1h1v-1zM16 114v1h1v-1zM16 118v1h1v-1zM16 129v1h1v-1zM16 133v2h1v-2zM16 138v1h1v-1zM16 140v1h1v-1zM16 143v1h1v-1zM16 147v1h1v-1zM17 18v10h1v-10zM17 29v17h1v-17zM17 47v9h1v-9zM18 19v2h1v-2zM18 22v6h1v-6zM18 29v7h1v-7zM18 37v3h1v-3zM18 41v13h1v-13zM19 25v2h1v-2zM19 28v2h1v-2zM19 31v4h1v-4zM19 37v3h1v-3zM19 43v1h1v-1zM19 47v7h1v-7zM19 59v1h1v-1zM19 65v1h1v-1zM19 81v1h1v-1zM19 103v1h1v-1zM19 114v1h1v-1zM19 129v1h1v-1zM19 133v2h1v-2zM19 138v1h1v-1zM19 143v1h1v-1zM20 21v7h1v-7zM20 29v11h1v-11zM20 43v1h1v-1zM20 48v4h1v-4zM21 23v1h1v-1zM21 25v1h1v-1zM21 27v1h1v-1zM21 29v1h1v-1zM21 31v2h1v-2zM21 36v3h1v-3zM21 51v1h1v-1zM21 53v1h1v-1zM21 57v1h1v-1zM21 59v1h1v-1zM21 63v1h1v-1zM21 65v1h1v-1zM21 71v1h1v-1zM21 81v1h1v-1zM21 99v1h1v-1zM21 104v1h1v-1zM21 108v1h1v-1zM21 114v1h1v-1zM21 126v1h1v-1zM21 129v1h1v-1zM21 133v2h1v-2zM21 138v1h1v-1zM21 140v1h1v-1zM21 142v3h1v-3zM21 147v1h1v-1zM22 23v17h1v-17zM22 49v1h1v-1zM22 51v1h1v-1zM22 53v1h1v-1zM23 24v29h1v-29zM23 79v1h1v-1zM23 81v1h1v-1zM23 108v1h1v-1zM23 114v1h1v-1zM23 129v1h1v-1zM23 133v2h1v-2zM23 143v1h1v-1zM24 25v3h1v-3zM24 29v10h1v-10zM24 49v1h1v-1zM24 51v1h1v-1zM24 55v1h1v-1zM25 26v29h1v-29zM26 27v1h1v-1zM26 29v7h1v-7zM26 37v3h1v-3zM26 41v11h1v-11zM26 53v5h1v-5zM26 59v1h1v-1zM26 71v1h1v-1zM26 79v1h1v-1zM26 103v1h1v-1zM26 118v1h1v-1zM26 129v1h1v-1zM26 133v1h1v-1zM26 138v1h1v-1zM26 143v1h1v-1zM27 28v8h1v-8zM27 37v4h1v-4zM27 42v3h1v-3zM27 46v9h1v-9zM27 59v2h1v-2zM27 63v1h1v-1zM27 65v1h1v-1zM27 70v3h1v-3zM27 79v1h1v-1zM27 81v1h1v-1zM27 89v1h1v-1zM27 99v1h1v-1zM27 102v3h1v-3zM27 114v1h1v-1zM27 117v2h1v-2zM27 129v1h1v-1zM27 133v2h1v-2zM27 138v1h1v-1zM27 140v1h1v-1zM27 142v2h1v-2zM28 30v1h1v-1zM28 35v2h1v-2zM28 49v1h1v-1zM28 51v1h1v-1zM28 53v2h1v-2zM28 59v1h1v-1zM29 30v9h1v-9zM29 49v1h1v-1zM29 51v1h1v-1zM29 53v3h1v-3zM30 31v9h1v-9zM30 49v1h1v-1zM30 51v1h1v-1zM30 61v1h1v-1zM30 65v1h1v-1zM30 79v1h1v-1zM30 81v1h1v-1zM30 133v1h1v-1zM30 138v1h1v-1zM30 143v1h1v-1zM31 32v11h1v-11zM31 48v9h1v-9zM32 33v6h1v-6zM32 49v1h1v-1zM32 53v4h1v-4zM32 59v1h1v-1zM32 62v2h1v-2zM33 34v2h1v-2zM33 37v3h1v-3zM33 42v15h1v-15zM33 58v2h1v-2zM33 61v2h1v-2zM33 65v1h1v-1zM33 71v1h1v-1zM33 81v1h1v-1zM33 103v1h1v-1zM33 108v1h1v-1zM33 114v1h1v-1zM33 126v1h1v-1zM33 129v1h1v-1zM33 133v1h1v-1zM33 138v1h1v-1zM34 35v1h1v-1zM34 37v3h1v-3zM34 42v1h1v-1zM34 45v14h1v-14zM34 60v3h1v-3zM34 64v2h1v-2zM34 67v1h1v-1zM34 71v1h1v-1zM34 79v1h1v-1zM34 81v1h1v-1zM34 103v1h1v-1zM34 114v1h1v-1zM34 126v1h1v-1zM34 129v1h1v-1zM34 138v1h1v-1zM35 36v3h1v-3zM35 49v1h1v-1zM35 51v1h1v-1zM35 55v1h1v-1zM35 62v2h1v-2zM36 37v2h1v-2zM36 49v1h1v-1zM36 51v1h1v-1zM36 54v2h1v-2zM36 59v1h1v-1zM36 61v3h1v-3zM36 67v1h1v-1zM37 38v4h1v-4zM37 49v7h1v-7zM37 61v1h1v-1zM37 67v1h1v-1zM38 39v3h1v-3zM38 47v10h1v-10zM38 62v1h1v-1zM38 64v1h1v-1zM38 69v1h1v-1zM38 71v1h1v-1zM38 81v1h1v-1zM38 103v1h1v-1zM38 108v1h1v-1zM38 114v1h1v-1zM38 118v1h1v-1zM38 126v1h1v-1zM38 129v1h1v-1zM38 133v2h1v-2zM38 138v1h1v-1zM38 143v1h1v-1zM39 40v12h1v-12zM39 53v3h1v-3zM39 58v2h1v-2zM39 61v4h1v-4zM39 66v2h1v-2zM39 70v3h1v-3zM39 81v1h1v-1zM39 90v2h1v-2zM39 93v7h1v-7zM39 102v3h1v-3zM39 108v1h1v-1zM39 114v1h1v-1zM39 117v2h1v-2zM39 121v3h1v-3zM39 126v1h1v-1zM39 129v1h1v-1zM39 132v7h1v-7zM39 140v1h1v-1zM39 142v3h1v-3zM39 146v2h1v-2zM39 149v1h1v-1zM40 41v2h1v-2zM40 44v3h1v-3zM40 49v1h1v-1zM40 53v3h1v-3zM40 61v3h1v-3zM40 71v2h1v-2zM40 79v1h1v-1zM40 81v1h1v-1zM40 97v1h1v-1zM40 99v1h1v-1zM40 102v3h1v-3zM40 108v1h1v-1zM40 114v1h1v-1zM40 117v2h1v-2zM40 126v1h1v-1zM40 129v1h1v-1zM40 133v2h1v-2zM40 138v1h1v-1zM40 140v1h1v-1zM40 142v2h1v-2zM41 42v4h1v-4zM41 47v9h1v-9zM41 59v1h1v-1zM41 61v3h1v-3zM41 70v3h1v-3zM41 79v1h1v-1zM41 81v1h1v-1zM41 99v1h1v-1zM41 103v2h1v-2zM41 108v1h1v-1zM41 114v1h1v-1zM41 118v1h1v-1zM41 126v1h1v-1zM41 129v1h1v-1zM41 133v2h1v-2zM41 138v1h1v-1zM41 143v1h1v-1zM42 43v13h1v-13zM42 59v1h1v-1zM42 61v2h1v-2zM42 64v1h1v-1zM42 71v3h1v-3zM42 79v1h1v-1zM42 81v2h1v-2zM42 93v7h1v-7zM42 102v3h1v-3zM42 108v1h1v-1zM42 122v2h1v-2zM42 126v1h1v-1zM42 129v1h1v-1zM42 133v6h1v-6zM42 140v1h1v-1zM42 142v3h1v-3zM42 147v1h1v-1zM42 149v2h1v-2zM43 44v7h1v-7zM43 52v4h1v-4zM43 62v1h1v-1zM43 71v2h1v-2zM43 79v1h1v-1zM43 81v2h1v-2zM43 93v7h1v-7zM43 102v3h1v-3zM43 108v1h1v-1zM43 122v2h1v-2zM43 126v1h1v-1zM43 129v1h1v-1zM43 133v6h1v-6zM43 140v1h1v-1zM43 142v3h1v-3zM43 147v1h1v-1zM43 149v2h1v-2zM44 45v11h1v-11zM44 59v1h1v-1zM44 61v2h1v-2zM44 70v3h1v-3zM44 79v1h1v-1zM44 81v1h1v-1zM44 89v1h1v-1zM44 103v1h1v-1zM44 108v1h1v-1zM44 114v1h1v-1zM44 126v1h1v-1zM44 129v1h1v-1zM44 133v1h1v-1zM44 138v1h1v-1zM44 140v1h1v-1zM44 143v1h1v-1zM45 47v9h1v-9zM45 61v2h1v-2zM45 70v3h1v-3zM45 75v1h1v-1zM45 79v1h1v-1zM45 81v1h1v-1zM45 103v1h1v-1zM45 108v1h1v-1zM45 114v1h1v-1zM45 126v1h1v-1zM45 129v1h1v-1zM45 133v1h1v-1zM45 138v1h1v-1zM45 143v1h1v-1zM46 47v9h1v-9zM46 62v1h1v-1zM46 70v1h1v-1zM46 75v1h1v-1zM46 79v1h1v-1zM46 81v1h1v-1zM46 103v1h1v-1zM46 108v1h1v-1zM46 114v1h1v-1zM46 118v1h1v-1zM46 126v1h1v-1zM46 138v1h1v-1zM46 143v1h1v-1zM47 48v9h1v-9zM47 58v1h1v-1zM47 60v3h1v-3zM47 66v3h1v-3zM47 70v1h1v-1zM48 49v13h1v-13zM48 66v10h1v-10zM48 79v1h1v-1zM48 81v1h1v-1zM48 103v1h1v-1zM48 108v1h1v-1zM48 114v1h1v-1zM48 118v1h1v-1zM48 126v1h1v-1zM48 133v1h1v-1zM48 138v1h1v-1zM49 50v4h1v-4zM49 59v1h1v-1zM49 61v2h1v-2zM49 66v1h1v-1zM49 71v2h1v-2zM49 74v2h1v-2zM50 51v5h1v-5zM50 58v5h1v-5zM50 71v7h1v-7zM50 79v1h1v-1zM50 81v1h1v-1zM50 108v1h1v-1zM50 114v1h1v-1zM50 118v1h1v-1zM50 126v1h1v-1zM50 129v1h1v-1zM50 133v2h1v-2zM50 138v1h1v-1zM50 143v1h1v-1zM51 52v3h1v-3zM51 65v1h1v-1zM51 67v11h1v-11zM51 79v1h1v-1zM51 81v1h1v-1zM51 90v2h1v-2zM51 96v4h1v-4zM51 108v1h1v-1zM51 114v1h1v-1zM51 117v2h1v-2zM51 121v3h1v-3zM51 126v1h1v-1zM51 129v7h1v-7zM51 138v1h1v-1zM51 140v1h1v-1zM51 142v3h1v-3zM51 150v1h1v-1zM52 53v4h1v-4zM52 58v3h1v-3zM52 62v1h1v-1zM52 65v3h1v-3zM52 69v3h1v-3zM52 74v4h1v-4zM52 79v1h1v-1zM52 104v1h1v-1zM52 108v1h1v-1zM52 114v1h1v-1zM52 118v1h1v-1zM52 126v1h1v-1zM52 129v1h1v-1zM52 133v2h1v-2zM52 138v1h1v-1zM53 54v1h1v-1zM53 59v1h1v-1zM53 61v2h1v-2zM53 66v1h1v-1zM53 70v2h1v-2zM53 74v4h1v-4zM53 79v1h1v-1zM53 93v5h1v-5zM53 104v1h1v-1zM53 108v1h1v-1zM53 114v1h1v-1zM53 117v2h1v-2zM53 121v3h1v-3zM53 126v1h1v-1zM53 129v7h1v-7zM53 138v1h1v-1zM53 140v1h1v-1zM53 143v1h1v-1zM53 146v2h1v-2zM53 149v2h1v-2zM54 55v1h1v-1zM54 59v1h1v-1zM54 61v2h1v-2zM54 66v1h1v-1zM54 70v2h1v-2zM54 103v1h1v-1zM54 108v1h1v-1zM54 114v1h1v-1zM54 118v1h1v-1zM54 129v1h1v-1zM54 134v1h1v-1zM54 138v1h1v-1zM54 143v1h1v-1zM55 57v1h1v-1zM55 59v1h1v-1zM55 61v2h1v-2zM55 70v2h1v-2zM56 57v1h1v-1zM56 59v4h1v-4zM56 68v6h1v-6zM57 59v5h1v-5zM57 65v1h1v-1zM57 68v6h1v-6zM57 81v1h1v-1zM57 99v1h1v-1zM57 103v2h1v-2zM57 118v1h1v-1zM57 126v1h1v-1zM57 129v2h1v-2zM57 133v2h1v-2zM57 138v1h1v-1zM57 140v1h1v-1zM57 142v2h1v-2zM58 59v23h1v-23zM58 150v2h1v-2zM59 60v3h1v-3zM59 64v18h1v-18zM59 150v2h1v-2zM60 61v27h1v-27zM60 90v26h1v-26zM60 146v6h1v-6zM61 62v26h1v-26zM61 90v26h1v-26zM61 133v1h1v-1zM61 146v6h1v-6zM62 63v11h1v-11zM62 78v10h1v-10zM62 94v18h1v-18zM62 114v2h1v-2zM62 124v4h1v-4zM63 64v10h1v-10zM63 78v10h1v-10zM63 94v18h1v-18zM63 114v2h1v-2zM63 124v4h1v-4zM64 65v19h1v-19zM64 106v4h1v-4zM65 66v18h1v-18zM65 106v4h1v-4zM66 67v19h1v-19zM66 114v2h1v-2zM67 68v18h1v-18zM67 114v2h1v-2zM68 69v21h1v-21zM68 114v2h1v-2zM68 118v1h1v-1zM69 70v20h1v-20zM69 114v2h1v-2zM69 118v1h1v-1zM70 71v17h1v-17zM70 96v2h1v-2zM70 114v2h1v-2zM71 72v16h1v-16zM71 96v2h1v-2zM71 114v2h1v-2zM72 73v15h1v-15zM72 90v2h1v-2zM72 114v2h1v-2zM72 132v2h1v-2zM73 74v14h1v-14zM73 90v2h1v-2zM73 114v2h1v-2zM73 132v2h1v-2zM73 138v1h1v-1zM74 75v15h1v-15zM74 96v2h1v-2zM74 114v2h1v-2zM75 76v14h1v-14zM75 96v2h1v-2zM75 114v2h1v-2zM76 77v13h1v-13zM76 96v4h1v-4zM76 122v2h1v-2zM76 130v8h1v-8zM77 78v12h1v-12zM77 96v4h1v-4zM77 122v2h1v-2zM77 130v8h1v-8zM78 79v11h1v-11zM78 92v2h1v-2zM78 96v2h1v-2zM78 102v2h1v-2zM79 80v10h1v-10zM79 92v2h1v-2zM79 96v2h1v-2zM79 102v2h1v-2zM80 81v23h1v-23zM80 122v2h1v-2zM80 126v8h1v-8zM80 136v2h1v-2zM80 146v2h1v-2zM81 82v22h1v-22zM81 122v2h1v-2zM81 126v8h1v-8zM81 136v2h1v-2zM81 146v2h1v-2zM82 83v25h1v-25zM82 112v2h1v-2zM82 122v2h1v-2zM82 126v8h1v-8zM82 136v3h1v-3zM82 140v2h1v-2zM82 144v4h1v-4zM83 84v24h1v-24zM83 112v2h1v-2zM83 122v2h1v-2zM83 126v8h1v-8zM83 136v2h1v-2zM83 140v2h1v-2zM83 144v4h1v-4zM84 85v5h1v-5zM84 96v6h1v-6zM84 114v4h1v-4zM84 126v4h1v-4zM85 86v4h1v-4zM85 96v6h1v-6zM85 114v4h1v-4zM85 126v4h1v-4zM86 87v11h1v-11zM86 100v2h1v-2zM87 88v10h1v-10zM87 100v2h1v-2zM88 89v15h1v-15zM88 106v4h1v-4zM88 118v2h1v-2zM89 90v14h1v-14zM89 106v4h1v-4zM89 118v2h1v-2zM90 91v17h1v-17zM90 116v10h1v-10zM90 128v2h1v-2zM90 150v2h1v-2zM91 92v16h1v-16zM91 116v10h1v-10zM91 128v2h1v-2zM91 150v2h1v-2zM92 93v17h1v-17zM92 114v2h1v-2zM92 118v12h1v-12zM92 150v2h1v-2zM93 94v16h1v-16zM93 114v2h1v-2zM93 118v12h1v-12zM93 150v2h1v-2zM94 95v15h1v-15zM94 114v16h1v-16zM94 133v1h1v-1zM94 138v1h1v-1zM94 143v1h1v-1zM94 150v2h1v-2zM95 96v14h1v-14zM95 114v16h1v-16zM95 150v2h1v-2zM96 97v11h1v-11zM96 114v2h1v-2zM96 150v2h1v-2zM97 98v10h1v-10zM97 114v2h1v-2zM97 118v1h1v-1zM97 126v1h1v-1zM97 129v1h1v-1zM97 138v1h1v-1zM97 150v2h1v-2zM98 99v9h1v-9zM98 114v12h1v-12zM98 150v2h1v-2zM99 100v8h1v-8zM99 114v12h1v-12zM99 150v2h1v-2zM100 101v7h1v-7zM100 114v16h1v-16zM100 150v2h1v-2zM101 102v6h1v-6zM101 114v16h1v-16zM101 150v2h1v-2zM102 103v7h1v-7zM102 114v2h1v-2zM102 150v2h1v-2zM103 104v6h1v-6zM103 114v2h1v-2zM103 150v2h1v-2zM104 105v5h1v-5zM104 114v14h1v-14zM104 138v4h1v-4zM104 150v2h1v-2zM105 106v4h1v-4zM105 114v14h1v-14zM105 138v4h1v-4zM105 150v2h1v-2zM106 107v23h1v-23zM106 138v2h1v-2zM106 148v4h1v-4zM107 108v22h1v-22zM107 138v2h1v-2zM107 148v4h1v-4zM108 109v21h1v-21zM108 138v2h1v-2zM108 148v4h1v-4zM109 110v20h1v-20zM109 138v2h1v-2zM109 148v4h1v-4zM110 111v19h1v-19zM110 132v2h1v-2zM110 142v4h1v-4zM110 148v4h1v-4zM111 112v18h1v-18zM111 132v2h1v-2zM111 142v4h1v-4zM111 148v4h1v-4zM112 113v39h1v-39zM113 114v38h1v-38zM114 115v21h1v-21zM114 138v14h1v-14zM115 116v20h1v-20zM115 138v14h1v-14zM116 117v35h1v-35zM117 118v34h1v-34zM118 119v33h1v-33zM119 120v32h1v-32zM120 121v31h1v-31zM121 122v30h1v-30zM122 123v29h1v-29zM123 124v28h1v-28zM124 125v27h1v-27zM125 126v26h1v-26zM126 127v25h1v-25zM127 128v24h1v-24zM128 129v23h1v-23zM129 130v22h1v-22zM130 131v21h1v-21zM131 132v20h1v-20zM132 133v19h1v-19zM133 134v18h1v-18zM134 135v17h1v-17zM135 136v16h1v-16zM136 137v15h1v-15zM137 138v14h1v-14zM138 139v13h1v-13zM139 140v12h1v-12zM140 141v11h1v-11zM141 142v10h1v-10zM142 143v9h1v-9zM143 144v8h1v-8zM144 145v7h1v-7zM145 146v6h1v-6zM146 147v5h1v-5zM147 148v4h1v-4zM148 149v3h1v-3zM149 150v2h1v-2zM150 151v1h1v-1z"/>
</g>
<path d="M392.9 1042.23H575.72L484.31 1133.63ZM598.57 1042.23H712.83L655.7 1099.36ZM849.94 1042.23H918.5L884.22 1076.5ZM1055.61 1042.23H1124.17L1089.89 1076.5ZM1192.72 1042.23H1215.58L1204.15 1053.65ZM1238.43 1042.23H1535.5L1386.97 1190.76ZM1558.36 1042.23H1604.06L1581.21 1065.08ZM1695.47 1042.23H2952.33L2323.9 1670.66ZM2975.18 1042.23H3775L3375.09 1442.14Z" stroke="#000" stroke-width="2.9" fill="none" stroke-linejoin="miter"/>
<rect x="2661.9" y="2690.7" width="36.6" height="89.9" fill="#ffffff"/>
<rect x="2698.2" y="2690.7" width="36.6" height="89.9" fill="#fefef4"/>
<rect x="2734.51" y="2690.7" width="36.6" height="89.9" fill="#fdfce8"/>
<rect x="2770.81" y="2690.7" width="36.6" height="89.9" fill="#fcfbdd"/>
<rect x="2807.11" y="2690.7" width="36.6" height="89.9" fill="#fbfad2"/>
<rect x="2843.42" y="2690.7" width="36.6" height="89.9" fill="#faf9c7"/>
<rect x="2879.72" y="2690.7" width="36.6" height="89.9" fill="#f9f8bc"/>
<rect x="2916.02" y="2690.7" width="36.6" height="89.9" fill="#f8f6b0"/>
<rect x="2952.32" y="2690.7" width="36.6" height="89.9" fill="#f8f5a5"/>
<rect x="2988.63" y="2690.7" width="36.6" height="89.9" fill="#f7f49a"/>
<rect x="3024.93" y="2690.7" width="36.6" height="89.9" fill="#f6f28e"/>
<rect x="3061.23" y="2690.7" width="36.6" height="89.9" fill="#f5f183"/>
<rect x="3097.54" y="2690.7" width="36.6" height="89.9" fill="#f4f078"/>
<rect x="3133.84" y="2690.7" width="36.6" height="89.9" fill="#f3ef6d"/>
<rect x="3170.14" y="2690.7" width="36.6" height="89.9" fill="#f2ee62"/>
<rect x="3206.45" y="2690.7" width="36.6" height="89.9" fill="#f1ec56"/>
<rect x="3242.75" y="2690.7" width="36.6" height="89.9" fill="#f0eb4b"/>
<rect x="3279.05" y="2690.7" width="36.6" height="89.9" fill="#f1dc46"/>
<rect x="3315.35" y="2690.7" width="36.6" height="89.9" fill="#f2ce42"/>
<rect x="3351.66" y="2690.7" width="36.6" height="89.9" fill="#f3bf3d"/>
<rect x="3387.96" y="2690.7" width="36.6" height="89.9" fill="#f4b038"/>
<rect x="3424.26" y="2690.7" width="36.6" height="89.9" fill="#f5a234"/>
<rect x="3460.57" y="2690.7" width="36.6" height="89.9" fill="#f6932f"/>
<rect x="3496.87" y="2690.7" width="36.6" height="89.9" fill="#f7842a"/>
<rect x="3533.17" y="2690.7" width="36.6" height="89.9" fill="#f87626"/>
<rect x="3569.48" y="2690.7" width="36.6" height="89.9" fill="#f86721"/>
<rect x="3605.78" y="2690.7" width="36.6" height="89.9" fill="#f9581c"/>
<rect x="3642.08" y="2690.7" width="36.6" height="89.9" fill="#fa4917"/>
<rect x="3678.38" y="2690.7" width="36.6" height="89.9" fill="#fb3b13"/>
<rect x="3714.69" y="2690.7" width="36.6" height="89.9" fill="#fc2c0e"/>
<rect x="3750.99" y="2690.7" width="36.6" height="89.9" fill="#fd1d09"/>
<rect x="3787.29" y="2690.7" width="36.6" height="89.9" fill="#fe0f05"/>
<rect x="3823.6" y="2690.7" width="36.3" height="89.9" fill="#ff0000"/>
<rect x="2661.9" y="2690.7" width="1198" height="89.9" fill="none" stroke="#000" stroke-width="2"/>
<text x="3242" y="2604" font-size="86" text-anchor="middle">D' Color Key</text>
<text x="2663" y="2866" font-size="86" text-anchor="middle">0.0</text>
<text x="3825" y="2866" font-size="86" text-anchor="middle">1.0</text>
</svg></body></html>
